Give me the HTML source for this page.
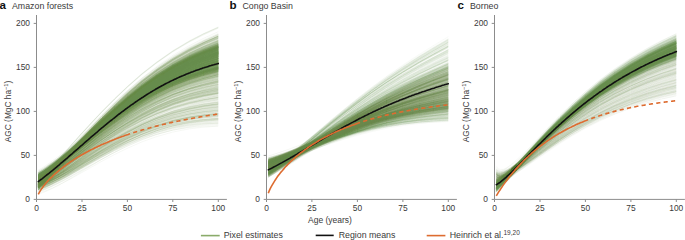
<!DOCTYPE html>
<html><head><meta charset="utf-8"><style>
html,body{margin:0;padding:0;background:#fff;width:685px;height:240px;overflow:hidden}
svg{display:block}
text{font-family:"Liberation Sans",sans-serif}
</style></head><body>
<svg xmlns="http://www.w3.org/2000/svg" width="685" height="240" viewBox="0 0 685 240">
<defs><path id="a0" d="M38.3 181.6 40.1 180.5 42.9 178.6 45.6 176.7 49.2 174.0 52.9 171.3 58.3 167.0 63.8 162.7 71.0 156.7 80.1 149.2 91.0 140.2 101.9 131.3 114.7 121.4 127.4 112.2 141.9 102.5 156.5 94.0 172.8 85.9 189.2 79.3 203.8 74.5 218.3 70.5"/><path id="a1" d="M38.3 181.6 40.1 180.6 42.9 179.0 45.6 177.2 49.2 174.7 52.9 172.1 58.3 168.0 63.8 163.8 71.0 158.1 80.1 150.8 91.0 142.0 101.9 133.5 114.7 123.9 127.4 114.9 141.9 105.5 156.5 97.3 172.8 89.5 189.2 83.2 203.8 78.6 218.3 74.9"/><path id="a2" d="M38.3 181.6 40.1 179.6 42.9 177.0 45.6 174.5 49.2 171.1 52.9 167.7 58.3 162.5 63.8 157.3 71.0 150.3 80.1 141.6 91.0 131.2 101.9 121.1 114.7 109.9 127.4 99.3 141.9 88.2 156.5 78.3 172.8 68.7 189.2 60.6 203.8 54.6 218.3 49.4"/><path id="a3" d="M38.3 181.6 40.1 179.7 42.9 177.2 45.6 174.7 49.2 171.3 52.9 168.0 58.3 162.9 63.8 157.8 71.0 150.9 80.1 142.2 91.0 132.0 101.9 122.0 114.7 110.8 127.4 100.3 141.9 89.4 156.5 79.6 172.8 70.1 189.2 62.2 203.8 56.2 218.3 51.2"/><path id="a4" d="M38.3 181.6 40.1 179.4 42.9 176.7 45.6 174.0 49.2 170.5 52.9 166.9 58.3 161.6 63.8 156.2 71.0 149.0 80.1 140.0 91.0 129.4 101.9 119.0 114.7 107.4 127.4 96.6 141.9 85.2 156.5 75.0 172.8 65.1 189.2 56.7 203.8 50.4 218.3 45.0"/><path id="a5" d="M38.3 181.6 40.1 179.4 42.9 176.6 45.6 173.8 49.2 170.2 52.9 166.6 58.3 161.2 63.8 155.7 71.0 148.5 80.1 139.4 91.0 128.6 101.9 118.2 114.7 106.5 127.4 95.5 141.9 84.0 156.5 73.7 172.8 63.7 189.2 55.2 203.8 48.8 218.3 43.2"/><path id="a6" d="M38.3 181.6 40.1 180.3 42.9 178.3 45.6 176.2 49.2 173.4 52.9 170.5 58.3 166.1 63.8 161.6 71.0 155.4 80.1 147.6 91.0 138.3 101.9 129.2 114.7 119.0 127.4 109.5 141.9 99.6 156.5 90.8 172.8 82.3 189.2 75.4 203.8 70.3 218.3 66.1"/><path id="a7" d="M38.3 181.6 40.1 180.2 42.9 178.2 45.6 176.1 49.2 173.2 52.9 170.2 58.3 165.7 63.8 161.1 71.0 154.9 80.1 147.0 91.0 137.6 101.9 128.4 114.7 118.1 127.4 108.4 141.9 98.4 156.5 89.5 172.8 80.9 189.2 73.8 203.8 68.7 218.3 64.4"/><path id="a8" d="M38.3 181.6 40.1 179.7 42.9 177.1 45.6 174.6 49.2 171.2 52.9 167.8 58.3 162.7 63.8 157.5 71.0 150.6 80.1 141.9 91.0 131.6 101.9 121.6 114.7 110.3 127.4 99.8 141.9 88.8 156.5 79.0 172.8 69.4 189.2 61.4 203.8 55.4 218.3 50.3"/><path id="a9" d="M38.3 181.6 40.1 180.0 42.9 177.7 45.6 175.4 49.2 172.3 52.9 169.2 58.3 164.4 63.8 159.5 71.0 153.0 80.1 144.8 91.0 135.0 101.9 125.4 114.7 114.7 127.4 104.6 141.9 94.2 156.5 84.9 172.8 75.9 189.2 68.4 203.8 62.9 218.3 58.2"/><path id="a10" d="M38.3 181.6 40.1 179.3 42.9 176.4 45.6 173.6 49.2 170.0 52.9 166.3 58.3 160.8 63.8 155.3 71.0 147.9 80.1 138.8 91.0 127.9 101.9 117.3 114.7 105.5 127.4 94.4 141.9 82.8 156.5 72.4 172.8 62.2 189.2 53.6 203.8 47.1 218.3 41.5"/><path id="a11" d="M38.3 181.6 40.1 179.6 42.9 177.0 45.6 174.4 49.2 171.0 52.9 167.5 58.3 162.3 63.8 157.1 71.0 150.1 80.1 141.3 91.0 130.9 101.9 120.7 114.7 109.4 127.4 98.7 141.9 87.6 156.5 77.7 172.8 68.0 189.2 59.8 203.8 53.7 218.3 48.5"/><path id="a12" d="M38.3 181.6 40.1 180.4 42.9 178.4 45.6 176.4 49.2 173.7 52.9 170.8 58.3 166.5 63.8 162.0 71.0 155.9 80.1 148.3 91.0 139.1 101.9 130.1 114.7 120.0 127.4 110.6 141.9 100.7 156.5 92.1 172.8 83.8 189.2 76.9 203.8 72.0 218.3 67.9"/><path id="a13" d="M38.3 181.6 40.1 180.3 42.9 178.2 45.6 176.2 49.2 173.3 52.9 170.4 58.3 165.9 63.8 161.3 71.0 155.1 80.1 147.3 91.0 137.9 101.9 128.8 114.7 118.5 127.4 109.0 141.9 99.0 156.5 90.1 172.8 81.6 189.2 74.6 203.8 69.5 218.3 65.2"/><path id="a14" d="M38.3 181.6 40.1 179.8 42.9 177.4 45.6 175.0 49.2 171.8 52.9 168.6 58.3 163.6 63.8 158.6 71.0 151.9 80.1 143.5 91.0 133.5 101.9 123.7 114.7 112.8 127.4 102.5 141.9 91.8 156.5 82.2 172.8 73.0 189.2 65.3 203.8 59.5 218.3 54.7"/><path id="a15" d="M38.3 181.6 40.1 180.6 42.9 178.9 45.6 177.1 49.2 174.5 52.9 171.9 58.3 167.8 63.8 163.6 71.0 157.8 80.1 150.5 91.0 141.7 101.9 133.0 114.7 123.4 127.4 114.3 141.9 104.9 156.5 96.7 172.8 88.8 189.2 82.4 203.8 77.8 218.3 74.0"/><path id="a16" d="M38.3 181.6 40.1 180.4 42.9 178.5 45.6 176.5 49.2 173.8 52.9 171.0 58.3 166.7 63.8 162.2 71.0 156.2 80.1 148.6 91.0 139.4 101.9 130.5 114.7 120.5 127.4 111.1 141.9 101.3 156.5 92.7 172.8 84.5 189.2 77.7 203.8 72.8 218.3 68.8"/><path id="a17" d="M38.3 181.6 40.1 180.5 42.9 178.8 45.6 176.9 49.2 174.3 52.9 171.6 58.3 167.4 63.8 163.1 71.0 157.3 80.1 149.8 91.0 140.9 101.9 132.2 114.7 122.4 127.4 113.3 141.9 103.7 156.5 95.4 172.8 87.4 189.2 80.8 203.8 76.1 218.3 72.3"/><path id="a18" d="M38.3 181.6 40.1 179.9 42.9 177.5 45.6 175.1 49.2 171.9 52.9 168.7 58.3 163.8 63.8 158.9 71.0 152.2 80.1 143.8 91.0 133.8 101.9 124.1 114.7 113.2 127.4 103.0 141.9 92.4 156.5 82.9 172.8 73.7 189.2 66.0 203.8 60.4 218.3 55.6"/><path id="a19" d="M38.3 181.6 40.1 180.7 42.9 179.0 45.6 177.3 49.2 174.8 52.9 172.2 58.3 168.2 63.8 164.0 71.0 158.3 80.1 151.1 91.0 142.4 101.9 133.9 114.7 124.3 127.4 115.4 141.9 106.1 156.5 98.0 172.8 90.2 189.2 83.9 203.8 79.5 218.3 75.8"/><path id="a20" d="M38.3 181.6 40.1 180.2 42.9 178.0 45.6 175.9 49.2 172.9 52.9 169.9 58.3 165.3 63.8 160.7 71.0 154.3 80.1 146.4 91.0 136.8 101.9 127.5 114.7 117.1 127.4 107.3 141.9 97.2 156.5 88.1 172.8 79.5 189.2 72.3 203.8 67.0 218.3 62.6"/><path id="a21" d="M38.3 181.6 40.1 179.5 42.9 176.8 45.6 174.1 49.2 170.6 52.9 167.1 58.3 161.8 63.8 156.4 71.0 149.3 80.1 140.3 91.0 129.8 101.9 119.4 114.7 107.9 127.4 97.1 141.9 85.8 156.5 75.7 172.8 65.8 189.2 57.5 203.8 51.2 218.3 45.9"/><path id="a22" d="M38.3 181.6 40.1 180.6 42.9 178.8 45.6 177.0 49.2 174.4 52.9 171.8 58.3 167.6 63.8 163.3 71.0 157.5 80.1 150.2 91.0 141.3 101.9 132.6 114.7 122.9 127.4 113.8 141.9 104.3 156.5 96.0 172.8 88.1 189.2 81.6 203.8 77.0 218.3 73.2"/><path id="a23" d="M38.3 181.6 40.1 179.6 42.9 176.9 45.6 174.3 49.2 170.8 52.9 167.4 58.3 162.1 63.8 156.9 71.0 149.8 80.1 141.0 91.0 130.5 101.9 120.3 114.7 108.9 127.4 98.2 141.9 87.0 156.5 77.0 172.8 67.3 189.2 59.0 203.8 52.9 218.3 47.6"/><path id="a24" d="M38.3 181.6 40.1 180.0 42.9 177.8 45.6 175.6 49.2 172.6 52.9 169.5 58.3 164.8 63.8 160.0 71.0 153.5 80.1 145.4 91.0 135.7 101.9 126.2 114.7 115.6 127.4 105.7 141.9 95.4 156.5 86.2 172.8 77.3 189.2 69.9 203.8 64.5 218.3 60.0"/><path id="a25" d="M38.3 181.6 40.1 180.0 42.9 177.8 45.6 175.5 49.2 172.4 52.9 169.3 58.3 164.6 63.8 159.8 71.0 153.3 80.1 145.1 91.0 135.3 101.9 125.8 114.7 115.2 127.4 105.2 141.9 94.8 156.5 85.5 172.8 76.6 189.2 69.2 203.8 63.7 218.3 59.1"/><path id="a26" d="M38.3 181.6 40.1 179.8 42.9 177.3 45.6 174.8 49.2 171.6 52.9 168.3 58.3 163.3 63.8 158.2 71.0 151.4 80.1 142.9 91.0 132.7 101.9 122.8 114.7 111.8 127.4 101.4 141.9 90.6 156.5 80.9 172.8 71.6 189.2 63.7 203.8 57.9 218.3 52.9"/><path id="a27" d="M38.3 181.6 40.1 180.4 42.9 178.6 45.6 176.6 49.2 173.9 52.9 171.1 58.3 166.9 63.8 162.5 71.0 156.5 80.1 148.9 91.0 139.8 101.9 130.9 114.7 121.0 127.4 111.6 141.9 101.9 156.5 93.4 172.8 85.2 189.2 78.5 203.8 73.6 218.3 69.6"/><path id="a28" d="M38.3 181.6 40.1 179.3 42.9 176.5 45.6 173.7 49.2 170.1 52.9 166.5 58.3 161.0 63.8 155.5 71.0 148.2 80.1 139.1 91.0 128.3 101.9 117.7 114.7 106.0 127.4 95.0 141.9 83.4 156.5 73.1 172.8 63.0 189.2 54.4 203.8 47.9 218.3 42.4"/><path id="a29" d="M38.3 181.6 40.1 179.3 42.9 176.4 45.6 173.5 49.2 169.8 52.9 166.2 58.3 160.6 63.8 155.1 71.0 147.7 80.1 138.4 91.0 127.5 101.9 116.9 114.7 105.0 127.4 93.9 141.9 82.2 156.5 71.8 172.8 61.5 189.2 52.8 203.8 46.3 218.3 40.6"/><path id="a30" d="M38.3 181.6 40.1 179.9 42.9 177.6 45.6 175.3 49.2 172.2 52.9 169.0 58.3 164.2 63.8 159.3 71.0 152.7 80.1 144.5 91.0 134.6 101.9 125.0 114.7 114.2 127.4 104.1 141.9 93.6 156.5 84.2 172.8 75.2 189.2 67.6 203.8 62.0 218.3 57.3"/><path id="a31" d="M38.3 181.6 40.1 180.1 42.9 178.0 45.6 175.8 49.2 172.8 52.9 169.8 58.3 165.2 63.8 160.4 71.0 154.1 80.1 146.0 91.0 136.5 101.9 127.1 114.7 116.6 127.4 106.8 141.9 96.6 156.5 87.5 172.8 78.7 189.2 71.5 203.8 66.2 218.3 61.7"/><path id="a32" d="M38.3 181.6 40.1 179.9 42.9 177.6 45.6 175.2 49.2 172.1 52.9 168.9 58.3 164.0 63.8 159.1 71.0 152.5 80.1 144.1 91.0 134.2 101.9 124.5 114.7 113.7 127.4 103.6 141.9 93.0 156.5 83.6 172.8 74.4 189.2 66.8 203.8 61.2 218.3 56.4"/><path id="a33" d="M38.3 181.6 40.1 180.7 42.9 179.1 45.6 177.4 49.2 174.9 52.9 172.4 58.3 168.4 63.8 164.2 71.0 158.6 80.1 151.4 91.0 142.8 101.9 134.3 114.7 124.8 127.4 115.9 141.9 106.7 156.5 98.6 172.8 90.9 189.2 84.7 203.8 80.3 218.3 76.7"/><path id="a34" d="M38.3 181.6 40.1 180.8 42.9 179.2 45.6 177.5 49.2 175.0 52.9 172.5 58.3 168.6 63.8 164.5 71.0 158.9 80.1 151.7 91.0 143.2 101.9 134.7 114.7 125.3 127.4 116.5 141.9 107.3 156.5 99.3 172.8 91.7 189.2 85.5 203.8 81.1 218.3 77.6"/><path id="a35" d="M38.3 181.6 40.1 179.4 42.9 176.6 45.6 173.9 49.2 170.3 52.9 166.8 58.3 161.4 63.8 156.0 71.0 148.7 80.1 139.7 91.0 129.0 101.9 118.6 114.7 107.0 127.4 96.0 141.9 84.6 156.5 74.4 172.8 64.4 189.2 55.9 203.8 49.6 218.3 44.1"/><path id="a36" d="M38.3 181.6 40.1 180.8 42.9 179.2 45.6 177.5 49.2 175.2 52.9 172.7 58.3 168.7 63.8 164.7 71.0 159.1 80.1 152.1 91.0 143.5 101.9 135.2 114.7 125.8 127.4 117.0 141.9 107.9 156.5 99.9 172.8 92.4 189.2 86.3 203.8 81.9 218.3 78.4"/><path id="a37" d="M38.3 181.6 40.1 179.8 42.9 177.4 45.6 174.9 49.2 171.7 52.9 168.4 58.3 163.5 63.8 158.4 71.0 151.7 80.1 143.2 91.0 133.1 101.9 123.3 114.7 112.3 127.4 102.0 141.9 91.2 156.5 81.6 172.8 72.3 189.2 64.5 203.8 58.7 218.3 53.8"/><path id="a38" d="M38.3 181.6 40.1 179.2 42.9 176.2 45.6 173.3 49.2 169.5 52.9 165.7 58.3 160.1 63.8 154.4 71.0 146.9 80.1 137.5 91.0 126.4 101.9 115.6 114.7 103.6 127.4 92.3 141.9 80.4 156.5 69.8 172.8 59.4 189.2 50.5 203.8 43.8 218.3 38.0"/><path id="a39" d="M38.3 181.6 40.1 180.5 42.9 178.7 45.6 176.8 49.2 174.2 52.9 171.4 58.3 167.2 63.8 162.9 71.0 157.0 80.1 149.5 91.0 140.6 101.9 131.8 114.7 121.9 127.4 112.7 141.9 103.1 156.5 94.7 172.8 86.6 189.2 80.1 203.8 75.3 218.3 71.4"/><path id="a40" d="M38.3 181.6 40.1 179.1 42.9 176.0 45.6 173.1 49.2 169.2 52.9 165.4 58.3 159.7 63.8 153.9 71.0 146.3 80.1 136.9 91.0 125.7 101.9 114.8 114.7 102.6 127.4 91.2 141.9 79.2 156.5 68.5 172.8 57.9 189.2 48.9 203.8 42.1 218.3 36.2"/><path id="a41" d="M38.3 181.6 40.1 179.7 42.9 177.2 45.6 174.8 49.2 171.4 52.9 168.1 58.3 163.1 63.8 158.0 71.0 151.1 80.1 142.6 91.0 132.4 101.9 122.4 114.7 111.3 127.4 100.9 141.9 90.0 156.5 80.3 172.8 70.8 189.2 62.9 203.8 57.1 218.3 52.0"/><path id="a42" d="M38.3 181.6 40.1 179.2 42.9 176.3 45.6 173.5 49.2 169.7 52.9 166.0 58.3 160.4 63.8 154.8 71.0 147.4 80.1 138.1 91.0 127.1 101.9 116.5 114.7 104.5 127.4 93.4 141.9 81.6 156.5 71.1 172.8 60.8 189.2 52.0 203.8 45.4 218.3 39.7"/><path id="a43" d="M38.3 181.6 40.1 180.8 42.9 179.3 45.6 177.6 49.2 175.3 52.9 172.8 58.3 168.9 63.8 164.9 71.0 159.4 80.1 152.4 91.0 143.9 101.9 135.6 114.7 126.3 127.4 117.6 141.9 108.5 156.5 100.6 172.8 93.1 189.2 87.1 203.8 82.8 218.3 79.3"/><path id="a44" d="M38.3 181.6 40.1 180.1 42.9 177.9 45.6 175.7 49.2 172.7 52.9 169.6 58.3 165.0 63.8 160.2 71.0 153.8 80.1 145.7 91.0 136.1 101.9 126.7 114.7 116.1 127.4 106.3 141.9 96.0 156.5 86.8 172.8 78.0 189.2 70.7 203.8 65.3 218.3 60.8"/><path id="a45" d="M38.3 181.6 40.1 179.5 42.9 176.8 45.6 174.2 49.2 170.7 52.9 167.2 58.3 161.9 63.8 156.6 71.0 149.5 80.1 140.7 91.0 130.1 101.9 119.9 114.7 108.4 127.4 97.7 141.9 86.4 156.5 76.3 172.8 66.5 189.2 58.3 203.8 52.1 218.3 46.8"/><path id="a46" d="M38.3 181.6 40.1 180.2 42.9 178.1 45.6 176.0 49.2 173.1 52.9 170.1 58.3 165.5 63.8 160.9 71.0 154.6 80.1 146.7 91.0 137.2 101.9 127.9 114.7 117.6 127.4 107.9 141.9 97.8 156.5 88.8 172.8 80.2 189.2 73.0 203.8 67.8 218.3 63.5"/><path id="a47" d="M38.3 181.6 40.1 180.3 42.9 178.4 45.6 176.3 49.2 173.6 52.9 170.7 58.3 166.3 63.8 161.8 71.0 155.7 80.1 147.9 91.0 138.7 101.9 129.6 114.7 119.5 127.4 110.0 141.9 100.1 156.5 91.4 172.8 83.0 189.2 76.2 203.8 71.2 218.3 67.0"/><path id="a48" d="M38.3 181.6 40.1 179.2 42.9 176.2 45.6 173.4 49.2 169.6 52.9 165.9 58.3 160.2 63.8 154.6 71.0 147.1 80.1 137.8 91.0 126.8 101.9 116.0 114.7 104.1 127.4 92.8 141.9 81.0 156.5 70.4 172.8 60.1 189.2 51.3 203.8 44.6 218.3 38.8"/><path id="a49" d="M38.3 181.6 40.1 179.1 42.9 176.1 45.6 173.2 49.2 169.3 52.9 165.5 58.3 159.9 63.8 154.2 71.0 146.6 80.1 137.2 91.0 126.0 101.9 115.2 114.7 103.1 127.4 91.7 141.9 79.8 156.5 69.1 172.8 58.6 189.2 49.7 203.8 42.9 218.3 37.1"/><path id="a50" d="M38.3 181.6 40.1 179.1 42.9 176.0 45.6 173.0 49.2 169.1 52.9 165.2 58.3 159.5 63.8 153.7 71.0 146.1 80.1 136.5 91.0 125.3 101.9 114.3 114.7 102.1 127.4 90.7 141.9 78.6 156.5 67.8 172.8 57.2 189.2 48.2 203.8 41.3 218.3 35.3"/><path id="a51" d="M38.3 181.6 40.1 179.0 42.9 175.9 45.6 172.9 49.2 169.0 52.9 165.1 58.3 159.3 63.8 153.5 71.0 145.8 80.1 136.2 91.0 124.9 101.9 113.9 114.7 101.6 127.4 90.1 141.9 78.0 156.5 67.2 172.8 56.5 189.2 47.4 203.8 40.5 218.3 34.4"/><path id="a52" d="M38.3 181.6 40.1 178.7 42.9 175.4 45.6 172.1 49.2 168.0 52.9 163.9 58.3 157.8 63.8 151.7 71.0 143.7 80.1 133.7 91.0 121.9 101.9 110.5 114.7 97.8 127.4 85.8 141.9 73.2 156.5 61.9 172.8 50.7 189.2 41.2 203.8 33.8 218.3 27.4"/><path id="a53" d="M38.3 181.6 40.1 178.8 42.9 175.4 45.6 172.2 49.2 168.1 52.9 164.0 58.3 158.0 63.8 151.9 71.0 143.9 80.1 134.0 91.0 122.3 101.9 110.9 114.7 98.3 127.4 86.4 141.9 73.8 156.5 62.6 172.8 51.5 189.2 41.9 203.8 34.7 218.3 28.3"/><path id="a54" d="M38.3 181.6 40.1 179.0 42.9 175.8 45.6 172.7 49.2 168.7 52.9 164.8 58.3 158.9 63.8 153.1 71.0 145.3 80.1 135.6 91.0 124.2 101.9 113.1 114.7 100.7 127.4 89.0 141.9 76.8 156.5 65.9 172.8 55.1 189.2 45.8 203.8 38.8 218.3 32.7"/><path id="a55" d="M38.3 181.6 40.1 179.0 42.9 175.8 45.6 172.8 49.2 168.9 52.9 164.9 58.3 159.1 63.8 153.3 71.0 145.5 80.1 135.9 91.0 124.5 101.9 113.5 114.7 101.2 127.4 89.6 141.9 77.4 156.5 66.5 172.8 55.8 189.2 46.6 203.8 39.6 218.3 33.6"/><path id="a56" d="M38.3 181.6 40.1 178.9 42.9 175.6 45.6 172.5 49.2 168.5 52.9 164.5 58.3 158.5 63.8 152.6 71.0 144.7 80.1 135.0 91.0 123.4 101.9 112.2 114.7 99.7 127.4 88.0 141.9 75.6 156.5 64.5 172.8 53.6 189.2 44.3 203.8 37.1 218.3 30.9"/><path id="a57" d="M38.3 181.6 40.1 178.7 42.9 175.2 45.6 172.0 49.2 167.7 52.9 163.6 58.3 157.4 63.8 151.3 71.0 143.1 80.1 133.0 91.0 121.2 101.9 109.7 114.7 96.8 127.4 84.7 141.9 72.0 156.5 60.6 172.8 49.3 189.2 39.6 203.8 32.2 218.3 25.6"/><path id="a58" d="M38.3 181.6 40.1 178.8 42.9 175.6 45.6 172.4 49.2 168.4 52.9 164.3 58.3 158.3 63.8 152.4 71.0 144.5 80.1 134.6 91.0 123.0 101.9 111.8 114.7 99.2 127.4 87.4 141.9 75.0 156.5 63.9 172.8 52.9 189.2 43.5 203.8 36.3 218.3 30.0"/><path id="a59" d="M38.3 181.6 40.1 178.9 42.9 175.7 45.6 172.6 49.2 168.6 52.9 164.6 58.3 158.7 63.8 152.8 71.0 145.0 80.1 135.3 91.0 123.8 101.9 112.6 114.7 100.2 127.4 88.5 141.9 76.2 156.5 65.2 172.8 54.3 189.2 45.0 203.8 38.0 218.3 31.8"/><path id="a60" d="M38.3 181.6 40.1 178.8 42.9 175.5 45.6 172.3 49.2 168.2 52.9 164.2 58.3 158.2 63.8 152.2 71.0 144.2 80.1 134.3 91.0 122.7 101.9 111.4 114.7 98.7 127.4 86.9 141.9 74.4 156.5 63.2 172.8 52.2 189.2 42.7 203.8 35.5 218.3 29.2"/><path id="a61" d="M38.3 181.6 40.1 178.7 42.9 175.3 45.6 172.1 49.2 167.9 52.9 163.7 58.3 157.6 63.8 151.5 71.0 143.4 80.1 133.4 91.0 121.6 101.9 110.1 114.7 97.3 127.4 85.3 141.9 72.6 156.5 61.3 172.8 50.0 189.2 40.4 203.8 33.0 218.3 26.5"/><path id="a62" d="M38.3 181.6 40.1 180.3 42.9 178.4 45.6 176.4 49.2 173.6 52.9 170.8 58.3 166.4 63.8 162.0 71.0 155.9 80.1 148.3 91.0 139.2 101.9 130.2 114.7 120.2 127.4 110.9 141.9 101.2 156.5 92.6 172.8 84.4 189.2 77.6 203.8 72.8 218.3 68.8"/><path id="a63" d="M38.3 181.6 40.1 180.5 42.9 178.8 45.6 177.0 49.2 174.5 52.9 171.9 58.3 167.8 63.8 163.6 71.0 158.0 80.1 150.8 91.0 142.1 101.9 133.7 114.7 124.2 127.4 115.4 141.9 106.2 156.5 98.2 172.8 90.6 189.2 84.5 203.8 80.2 218.3 76.7"/><path id="a64" d="M38.3 181.6 40.1 181.4 42.9 180.6 45.6 179.6 49.2 178.1 52.9 176.4 58.3 173.7 63.8 170.8 71.0 166.7 80.1 161.5 91.0 155.0 101.9 148.6 114.7 141.5 127.4 134.9 141.9 128.3 156.5 122.7 172.8 117.8 189.2 114.3 203.8 112.3 218.3 111.0"/><path id="a65" d="M38.3 181.6 40.1 180.5 42.9 178.7 45.6 176.9 49.2 174.4 52.9 171.7 58.3 167.7 63.8 163.5 71.0 157.7 80.1 150.5 91.0 141.8 101.9 133.3 114.7 123.8 127.4 114.9 141.9 105.7 156.5 97.6 172.8 89.9 189.2 83.7 203.8 79.4 218.3 75.8"/><path id="a66" d="M38.3 181.6 40.1 180.5 42.9 178.7 45.6 176.8 49.2 174.3 52.9 171.6 58.3 167.5 63.8 163.3 71.0 157.5 80.1 150.2 91.0 141.5 101.9 132.9 114.7 123.3 127.4 114.4 141.9 105.1 156.5 97.0 172.8 89.2 189.2 83.0 203.8 78.5 218.3 74.9"/><path id="a67" d="M38.3 181.6 40.1 180.6 42.9 178.9 45.6 177.1 49.2 174.6 52.9 172.1 58.3 168.1 63.8 164.0 71.0 158.4 80.1 151.3 91.0 142.8 101.9 134.5 114.7 125.1 127.4 116.4 141.9 107.4 156.5 99.5 172.8 92.0 189.2 86.0 203.8 81.8 218.3 78.4"/><path id="a68" d="M38.3 181.6 40.1 180.3 42.9 178.4 45.6 176.4 49.2 173.7 52.9 170.9 58.3 166.6 63.8 162.2 71.0 156.2 80.1 148.6 91.0 139.5 101.9 130.6 114.7 120.7 127.4 111.4 141.9 101.7 156.5 93.2 172.8 85.1 189.2 78.4 203.8 73.6 218.3 69.6"/><path id="a69" d="M38.3 181.6 40.1 181.3 42.9 180.5 45.6 179.4 49.2 177.8 52.9 176.1 58.3 173.3 63.8 170.3 71.0 166.1 80.1 160.6 91.0 154.0 101.9 147.5 114.7 140.2 127.4 133.4 141.9 126.6 156.5 120.9 172.8 115.7 189.2 112.0 203.8 109.8 218.3 108.4"/><path id="a70" d="M38.3 181.6 40.1 180.8 42.9 179.4 45.6 177.9 49.2 175.7 52.9 173.4 58.3 169.8 63.8 166.0 71.0 160.9 80.1 154.3 91.0 146.4 101.9 138.7 114.7 130.0 127.4 121.9 141.9 113.6 156.5 106.4 172.8 99.7 189.2 94.4 203.8 90.9 218.3 88.1"/><path id="a71" d="M38.3 181.6 40.1 180.9 42.9 179.6 45.6 178.2 49.2 176.1 52.9 174.0 58.3 170.5 63.8 167.0 71.0 162.0 80.1 155.7 91.0 148.1 101.9 140.6 114.7 132.2 127.4 124.4 141.9 116.4 156.5 109.5 172.8 103.2 189.2 98.3 203.8 95.0 218.3 92.5"/><path id="a72" d="M38.3 181.6 40.1 181.0 42.9 179.8 45.6 178.4 49.2 176.4 52.9 174.3 58.3 171.0 63.8 167.5 71.0 162.7 80.1 156.5 91.0 149.1 101.9 141.7 114.7 133.5 127.4 125.9 141.9 118.1 156.5 111.4 172.8 105.3 189.2 100.6 203.8 97.5 218.3 95.2"/><path id="a73" d="M38.3 181.6 40.1 181.3 42.9 180.3 45.6 179.2 49.2 177.5 52.9 175.7 58.3 172.8 63.8 169.7 71.0 165.4 80.1 159.8 91.0 153.0 101.9 146.3 114.7 138.9 127.4 131.9 141.9 124.9 156.5 119.0 172.8 113.6 189.2 109.7 203.8 107.3 218.3 105.7"/><path id="a74" d="M38.3 181.6 40.1 180.4 42.9 178.5 45.6 176.6 49.2 173.9 52.9 171.1 58.3 166.9 63.8 162.5 71.0 156.6 80.1 149.1 91.0 140.2 101.9 131.4 114.7 121.6 127.4 112.4 141.9 102.8 156.5 94.5 172.8 86.5 189.2 79.9 203.8 75.2 218.3 71.4"/><path id="a75" d="M38.3 181.6 40.1 180.5 42.9 178.8 45.6 177.0 49.2 174.6 52.9 172.0 58.3 168.0 63.8 163.8 71.0 158.2 80.1 151.1 91.0 142.5 101.9 134.1 114.7 124.7 127.4 115.9 141.9 106.8 156.5 98.9 172.8 91.3 189.2 85.3 203.8 81.0 218.3 77.6"/><path id="a76" d="M38.3 181.6 40.1 180.8 42.9 179.3 45.6 177.7 49.2 175.5 52.9 173.1 58.3 169.5 63.8 165.7 71.0 160.4 80.1 153.8 91.0 145.8 101.9 137.9 114.7 129.1 127.4 120.9 141.9 112.5 156.5 105.1 172.8 98.3 189.2 92.9 203.8 89.2 218.3 86.4"/><path id="a77" d="M38.3 181.6 40.1 181.1 42.9 180.0 45.6 178.8 49.2 177.0 52.9 175.0 58.3 171.9 63.8 168.6 71.0 164.0 80.1 158.2 91.0 151.0 101.9 144.0 114.7 136.2 127.4 128.9 141.9 121.5 156.5 115.2 172.8 109.5 189.2 105.1 203.8 102.4 218.3 100.4"/><path id="a78" d="M38.3 181.6 40.1 180.4 42.9 178.5 45.6 176.5 49.2 173.8 52.9 171.0 58.3 166.7 63.8 162.4 71.0 156.4 80.1 148.9 91.0 139.8 101.9 131.0 114.7 121.1 127.4 111.9 141.9 102.3 156.5 93.8 172.8 85.8 189.2 79.2 203.8 74.4 218.3 70.5"/><path id="a79" d="M38.3 181.6 40.1 180.6 42.9 178.9 45.6 177.2 49.2 174.7 52.9 172.2 58.3 168.3 63.8 164.2 71.0 158.6 80.1 151.6 91.0 143.1 101.9 134.8 114.7 125.6 127.4 116.9 141.9 107.9 156.5 100.1 172.8 92.7 189.2 86.8 203.8 82.6 218.3 79.3"/><path id="a80" d="M38.3 181.6 40.1 181.2 42.9 180.2 45.6 179.1 49.2 177.4 52.9 175.5 58.3 172.5 63.8 169.4 71.0 164.9 80.1 159.3 91.0 152.4 101.9 145.6 114.7 138.0 127.4 130.9 141.9 123.8 156.5 117.7 172.8 112.2 189.2 108.2 203.8 105.7 218.3 104.0"/><path id="a81" d="M38.3 181.6 40.1 181.4 42.9 180.7 45.6 179.7 49.2 178.2 52.9 176.6 58.3 173.9 63.8 171.0 71.0 167.0 80.1 161.7 91.0 155.3 101.9 149.0 114.7 142.0 127.4 135.4 141.9 128.9 156.5 123.4 172.8 118.5 189.2 115.1 203.8 113.1 218.3 111.9"/><path id="a82" d="M38.3 181.6 40.1 180.7 42.9 179.2 45.6 177.5 49.2 175.2 52.9 172.8 58.3 169.0 63.8 165.1 71.0 159.8 80.1 153.0 91.0 144.8 101.9 136.7 114.7 127.8 127.4 119.4 141.9 110.8 156.5 103.3 172.8 96.2 189.2 90.6 203.8 86.8 218.3 83.7"/><path id="a83" d="M38.3 181.6 40.1 180.9 42.9 179.5 45.6 178.0 49.2 175.9 52.9 173.6 58.3 170.1 63.8 166.4 71.0 161.3 80.1 154.9 91.0 147.1 101.9 139.4 114.7 130.9 127.4 122.9 141.9 114.7 156.5 107.7 172.8 101.1 189.2 96.0 203.8 92.5 218.3 89.9"/><path id="a84" d="M38.3 181.6 40.1 180.4 42.9 178.6 45.6 176.6 49.2 174.0 52.9 171.3 58.3 167.1 63.8 162.7 71.0 156.8 80.1 149.4 91.0 140.5 101.9 131.8 114.7 122.0 127.4 112.9 141.9 103.4 156.5 95.1 172.8 87.1 189.2 80.7 203.8 76.1 218.3 72.3"/><path id="a85" d="M38.3 181.6 40.1 180.7 42.9 179.3 45.6 177.7 49.2 175.4 52.9 173.0 58.3 169.3 63.8 165.5 71.0 160.2 80.1 153.5 91.0 145.4 101.9 137.5 114.7 128.7 127.4 120.4 141.9 111.9 156.5 104.5 172.8 97.6 189.2 92.2 203.8 88.4 218.3 85.5"/><path id="a86" d="M38.3 181.6 40.1 181.1 42.9 179.9 45.6 178.6 49.2 176.7 52.9 174.7 58.3 171.5 63.8 168.1 71.0 163.4 80.1 157.3 91.0 150.1 101.9 142.9 114.7 134.9 127.4 127.4 141.9 119.8 156.5 113.3 172.8 107.4 189.2 102.9 203.8 99.9 218.3 97.8"/><path id="a87" d="M38.3 181.6 40.1 181.0 42.9 179.9 45.6 178.5 49.2 176.6 52.9 174.6 58.3 171.3 63.8 167.9 71.0 163.1 80.1 157.1 91.0 149.7 101.9 142.5 114.7 134.4 127.4 126.9 141.9 119.3 156.5 112.7 172.8 106.7 189.2 102.1 203.8 99.1 218.3 96.9"/><path id="a88" d="M38.3 181.6 40.1 181.2 42.9 180.1 45.6 178.9 49.2 177.2 52.9 175.3 58.3 172.2 63.8 169.0 71.0 164.5 80.1 158.7 91.0 151.7 101.9 144.8 114.7 137.1 127.4 129.9 141.9 122.7 156.5 116.5 172.8 110.9 189.2 106.7 203.8 104.0 218.3 102.2"/><path id="a89" d="M38.3 181.6 40.1 181.1 42.9 180.0 45.6 178.7 49.2 176.9 52.9 174.9 58.3 171.8 63.8 168.4 71.0 163.8 80.1 157.9 91.0 150.7 101.9 143.6 114.7 135.8 127.4 128.4 141.9 121.0 156.5 114.6 172.8 108.8 189.2 104.4 203.8 101.6 218.3 99.6"/><path id="a90" d="M38.3 181.6 40.1 180.3 42.9 178.3 45.6 176.2 49.2 173.4 52.9 170.6 58.3 166.1 63.8 161.6 71.0 155.5 80.1 147.8 91.0 138.5 101.9 129.5 114.7 119.4 127.4 109.9 141.9 100.0 156.5 91.3 172.8 83.0 189.2 76.1 203.8 71.1 218.3 67.0"/><path id="a91" d="M38.3 181.6 40.1 180.7 42.9 179.1 45.6 177.5 49.2 175.1 52.9 172.7 58.3 168.9 63.8 164.9 71.0 159.5 80.1 152.7 91.0 144.5 101.9 136.4 114.7 127.3 127.4 118.9 141.9 110.2 156.5 102.6 172.8 95.5 189.2 89.9 203.8 85.9 218.3 82.8"/><path id="a92" d="M38.3 181.6 40.1 180.4 42.9 178.6 45.6 176.7 49.2 174.1 52.9 171.4 58.3 167.2 63.8 162.9 71.0 157.1 80.1 149.7 91.0 140.8 101.9 132.2 114.7 122.5 127.4 113.4 141.9 104.0 156.5 95.7 172.8 87.8 189.2 81.5 203.8 76.9 218.3 73.2"/><path id="a93" d="M38.3 181.6 40.1 180.8 42.9 179.4 45.6 177.9 49.2 175.8 52.9 173.5 58.3 169.9 63.8 166.2 71.0 161.1 80.1 154.6 91.0 146.8 101.9 139.0 114.7 130.4 127.4 122.4 141.9 114.2 156.5 107.0 172.8 100.4 189.2 95.2 203.8 91.7 218.3 89.0"/><path id="a94" d="M38.3 181.6 40.1 181.3 42.9 180.5 45.6 179.5 49.2 177.9 52.9 176.2 58.3 173.4 63.8 170.5 71.0 166.3 80.1 160.9 91.0 154.3 101.9 147.9 114.7 140.6 127.4 133.9 141.9 127.2 156.5 121.5 172.8 116.4 189.2 112.8 203.8 110.6 218.3 109.2"/><path id="a95" d="M38.3 181.6 40.1 181.5 42.9 180.7 45.6 179.8 49.2 178.4 52.9 176.8 58.3 174.2 63.8 171.4 71.0 167.4 80.1 162.3 91.0 156.0 101.9 149.8 114.7 142.8 127.4 136.5 141.9 130.0 156.5 124.6 172.8 119.9 189.2 116.6 203.8 114.7 218.3 113.6"/><path id="a96" d="M38.3 181.6 40.1 180.2 42.9 178.1 45.6 176.0 49.2 173.2 52.9 170.2 58.3 165.7 63.8 161.1 71.0 154.8 80.1 146.9 91.0 137.5 101.9 128.3 114.7 118.0 127.4 108.4 141.9 98.3 156.5 89.4 172.8 80.9 189.2 73.8 203.8 68.7 218.3 64.4"/><path id="a97" d="M38.3 181.6 40.1 181.2 42.9 180.2 45.6 179.0 49.2 177.3 52.9 175.4 58.3 172.4 63.8 169.2 71.0 164.7 80.1 159.0 91.0 152.0 101.9 145.2 114.7 137.5 127.4 130.4 141.9 123.2 156.5 117.1 172.8 111.6 189.2 107.4 203.8 104.9 218.3 103.1"/><path id="a98" d="M38.3 181.6 40.1 180.3 42.9 178.2 45.6 176.2 49.2 173.3 52.9 170.4 58.3 166.0 63.8 161.4 71.0 155.3 80.1 147.5 91.0 138.2 101.9 129.1 114.7 118.9 127.4 109.4 141.9 99.5 156.5 90.7 172.8 82.3 189.2 75.3 203.8 70.3 218.3 66.1"/><path id="a99" d="M38.3 181.6 40.1 180.7 42.9 179.2 45.6 177.6 49.2 175.3 52.9 172.9 58.3 169.2 63.8 165.3 71.0 160.0 80.1 153.2 91.0 145.1 101.9 137.1 114.7 128.2 127.4 119.9 141.9 111.3 156.5 103.9 172.8 96.9 189.2 91.4 203.8 87.6 218.3 84.6"/><path id="a100" d="M38.3 181.6 40.1 180.7 42.9 179.1 45.6 177.4 49.2 175.0 52.9 172.6 58.3 168.7 63.8 164.8 71.0 159.3 80.1 152.4 91.0 144.1 101.9 136.0 114.7 126.9 127.4 118.4 141.9 109.6 156.5 102.0 172.8 94.8 189.2 89.1 203.8 85.1 218.3 82.0"/><path id="a101" d="M38.3 181.6 40.1 180.8 42.9 179.4 45.6 177.8 49.2 175.6 52.9 173.3 58.3 169.6 63.8 165.9 71.0 160.7 80.1 154.1 91.0 146.1 101.9 138.3 114.7 129.5 127.4 121.4 141.9 113.0 156.5 105.8 172.8 99.0 189.2 93.7 203.8 90.0 218.3 87.2"/><path id="a102" d="M38.3 181.6 40.1 180.2 42.9 178.2 45.6 176.1 49.2 173.2 52.9 170.3 58.3 165.8 63.8 161.3 71.0 155.0 80.1 147.2 91.0 137.9 101.9 128.7 114.7 118.5 127.4 108.9 141.9 98.9 156.5 90.1 172.8 81.6 189.2 74.6 203.8 69.5 218.3 65.2"/><path id="a103" d="M38.3 181.6 40.1 181.6 42.9 181.0 45.6 180.2 49.2 178.9 52.9 177.5 58.3 175.1 63.8 172.5 71.0 168.8 80.1 163.9 91.0 158.0 101.9 152.1 114.7 145.5 127.4 139.5 141.9 133.4 156.5 128.4 172.8 124.1 189.2 121.2 203.8 119.7 218.3 118.9"/><path id="a104" d="M38.3 181.6 40.1 181.5 42.9 180.8 45.6 179.9 49.2 178.5 52.9 176.9 58.3 174.3 63.8 171.6 71.0 167.6 80.1 162.5 91.0 156.3 101.9 150.2 114.7 143.3 127.4 137.0 141.9 130.6 156.5 125.3 172.8 120.6 189.2 117.4 203.8 115.5 218.3 114.5"/><path id="a105" d="M38.3 181.6 40.1 181.1 42.9 180.1 45.6 178.9 49.2 177.1 52.9 175.1 58.3 172.1 63.8 168.8 71.0 164.3 80.1 158.4 91.0 151.4 101.9 144.4 114.7 136.6 127.4 129.4 141.9 122.1 156.5 115.8 172.8 110.2 189.2 105.9 203.8 103.2 218.3 101.3"/><path id="a106" d="M38.3 181.6 40.1 181.2 42.9 180.3 45.6 179.1 49.2 177.4 52.9 175.6 58.3 172.7 63.8 169.5 71.0 165.2 80.1 159.5 91.0 152.7 101.9 145.9 114.7 138.4 127.4 131.4 141.9 124.3 156.5 118.3 172.8 112.9 189.2 109.0 203.8 106.5 218.3 104.8"/><path id="a107" d="M38.3 181.6 40.1 180.9 42.9 179.5 45.6 178.1 49.2 176.0 52.9 173.7 58.3 170.2 63.8 166.6 71.0 161.6 80.1 155.2 91.0 147.4 101.9 139.8 114.7 131.3 127.4 123.4 141.9 115.3 156.5 108.3 172.8 101.8 189.2 96.7 203.8 93.3 218.3 90.8"/><path id="a108" d="M38.3 181.6 40.1 180.3 42.9 178.3 45.6 176.3 49.2 173.5 52.9 170.7 58.3 166.3 63.8 161.8 71.0 155.7 80.1 148.0 91.0 138.9 101.9 129.9 114.7 119.8 127.4 110.4 141.9 100.6 156.5 91.9 172.8 83.7 189.2 76.9 203.8 71.9 218.3 67.9"/><path id="a109" d="M38.3 181.6 40.1 181.0 42.9 179.7 45.6 178.3 49.2 176.3 52.9 174.2 58.3 170.8 63.8 167.3 71.0 162.5 80.1 156.3 91.0 148.7 101.9 141.3 114.7 133.1 127.4 125.4 141.9 117.6 156.5 110.8 172.8 104.6 189.2 99.8 203.8 96.6 218.3 94.3"/><path id="a110" d="M38.3 181.6 40.1 181.5 42.9 180.9 45.6 180.1 49.2 178.8 52.9 177.3 58.3 174.8 63.8 172.1 71.0 168.3 80.1 163.4 91.0 157.3 101.9 151.3 114.7 144.6 127.4 138.5 141.9 132.3 156.5 127.1 172.8 122.7 189.2 119.7 203.8 118.0 218.3 117.2"/><path id="a111" d="M38.3 181.6 40.1 181.4 42.9 180.7 45.6 179.7 49.2 178.3 52.9 176.7 58.3 174.0 63.8 171.2 71.0 167.2 80.1 162.0 91.0 155.7 101.9 149.4 114.7 142.4 127.4 135.9 141.9 129.4 156.5 124.0 172.8 119.2 189.2 115.8 203.8 113.9 218.3 112.8"/><path id="a112" d="M38.3 181.6 40.1 180.5 42.9 178.7 45.6 176.8 49.2 174.2 52.9 171.5 58.3 167.4 63.8 163.1 71.0 157.3 80.1 150.0 91.0 141.2 101.9 132.5 114.7 122.9 127.4 113.9 141.9 104.5 156.5 96.3 172.8 88.5 189.2 82.2 203.8 77.7 218.3 74.0"/><path id="a113" d="M38.3 181.6 40.1 181.3 42.9 180.4 45.6 179.3 49.2 177.6 52.9 175.8 58.3 173.0 63.8 169.9 71.0 165.6 80.1 160.1 91.0 153.3 101.9 146.7 114.7 139.3 127.4 132.4 141.9 125.5 156.5 119.6 172.8 114.3 189.2 110.5 203.8 108.1 218.3 106.6"/><path id="a114" d="M38.3 181.6 40.1 180.6 42.9 179.0 45.6 177.3 49.2 174.9 52.9 172.4 58.3 168.6 63.8 164.6 71.0 159.1 80.1 152.1 91.0 143.8 101.9 135.6 114.7 126.4 127.4 117.9 141.9 109.1 156.5 101.4 172.8 94.1 189.2 88.3 203.8 84.3 218.3 81.1"/><path id="a115" d="M38.3 181.6 40.1 180.9 42.9 179.7 45.6 178.3 49.2 176.2 52.9 174.1 58.3 170.7 63.8 167.1 71.0 162.2 80.1 156.0 91.0 148.4 101.9 141.0 114.7 132.6 127.4 124.9 141.9 117.0 156.5 110.2 172.8 103.9 189.2 99.0 203.8 95.8 218.3 93.4"/><path id="a116" d="M38.3 181.6 40.1 181.6 42.9 181.1 45.6 180.4 49.2 179.1 52.9 177.7 58.3 175.4 63.8 172.8 71.0 169.2 80.1 164.5 91.0 158.6 101.9 152.8 114.7 146.4 127.4 140.5 141.9 134.5 156.5 129.7 172.8 125.5 189.2 122.7 203.8 121.3 218.3 120.7"/><path id="a117" d="M38.3 181.6 40.1 181.0 42.9 179.8 45.6 178.5 49.2 176.5 52.9 174.4 58.3 171.1 63.8 167.7 71.0 162.9 80.1 156.8 91.0 149.4 101.9 142.1 114.7 134.0 127.4 126.4 141.9 118.7 156.5 112.1 172.8 106.0 189.2 101.3 203.8 98.3 218.3 96.0"/><path id="a118" d="M38.3 181.6 40.1 181.3 42.9 180.4 45.6 179.3 49.2 177.7 52.9 176.0 58.3 173.1 63.8 170.1 71.0 165.8 80.1 160.4 91.0 153.7 101.9 147.1 114.7 139.7 127.4 132.9 141.9 126.0 156.5 120.2 172.8 115.0 189.2 111.3 203.8 109.0 218.3 107.5"/><path id="a119" d="M38.3 181.6 40.1 180.6 42.9 179.0 45.6 177.2 49.2 174.8 52.9 172.3 58.3 168.4 63.8 164.4 71.0 158.9 80.1 151.9 91.0 143.5 101.9 135.2 114.7 126.0 127.4 117.4 141.9 108.5 156.5 100.7 172.8 93.4 189.2 87.6 203.8 83.5 218.3 80.2"/><path id="a120" d="M38.3 181.6 40.1 181.5 42.9 180.8 45.6 180.0 49.2 178.6 52.9 177.0 58.3 174.5 63.8 171.7 71.0 167.9 80.1 162.8 91.0 156.6 101.9 150.5 114.7 143.7 127.4 137.5 141.9 131.1 156.5 125.9 172.8 121.3 189.2 118.1 203.8 116.4 218.3 115.4"/><path id="a121" d="M38.3 181.6 40.1 180.2 42.9 178.1 45.6 175.9 49.2 173.0 52.9 170.0 58.3 165.4 63.8 160.7 71.0 154.4 80.1 146.4 91.0 136.9 101.9 127.6 114.7 117.1 127.4 107.4 141.9 97.2 156.5 88.2 172.8 79.5 189.2 72.3 203.8 67.0 218.3 62.6"/><path id="a122" d="M38.3 181.6 40.1 180.9 42.9 179.6 45.6 178.1 49.2 176.0 52.9 173.9 58.3 170.4 63.8 166.8 71.0 161.8 80.1 155.4 91.0 147.7 101.9 140.2 114.7 131.8 127.4 123.9 141.9 115.9 156.5 108.9 172.8 102.5 189.2 97.5 203.8 94.2 218.3 91.6"/><path id="a123" d="M38.3 181.6 40.1 181.4 42.9 180.6 45.6 179.5 49.2 178.0 52.9 176.3 58.3 173.6 63.8 170.6 71.0 166.5 80.1 161.2 91.0 154.7 101.9 148.2 114.7 141.1 127.4 134.4 141.9 127.7 156.5 122.1 172.8 117.1 189.2 113.6 203.8 111.4 218.3 110.1"/><path id="a124" d="M38.3 181.6 40.1 180.1 42.9 178.0 45.6 175.8 49.2 172.9 52.9 169.9 58.3 165.2 63.8 160.5 71.0 154.1 80.1 146.1 91.0 136.5 101.9 127.2 114.7 116.7 127.4 106.9 141.9 96.6 156.5 87.5 172.8 78.8 189.2 71.5 203.8 66.2 218.3 61.7"/><path id="a125" d="M38.3 181.6 40.1 181.1 42.9 180.0 45.6 178.7 49.2 176.8 52.9 174.8 58.3 171.6 63.8 168.2 71.0 163.6 80.1 157.6 91.0 150.4 101.9 143.3 114.7 135.3 127.4 127.9 141.9 120.4 156.5 113.9 172.8 108.1 189.2 103.6 203.8 100.7 218.3 98.7"/><path id="a126" d="M38.3 181.6 40.1 181.5 42.9 180.9 45.6 180.0 49.2 178.7 52.9 177.1 58.3 174.6 63.8 171.9 71.0 168.1 80.1 163.1 91.0 157.0 101.9 150.9 114.7 144.2 127.4 138.0 141.9 131.7 156.5 126.5 172.8 122.0 189.2 118.9 203.8 117.2 218.3 116.3"/><path id="a127" d="M38.3 181.6 40.1 181.6 42.9 181.0 45.6 180.2 49.2 178.9 52.9 177.4 58.3 174.9 63.8 172.3 71.0 168.5 80.1 163.6 91.0 157.6 101.9 151.7 114.7 145.1 127.4 139.0 141.9 132.8 156.5 127.8 172.8 123.4 189.2 120.4 203.8 118.8 218.3 118.0"/><path id="a128" d="M38.3 181.6 40.1 181.7 42.9 181.2 45.6 180.5 49.2 179.3 52.9 178.0 58.3 175.7 63.8 173.2 71.0 169.7 80.1 165.0 91.0 159.3 101.9 153.6 114.7 147.3 127.4 141.5 141.9 135.7 156.5 130.9 172.8 126.9 189.2 124.3 203.8 123.0 218.3 122.4"/><path id="a129" d="M38.3 181.6 40.1 178.6 42.9 175.2 45.6 171.9 49.2 167.6 52.9 163.4 58.3 157.2 63.8 151.0 71.0 142.9 80.1 132.7 91.0 120.8 101.9 109.2 114.7 96.3 127.4 84.2 141.9 71.4 156.5 60.0 172.8 48.6 189.2 38.8 203.8 31.3 218.3 24.8"/><path id="b0" d="M268.3 169.8 270.1 168.7 272.9 167.1 275.6 165.3 279.2 163.0 282.9 160.6 288.3 157.0 293.8 153.4 301.0 148.4 310.1 142.1 321.0 134.6 331.9 127.2 344.7 118.7 357.4 110.6 371.9 101.8 386.5 93.7 402.9 85.3 419.2 77.6 433.8 71.2 448.3 65.2"/><path id="b1" d="M268.3 169.8 270.1 168.8 272.9 167.3 275.6 165.7 279.2 163.5 282.9 161.3 288.3 157.9 293.8 154.5 301.0 149.8 310.1 144.0 321.0 136.9 331.9 130.0 344.7 122.1 357.4 114.5 371.9 106.4 386.5 98.9 402.9 91.2 419.2 84.2 433.8 78.5 448.3 73.1"/><path id="b2" d="M268.3 169.8 270.1 168.7 272.9 167.1 275.6 165.4 279.2 163.1 282.9 160.7 288.3 157.1 293.8 153.5 301.0 148.5 310.1 142.3 321.0 134.8 331.9 127.5 344.7 119.1 357.4 111.0 371.9 102.3 386.5 94.3 402.9 85.9 419.2 78.3 433.8 72.0 448.3 66.1"/><path id="b3" d="M268.3 169.8 270.1 169.3 272.9 168.4 275.6 167.4 279.2 166.2 282.9 164.8 288.3 162.8 293.8 160.7 301.0 157.8 310.1 154.2 321.0 149.8 331.9 145.5 344.7 140.7 357.4 136.3 371.9 131.7 386.5 127.8 402.9 124.1 419.2 121.1 433.8 118.9 448.3 117.1"/><path id="b4" d="M268.3 169.8 270.1 169.1 272.9 168.0 275.6 166.8 279.2 165.2 282.9 163.6 288.3 161.0 293.8 158.5 301.0 154.9 310.1 150.5 321.0 145.2 331.9 139.9 344.7 134.0 357.4 128.5 371.9 122.6 386.5 117.4 402.9 112.2 419.2 107.8 433.8 104.4 448.3 101.3"/><path id="b5" d="M268.3 169.8 270.1 168.9 272.9 167.5 275.6 166.0 279.2 164.0 282.9 161.9 288.3 158.8 293.8 155.6 301.0 151.3 310.1 145.8 321.0 139.2 331.9 132.8 344.7 125.4 357.4 118.4 371.9 111.0 386.5 104.1 402.9 97.1 419.2 90.8 433.8 85.8 448.3 81.0"/><path id="b6" d="M268.3 169.8 270.1 169.3 272.9 168.4 275.6 167.5 279.2 166.3 282.9 165.0 288.3 163.0 293.8 160.9 301.0 158.1 310.1 154.6 321.0 150.3 331.9 146.1 344.7 141.5 357.4 137.2 371.9 132.7 386.5 128.9 402.9 125.4 419.2 122.6 433.8 120.6 448.3 118.9"/><path id="b7" d="M268.3 169.8 270.1 168.8 272.9 167.2 275.6 165.5 279.2 163.3 282.9 161.0 288.3 157.5 293.8 154.0 301.0 149.2 310.1 143.1 321.0 135.9 331.9 128.7 344.7 120.6 357.4 112.8 371.9 104.4 386.5 96.6 402.9 88.5 419.2 81.2 433.8 75.3 448.3 69.6"/><path id="b8" d="M268.3 169.8 270.1 169.0 272.9 167.8 275.6 166.5 279.2 164.8 282.9 163.0 288.3 160.3 293.8 157.5 301.0 153.7 310.1 148.9 321.0 143.1 331.9 137.4 344.7 131.0 357.4 125.0 371.9 118.6 386.5 112.8 402.9 107.0 419.2 101.9 433.8 97.9 448.3 94.2"/><path id="b9" d="M268.3 169.8 270.1 169.2 272.9 168.3 275.6 167.3 279.2 166.0 282.9 164.6 288.3 162.5 293.8 160.3 301.0 157.3 310.1 153.6 321.0 149.0 331.9 144.6 344.7 139.6 357.4 135.0 371.9 130.2 386.5 126.0 402.9 122.1 419.2 118.9 433.8 116.5 448.3 114.5"/><path id="b10" d="M268.3 169.8 270.1 169.0 272.9 167.7 275.6 166.3 279.2 164.5 282.9 162.6 288.3 159.8 293.8 156.8 301.0 152.9 310.1 147.8 321.0 141.8 331.9 135.9 344.7 129.2 357.4 122.8 371.9 116.0 386.5 109.9 402.9 103.7 419.2 98.2 433.8 93.9 448.3 89.8"/><path id="b11" d="M268.3 169.8 270.1 169.3 272.9 168.4 275.6 167.5 279.2 166.3 282.9 165.1 288.3 163.1 293.8 161.1 301.0 158.3 310.1 154.8 321.0 150.6 331.9 146.4 344.7 141.9 357.4 137.6 371.9 133.3 386.5 129.5 402.9 126.0 419.2 123.3 433.8 121.4 448.3 119.8"/><path id="b12" d="M268.3 169.8 270.1 168.7 272.9 166.9 275.6 165.2 279.2 162.7 282.9 160.3 288.3 156.5 293.8 152.7 301.0 147.6 310.1 141.1 321.0 133.3 331.9 125.6 344.7 116.8 357.4 108.4 371.9 99.3 386.5 90.8 402.9 82.0 419.2 73.9 433.8 67.2 448.3 60.8"/><path id="b13" d="M268.3 169.8 270.1 169.0 272.9 167.7 275.6 166.3 279.2 164.5 282.9 162.6 288.3 159.7 293.8 156.7 301.0 152.7 310.1 147.6 321.0 141.5 331.9 135.6 344.7 128.8 357.4 122.4 371.9 115.5 386.5 109.3 402.9 103.0 419.2 97.5 433.8 93.0 448.3 89.0"/><path id="b14" d="M268.3 169.8 270.1 168.9 272.9 167.6 275.6 166.2 279.2 164.2 282.9 162.3 288.3 159.3 293.8 156.2 301.0 152.1 310.1 146.8 321.0 140.5 331.9 134.3 344.7 127.3 357.4 120.6 371.9 113.5 386.5 107.0 402.9 100.4 419.2 94.5 433.8 89.8 448.3 85.4"/><path id="b15" d="M268.3 169.8 270.1 168.8 272.9 167.2 275.6 165.6 279.2 163.4 282.9 161.2 288.3 157.8 293.8 154.4 301.0 149.7 310.1 143.7 321.0 136.7 331.9 129.6 344.7 121.7 357.4 114.1 371.9 105.9 386.5 98.3 402.9 90.5 419.2 83.5 433.8 77.7 448.3 72.2"/><path id="b16" d="M268.3 169.8 270.1 169.0 272.9 167.8 275.6 166.5 279.2 164.7 282.9 162.9 288.3 160.2 293.8 157.3 301.0 153.5 310.1 148.7 321.0 142.8 331.9 137.1 344.7 130.7 357.4 124.5 371.9 118.1 386.5 112.2 402.9 106.3 419.2 101.2 433.8 97.1 448.3 93.4"/><path id="b17" d="M268.3 169.8 270.1 169.1 272.9 167.9 275.6 166.6 279.2 164.9 282.9 163.2 288.3 160.6 293.8 157.8 301.0 154.1 310.1 149.5 321.0 143.9 331.9 138.4 344.7 132.1 357.4 126.3 371.9 120.1 386.5 114.5 402.9 108.9 419.2 104.1 433.8 100.3 448.3 96.9"/><path id="b18" d="M268.3 169.8 270.1 168.9 272.9 167.4 275.6 165.9 279.2 163.9 282.9 161.9 288.3 158.7 293.8 155.5 301.0 151.1 310.1 145.6 321.0 139.0 331.9 132.4 344.7 125.1 357.4 118.0 371.9 110.5 386.5 103.5 402.9 96.4 419.2 90.1 433.8 85.0 448.3 80.2"/><path id="b19" d="M268.3 169.8 270.1 169.1 272.9 167.9 275.6 166.7 279.2 165.0 282.9 163.3 288.3 160.7 293.8 158.0 301.0 154.3 310.1 149.7 321.0 144.1 331.9 138.7 344.7 132.5 357.4 126.7 371.9 120.6 386.5 115.1 402.9 109.6 419.2 104.8 433.8 101.1 448.3 97.8"/><path id="b20" d="M268.3 169.8 270.1 168.9 272.9 167.4 275.6 165.8 279.2 163.8 282.9 161.6 288.3 158.4 293.8 155.1 301.0 150.6 310.1 145.0 321.0 138.2 331.9 131.5 344.7 123.9 357.4 116.7 371.9 108.9 386.5 101.8 402.9 94.5 419.2 87.9 433.8 82.5 448.3 77.5"/><path id="b21" d="M268.3 169.8 270.1 168.9 272.9 167.5 275.6 166.0 279.2 164.1 282.9 162.1 288.3 159.0 293.8 155.8 301.0 151.6 310.1 146.2 321.0 139.7 331.9 133.4 344.7 126.2 357.4 119.3 371.9 112.0 386.5 105.2 402.9 98.4 419.2 92.3 433.8 87.4 448.3 82.8"/><path id="b22" d="M268.3 169.8 270.1 168.7 272.9 167.0 275.6 165.3 279.2 162.9 282.9 160.5 288.3 156.8 293.8 153.1 301.0 148.1 310.1 141.7 321.0 134.1 331.9 126.5 344.7 118.0 357.4 109.7 371.9 100.8 386.5 92.5 402.9 83.9 419.2 76.1 433.8 69.6 448.3 63.4"/><path id="b23" d="M268.3 169.8 270.1 169.2 272.9 168.2 275.6 167.2 279.2 165.8 282.9 164.4 288.3 162.2 293.8 160.0 301.0 156.9 310.1 152.9 321.0 148.3 331.9 143.6 344.7 138.5 357.4 133.7 371.9 128.7 386.5 124.3 402.9 120.1 419.2 116.7 433.8 114.1 448.3 111.8"/><path id="b24" d="M268.3 169.8 270.1 169.2 272.9 168.3 275.6 167.4 279.2 166.1 282.9 164.7 288.3 162.6 293.8 160.4 301.0 157.5 310.1 153.8 321.0 149.3 331.9 144.9 344.7 140.0 357.4 135.4 371.9 130.7 386.5 126.6 402.9 122.7 419.2 119.6 433.8 117.3 448.3 115.4"/><path id="b25" d="M268.3 169.8 270.1 168.8 272.9 167.3 275.6 165.7 279.2 163.6 282.9 161.4 288.3 158.1 293.8 154.7 301.0 150.1 310.1 144.4 321.0 137.4 331.9 130.6 344.7 122.8 357.4 115.4 371.9 107.4 386.5 100.0 402.9 92.5 419.2 85.7 433.8 80.1 448.3 74.9"/><path id="b26" d="M268.3 169.8 270.1 169.1 272.9 168.0 275.6 166.8 279.2 165.3 282.9 163.6 288.3 161.1 293.8 158.6 301.0 155.1 310.1 150.7 321.0 145.4 331.9 140.2 344.7 134.4 357.4 128.9 371.9 123.1 386.5 118.0 402.9 112.9 419.2 108.5 433.8 105.2 448.3 102.2"/><path id="b27" d="M268.3 169.8 270.1 169.3 272.9 168.5 275.6 167.7 279.2 166.6 282.9 165.4 288.3 163.6 293.8 161.7 301.0 159.1 310.1 155.8 321.0 151.9 331.9 148.0 344.7 143.7 357.4 139.8 371.9 135.8 386.5 132.4 402.9 129.3 419.2 127.0 433.8 125.4 448.3 124.2"/><path id="b28" d="M268.3 169.8 270.1 168.8 272.9 167.2 275.6 165.6 279.2 163.4 282.9 161.1 288.3 157.7 293.8 154.2 301.0 149.5 310.1 143.5 321.0 136.4 331.9 129.3 344.7 121.3 357.4 113.6 371.9 105.4 386.5 97.7 402.9 89.9 419.2 82.7 433.8 76.9 448.3 71.4"/><path id="b29" d="M268.3 169.8 270.1 169.0 272.9 167.7 275.6 166.4 279.2 164.6 282.9 162.7 288.3 159.9 293.8 157.0 301.0 153.0 310.1 148.0 321.0 142.1 331.9 136.2 344.7 129.5 357.4 123.2 371.9 116.5 386.5 110.4 402.9 104.3 419.2 98.9 433.8 94.7 448.3 90.7"/><path id="b30" d="M268.3 169.8 270.1 169.1 272.9 168.1 275.6 166.9 279.2 165.4 282.9 163.8 288.3 161.4 293.8 159.0 301.0 155.6 310.1 151.3 321.0 146.2 331.9 141.2 344.7 135.5 357.4 130.2 371.9 124.6 386.5 119.7 402.9 114.9 419.2 110.8 433.8 107.6 448.3 104.8"/><path id="b31" d="M268.3 169.8 270.1 168.8 272.9 167.1 275.6 165.4 279.2 163.1 282.9 160.8 288.3 157.2 293.8 153.6 301.0 148.7 310.1 142.5 321.0 135.1 331.9 127.8 344.7 119.5 357.4 111.5 371.9 102.9 386.5 94.8 402.9 86.6 419.2 79.0 433.8 72.8 448.3 67.0"/><path id="b32" d="M268.3 169.8 270.1 169.1 272.9 167.9 275.6 166.7 279.2 165.1 282.9 163.4 288.3 160.8 293.8 158.2 301.0 154.6 310.1 150.1 321.0 144.6 331.9 139.3 344.7 133.3 357.4 127.6 371.9 121.6 386.5 116.2 402.9 110.9 419.2 106.3 433.8 102.8 448.3 99.5"/><path id="b33" d="M268.3 169.8 270.1 169.0 272.9 167.6 275.6 166.3 279.2 164.4 282.9 162.5 288.3 159.6 293.8 156.6 301.0 152.5 310.1 147.4 321.0 141.3 331.9 135.2 344.7 128.4 357.4 121.9 371.9 115.0 386.5 108.7 402.9 102.4 419.2 96.7 433.8 92.2 448.3 88.1"/><path id="b34" d="M268.3 169.8 270.1 169.1 272.9 167.9 275.6 166.8 279.2 165.1 282.9 163.5 288.3 160.9 293.8 158.3 301.0 154.8 310.1 150.3 321.0 144.9 331.9 139.6 344.7 133.6 357.4 128.0 371.9 122.1 386.5 116.8 402.9 111.6 419.2 107.1 433.8 103.6 448.3 100.4"/><path id="b35" d="M268.3 169.8 270.1 169.0 272.9 167.8 275.6 166.5 279.2 164.8 282.9 163.1 288.3 160.4 293.8 157.6 301.0 153.8 310.1 149.1 321.0 143.4 331.9 137.7 344.7 131.4 357.4 125.4 371.9 119.1 386.5 113.3 402.9 107.6 419.2 102.6 433.8 98.7 448.3 95.1"/><path id="b36" d="M268.3 169.8 270.1 169.2 272.9 168.2 275.6 167.1 279.2 165.7 282.9 164.2 288.3 161.9 293.8 159.6 301.0 156.4 310.1 152.3 321.0 147.5 331.9 142.7 344.7 137.4 357.4 132.4 371.9 127.2 386.5 122.6 402.9 118.1 419.2 114.4 433.8 111.7 448.3 109.2"/><path id="b37" d="M268.3 169.8 270.1 168.9 272.9 167.4 275.6 165.9 279.2 163.8 282.9 161.7 288.3 158.5 293.8 155.2 301.0 150.8 310.1 145.2 321.0 138.5 331.9 131.8 344.7 124.3 357.4 117.1 371.9 109.4 386.5 102.4 402.9 95.1 419.2 88.6 433.8 83.3 448.3 78.4"/><path id="b38" d="M268.3 169.8 270.1 169.2 272.9 168.1 275.6 167.0 279.2 165.6 282.9 164.1 288.3 161.7 293.8 159.3 301.0 156.1 310.1 151.9 321.0 147.0 331.9 142.1 344.7 136.6 357.4 131.5 371.9 126.2 386.5 121.4 402.9 116.8 419.2 113.0 433.8 110.0 448.3 107.4"/><path id="b39" d="M268.3 169.8 270.1 169.3 272.9 168.6 275.6 167.8 279.2 166.6 282.9 165.5 288.3 163.7 293.8 161.8 301.0 159.3 310.1 156.0 321.0 152.1 331.9 148.3 344.7 144.1 357.4 140.2 371.9 136.3 386.5 133.0 402.9 130.0 419.2 127.7 433.8 126.2 448.3 125.0"/><path id="b40" d="M268.3 169.8 270.1 169.1 272.9 168.0 275.6 166.9 279.2 165.3 282.9 163.7 288.3 161.2 293.8 158.7 301.0 155.3 310.1 150.9 321.0 145.7 331.9 140.5 344.7 134.8 357.4 129.3 371.9 123.6 386.5 118.5 402.9 113.5 419.2 109.3 433.8 106.0 448.3 103.0"/><path id="b41" d="M268.3 169.8 270.1 169.2 272.9 168.3 275.6 167.3 279.2 165.9 282.9 164.6 288.3 162.4 293.8 160.2 301.0 157.2 310.1 153.4 321.0 148.8 331.9 144.3 344.7 139.2 357.4 134.5 371.9 129.7 386.5 125.5 402.9 121.4 419.2 118.1 433.8 115.7 448.3 113.6"/><path id="b42" d="M268.3 169.8 270.1 168.8 272.9 167.1 275.6 165.5 279.2 163.2 282.9 160.9 288.3 157.4 293.8 153.9 301.0 149.0 310.1 142.9 321.0 135.6 331.9 128.4 344.7 120.2 357.4 112.3 371.9 103.9 386.5 96.0 402.9 87.9 419.2 80.5 433.8 74.4 448.3 68.7"/><path id="b43" d="M268.3 169.8 270.1 169.1 272.9 168.1 275.6 167.0 279.2 165.5 282.9 163.9 288.3 161.5 293.8 159.1 301.0 155.7 310.1 151.5 321.0 146.4 331.9 141.5 344.7 135.9 357.4 130.6 371.9 125.1 386.5 120.3 402.9 115.5 419.2 111.5 433.8 108.4 448.3 105.7"/><path id="b44" d="M268.3 169.8 270.1 169.2 272.9 168.2 275.6 167.2 279.2 165.7 282.9 164.3 288.3 162.0 293.8 159.7 301.0 156.5 310.1 152.5 321.0 147.7 331.9 143.0 344.7 137.7 357.4 132.8 371.9 127.7 386.5 123.2 402.9 118.8 419.2 115.2 433.8 112.5 448.3 110.1"/><path id="b45" d="M268.3 169.8 270.1 169.0 272.9 167.6 275.6 166.2 279.2 164.3 282.9 162.4 288.3 159.5 293.8 156.5 301.0 152.4 310.1 147.2 321.0 141.0 331.9 134.9 344.7 128.0 357.4 121.5 371.9 114.5 386.5 108.1 402.9 101.7 419.2 96.0 433.8 91.4 448.3 87.2"/><path id="b46" d="M268.3 169.8 270.1 168.9 272.9 167.5 275.6 166.0 279.2 164.0 282.9 162.0 288.3 158.9 293.8 155.7 301.0 151.4 310.1 146.0 321.0 139.5 331.9 133.1 344.7 125.8 357.4 118.9 371.9 111.5 386.5 104.7 402.9 97.8 419.2 91.6 433.8 86.6 448.3 81.9"/><path id="b47" d="M268.3 169.8 270.1 169.2 272.9 168.3 275.6 167.3 279.2 165.9 282.9 164.5 288.3 162.3 293.8 160.1 301.0 157.0 310.1 153.2 321.0 148.5 331.9 144.0 344.7 138.9 357.4 134.1 371.9 129.2 386.5 124.9 402.9 120.8 419.2 117.4 433.8 114.9 448.3 112.7"/><path id="b48" d="M268.3 169.8 270.1 169.1 272.9 168.0 275.6 166.9 279.2 165.4 282.9 163.8 288.3 161.3 293.8 158.8 301.0 155.4 310.1 151.1 321.0 145.9 331.9 140.8 344.7 135.1 357.4 129.8 371.9 124.1 386.5 119.1 402.9 114.2 419.2 110.0 433.8 106.8 448.3 103.9"/><path id="b49" d="M268.3 169.8 270.1 168.8 272.9 167.1 275.6 165.4 279.2 163.2 282.9 160.9 288.3 157.3 293.8 153.7 301.0 148.9 310.1 142.7 321.0 135.4 331.9 128.1 344.7 119.8 357.4 111.9 371.9 103.4 386.5 95.4 402.9 87.2 419.2 79.8 433.8 73.6 448.3 67.8"/><path id="b50" d="M268.3 169.8 270.1 168.9 272.9 167.4 275.6 165.9 279.2 163.9 282.9 161.8 288.3 158.6 293.8 155.3 301.0 150.9 310.1 145.4 321.0 138.7 331.9 132.1 344.7 124.7 357.4 117.6 371.9 109.9 386.5 102.9 402.9 95.8 419.2 89.4 433.8 84.2 448.3 79.3"/><path id="b51" d="M268.3 169.8 270.1 169.3 272.9 168.3 275.6 167.4 279.2 166.1 282.9 164.8 288.3 162.7 293.8 160.6 301.0 157.7 310.1 154.0 321.0 149.5 331.9 145.2 344.7 140.4 357.4 135.9 371.9 131.2 386.5 127.2 402.9 123.4 419.2 120.3 433.8 118.1 448.3 116.2"/><path id="b52" d="M268.3 169.8 270.1 169.0 272.9 167.6 275.6 166.2 279.2 164.3 282.9 162.4 288.3 159.4 293.8 156.3 301.0 152.2 310.1 147.0 321.0 140.8 331.9 134.6 344.7 127.7 357.4 121.0 371.9 114.0 386.5 107.6 402.9 101.0 419.2 95.3 433.8 90.6 448.3 86.3"/><path id="b53" d="M268.3 169.8 270.1 168.8 272.9 167.3 275.6 165.7 279.2 163.5 282.9 161.4 288.3 158.0 293.8 154.6 301.0 150.0 310.1 144.2 321.0 137.2 331.9 130.3 344.7 122.4 357.4 114.9 371.9 106.9 386.5 99.5 402.9 91.8 419.2 84.9 433.8 79.3 448.3 74.0"/><path id="b54" d="M268.3 169.8 270.1 168.7 272.9 167.0 275.6 165.3 279.2 163.0 282.9 160.6 288.3 156.9 293.8 153.2 301.0 148.2 310.1 141.9 321.0 134.3 331.9 126.8 344.7 118.3 357.4 110.2 371.9 101.3 386.5 93.1 402.9 84.6 419.2 76.8 433.8 70.4 448.3 64.3"/><path id="b55" d="M268.3 169.8 270.1 168.9 272.9 167.5 275.6 166.1 279.2 164.2 282.9 162.2 288.3 159.2 293.8 156.1 301.0 151.9 310.1 146.6 321.0 140.3 331.9 134.0 344.7 126.9 357.4 120.2 371.9 113.0 386.5 106.4 402.9 99.7 419.2 93.8 433.8 89.0 448.3 84.6"/><path id="b56" d="M268.3 169.8 270.1 169.0 272.9 167.8 275.6 166.6 279.2 164.9 282.9 163.1 288.3 160.5 293.8 157.7 301.0 154.0 310.1 149.3 321.0 143.6 331.9 138.0 344.7 131.8 357.4 125.8 371.9 119.6 386.5 113.9 402.9 108.3 419.2 103.4 433.8 99.5 448.3 96.0"/><path id="b57" d="M268.3 169.8 270.1 169.0 272.9 167.7 275.6 166.4 279.2 164.6 282.9 162.8 288.3 160.0 293.8 157.1 301.0 153.2 310.1 148.2 321.0 142.3 331.9 136.5 344.7 129.9 357.4 123.7 371.9 117.0 386.5 111.0 402.9 105.0 419.2 99.7 433.8 95.5 448.3 91.6"/><path id="b58" d="M268.3 169.8 270.1 168.8 272.9 167.3 275.6 165.8 279.2 163.7 282.9 161.5 288.3 158.2 293.8 154.8 301.0 150.3 310.1 144.6 321.0 137.7 331.9 130.9 344.7 123.2 357.4 115.8 371.9 107.9 386.5 100.6 402.9 93.1 419.2 86.4 433.8 80.9 448.3 75.8"/><path id="b59" d="M268.3 169.8 270.1 169.2 272.9 168.1 275.6 167.0 279.2 165.5 282.9 164.0 288.3 161.6 293.8 159.2 301.0 155.9 310.1 151.7 321.0 146.7 331.9 141.8 344.7 136.3 357.4 131.1 371.9 125.7 386.5 120.8 402.9 116.2 419.2 112.2 433.8 109.2 448.3 106.6"/><path id="b60" d="M268.3 169.8 270.1 168.7 272.9 167.0 275.6 165.2 279.2 162.9 282.9 160.4 288.3 156.7 293.8 153.0 301.0 147.9 310.1 141.5 321.0 133.8 331.9 126.2 344.7 117.6 357.4 109.3 371.9 100.3 386.5 92.0 402.9 83.3 419.2 75.3 433.8 68.8 448.3 62.6"/><path id="b61" d="M268.3 169.8 270.1 169.3 272.9 168.4 275.6 167.5 279.2 166.2 282.9 164.9 288.3 162.9 293.8 160.8 301.0 158.0 310.1 154.4 321.0 150.1 331.9 145.8 344.7 141.1 357.4 136.7 371.9 132.2 386.5 128.4 402.9 124.7 419.2 121.8 433.8 119.7 448.3 118.0"/><path id="b62" d="M268.3 169.8 270.1 168.8 272.9 167.2 275.6 165.6 279.2 163.3 282.9 161.1 288.3 157.6 293.8 154.1 301.0 149.3 310.1 143.3 321.0 136.1 331.9 129.0 344.7 120.9 357.4 113.2 371.9 104.9 386.5 97.2 402.9 89.2 419.2 82.0 433.8 76.1 448.3 70.5"/><path id="b63" d="M268.3 169.8 270.1 169.0 272.9 167.7 275.6 166.4 279.2 164.7 282.9 162.9 288.3 160.1 293.8 157.2 301.0 153.3 310.1 148.5 321.0 142.6 331.9 136.8 344.7 130.3 357.4 124.1 371.9 117.5 386.5 111.6 402.9 105.6 419.2 100.4 433.8 96.3 448.3 92.5"/><path id="b64" d="M268.3 169.8 270.1 169.2 272.9 168.1 275.6 167.1 279.2 165.6 282.9 164.1 288.3 161.8 293.8 159.5 301.0 156.2 310.1 152.1 321.0 147.2 331.9 142.4 344.7 137.0 357.4 131.9 371.9 126.7 386.5 122.0 402.9 117.5 419.2 113.7 433.8 110.8 448.3 108.3"/><path id="b65" d="M268.3 169.8 270.1 169.1 272.9 167.9 275.6 166.7 279.2 165.0 282.9 163.3 288.3 160.7 293.8 158.1 301.0 154.5 310.1 149.9 321.0 144.4 331.9 139.0 344.7 132.9 357.4 127.1 371.9 121.1 386.5 115.6 402.9 110.2 419.2 105.6 433.8 101.9 448.3 98.6"/><path id="b66" d="M268.3 169.8 270.1 169.2 272.9 168.2 275.6 167.2 279.2 165.8 282.9 164.3 288.3 162.1 293.8 159.8 301.0 156.7 310.1 152.7 321.0 148.0 331.9 143.3 344.7 138.1 357.4 133.2 371.9 128.2 386.5 123.7 402.9 119.5 419.2 115.9 433.8 113.3 448.3 111.0"/><path id="b67" d="M268.3 169.8 270.1 168.9 272.9 167.5 275.6 166.1 279.2 164.1 282.9 162.1 288.3 159.1 293.8 156.0 301.0 151.7 310.1 146.4 321.0 140.0 331.9 133.7 344.7 126.5 357.4 119.7 371.9 112.5 386.5 105.8 402.9 99.1 419.2 93.0 433.8 88.2 448.3 83.7"/><path id="b68" d="M268.3 169.8 270.1 169.3 272.9 168.5 275.6 167.6 279.2 166.4 282.9 165.1 288.3 163.2 293.8 161.2 301.0 158.5 310.1 155.0 321.0 150.8 331.9 146.8 344.7 142.2 357.4 138.0 371.9 133.8 386.5 130.1 402.9 126.7 419.2 124.0 433.8 122.2 448.3 120.6"/><path id="b69" d="M268.3 169.8 270.1 168.9 272.9 167.3 275.6 165.8 279.2 163.7 282.9 161.6 288.3 158.3 293.8 155.0 301.0 150.5 310.1 144.8 321.0 137.9 331.9 131.2 344.7 123.6 357.4 116.3 371.9 108.4 386.5 101.2 402.9 93.8 419.2 87.1 433.8 81.7 448.3 76.6"/><path id="b70" d="M268.3 169.8 270.1 168.7 272.9 167.0 275.6 165.2 279.2 162.8 282.9 160.4 288.3 156.6 293.8 152.9 301.0 147.7 310.1 141.3 321.0 133.6 331.9 125.9 344.7 117.2 357.4 108.9 371.9 99.8 386.5 91.4 402.9 82.6 419.2 74.6 433.8 68.0 448.3 61.7"/><path id="b71" d="M268.3 169.8 270.1 168.7 272.9 166.9 275.6 165.1 279.2 162.7 282.9 160.2 288.3 156.4 293.8 152.6 301.0 147.4 310.1 140.9 321.0 133.0 331.9 125.3 344.7 116.5 357.4 108.0 371.9 98.8 386.5 90.2 402.9 81.3 419.2 73.1 433.8 66.4 448.3 59.9"/><path id="b72" d="M268.3 169.8 270.1 168.6 272.9 166.8 275.6 165.0 279.2 162.5 282.9 159.9 288.3 156.1 293.8 152.1 301.0 146.8 310.1 140.1 321.0 132.0 331.9 124.0 344.7 115.0 357.4 106.2 371.9 96.8 386.5 87.9 402.9 78.7 419.2 70.2 433.8 63.1 448.3 56.4"/><path id="b73" d="M268.3 169.8 270.1 169.3 272.9 168.5 275.6 167.6 279.2 166.5 282.9 165.3 288.3 163.4 293.8 161.4 301.0 158.8 310.1 155.4 321.0 151.3 331.9 147.4 344.7 143.0 357.4 138.9 371.9 134.8 386.5 131.2 402.9 128.0 419.2 125.5 433.8 123.8 448.3 122.4"/><path id="b74" d="M268.3 169.8 270.1 169.3 272.9 168.5 275.6 167.6 279.2 166.4 282.9 165.2 288.3 163.3 293.8 161.3 301.0 158.6 310.1 155.2 321.0 151.1 331.9 147.1 344.7 142.6 357.4 138.5 371.9 134.3 386.5 130.7 402.9 127.4 419.2 124.8 433.8 123.0 448.3 121.5"/><path id="b75" d="M268.3 169.8 270.1 169.3 272.9 168.5 275.6 167.7 279.2 166.5 282.9 165.3 288.3 163.5 293.8 161.6 301.0 158.9 310.1 155.6 321.0 151.6 331.9 147.7 344.7 143.3 357.4 139.3 371.9 135.3 386.5 131.8 402.9 128.7 419.2 126.2 433.8 124.6 448.3 123.3"/><path id="b76" d="M268.3 169.8 270.1 168.6 272.9 166.7 275.6 164.7 279.2 162.1 282.9 159.4 288.3 155.4 293.8 151.2 301.0 145.7 310.1 138.6 321.0 130.2 331.9 121.9 344.7 112.4 357.4 103.2 371.9 93.2 386.5 83.9 402.9 74.1 419.2 65.0 433.8 57.5 448.3 50.2"/><path id="b77" d="M268.3 169.8 270.1 168.6 272.9 166.7 275.6 164.8 279.2 162.2 282.9 159.5 288.3 155.5 293.8 151.4 301.0 145.8 310.1 138.8 321.0 130.5 331.9 122.2 344.7 112.7 357.4 103.6 371.9 93.7 386.5 84.4 402.9 74.7 419.2 65.7 433.8 58.3 448.3 51.1"/><path id="b78" d="M268.3 169.8 270.1 168.6 272.9 166.8 275.6 164.9 279.2 162.4 282.9 159.8 288.3 155.9 293.8 151.9 301.0 146.5 310.1 139.7 321.0 131.5 331.9 123.4 344.7 114.2 357.4 105.4 371.9 95.8 386.5 86.8 402.9 77.4 419.2 68.7 433.8 61.5 448.3 54.6"/><path id="b79" d="M268.3 169.8 270.1 168.6 272.9 166.8 275.6 164.9 279.2 162.3 282.9 159.7 288.3 155.8 293.8 151.7 301.0 146.3 310.1 139.5 321.0 131.2 331.9 123.1 344.7 113.9 357.4 104.9 371.9 95.3 386.5 86.2 402.9 76.7 419.2 68.0 433.8 60.7 448.3 53.8"/><path id="b80" d="M268.3 169.8 270.1 168.6 272.9 166.8 275.6 164.9 279.2 162.4 282.9 159.9 288.3 156.0 293.8 152.0 301.0 146.6 310.1 139.9 321.0 131.8 331.9 123.7 344.7 114.6 357.4 105.8 371.9 96.3 386.5 87.3 402.9 78.0 419.2 69.4 433.8 62.3 448.3 55.5"/><path id="b81" d="M268.3 169.8 270.1 168.5 272.9 166.4 275.6 164.2 279.2 161.4 282.9 158.4 288.3 154.0 293.8 149.5 301.0 143.4 310.1 135.8 321.0 126.6 331.9 117.5 344.7 107.1 357.4 97.1 371.9 86.1 386.5 75.8 402.9 64.9 419.2 54.7 433.8 46.1 448.3 37.9"/><path id="b82" d="M268.3 169.8 270.1 168.7 272.9 166.9 275.6 165.1 279.2 162.6 282.9 160.1 288.3 156.3 293.8 152.4 301.0 147.1 310.1 140.5 321.0 132.5 331.9 124.7 344.7 115.7 357.4 107.1 371.9 97.8 386.5 89.1 402.9 80.0 419.2 71.6 433.8 64.7 448.3 58.2"/><path id="b83" d="M268.3 169.8 270.1 168.6 272.9 166.7 275.6 164.8 279.2 162.3 282.9 159.7 288.3 155.7 293.8 151.6 301.0 146.1 310.1 139.3 321.0 131.0 331.9 122.8 344.7 113.5 357.4 104.5 371.9 94.7 386.5 85.6 402.9 76.0 419.2 67.2 433.8 59.9 448.3 52.9"/><path id="b84" d="M268.3 169.8 270.1 168.6 272.9 166.7 275.6 164.7 279.2 162.1 282.9 159.4 288.3 155.3 293.8 151.1 301.0 145.5 310.1 138.4 321.0 129.9 331.9 121.6 344.7 112.0 357.4 102.8 371.9 92.7 386.5 83.3 402.9 73.4 419.2 64.3 433.8 56.6 448.3 49.4"/><path id="b85" d="M268.3 169.8 270.1 168.5 272.9 166.5 275.6 164.5 279.2 161.7 282.9 158.9 288.3 154.7 293.8 150.4 301.0 144.5 310.1 137.2 321.0 128.4 331.9 119.7 344.7 109.7 357.4 100.1 371.9 89.7 386.5 79.8 402.9 69.5 419.2 59.8 433.8 51.8 448.3 44.1"/><path id="b86" d="M268.3 169.8 270.1 168.6 272.9 166.6 275.6 164.6 279.2 161.9 282.9 159.2 288.3 155.0 293.8 150.7 301.0 145.0 310.1 137.8 321.0 129.2 331.9 120.6 344.7 110.9 357.4 101.4 371.9 91.2 386.5 81.6 402.9 71.4 419.2 62.1 433.8 54.2 448.3 46.7"/><path id="b87" d="M268.3 169.8 270.1 168.5 272.9 166.5 275.6 164.4 279.2 161.6 282.9 158.7 288.3 154.4 293.8 150.0 301.0 144.1 310.1 136.6 321.0 127.6 331.9 118.8 344.7 108.6 357.4 98.8 371.9 88.2 386.5 78.1 402.9 67.5 419.2 57.6 433.8 49.4 448.3 41.4"/><path id="b88" d="M268.3 169.8 270.1 168.6 272.9 166.6 275.6 164.6 279.2 161.9 282.9 159.2 288.3 155.1 293.8 150.9 301.0 145.2 310.1 138.0 321.0 129.4 331.9 120.9 344.7 111.2 357.4 101.9 371.9 91.7 386.5 82.1 402.9 72.1 419.2 62.8 433.8 55.0 448.3 47.6"/><path id="b89" d="M268.3 169.8 270.1 168.5 272.9 166.5 275.6 164.4 279.2 161.6 282.9 158.8 288.3 154.5 293.8 150.1 301.0 144.2 310.1 136.8 321.0 127.9 331.9 119.1 344.7 109.0 357.4 99.3 371.9 88.7 386.5 78.7 402.9 68.2 419.2 58.4 433.8 50.2 448.3 42.3"/><path id="b90" d="M268.3 169.8 270.1 168.4 272.9 166.3 275.6 164.2 279.2 161.3 282.9 158.3 288.3 153.8 293.8 149.2 301.0 143.1 310.1 135.4 321.0 126.1 331.9 116.9 344.7 106.4 357.4 96.2 371.9 85.1 386.5 74.6 402.9 63.5 419.2 53.2 433.8 44.5 448.3 36.2"/><path id="b91" d="M268.3 169.8 270.1 168.5 272.9 166.3 275.6 164.2 279.2 161.3 282.9 158.4 288.3 153.9 293.8 149.4 301.0 143.3 310.1 135.6 321.0 126.3 331.9 117.2 344.7 106.8 357.4 96.7 371.9 85.6 386.5 75.2 402.9 64.2 419.2 53.9 433.8 45.3 448.3 37.0"/><path id="b92" d="M268.3 169.8 270.1 168.6 272.9 166.6 275.6 164.7 279.2 162.0 282.9 159.3 288.3 155.2 293.8 151.0 301.0 145.3 310.1 138.2 321.0 129.7 331.9 121.2 344.7 111.6 357.4 102.3 371.9 92.2 386.5 82.7 402.9 72.8 419.2 63.5 433.8 55.8 448.3 48.5"/><path id="b93" d="M268.3 169.8 270.1 168.5 272.9 166.4 275.6 164.3 279.2 161.4 282.9 158.5 288.3 154.1 293.8 149.6 301.0 143.6 310.1 136.0 321.0 126.9 331.9 117.8 344.7 107.5 357.4 97.5 371.9 86.6 386.5 76.4 402.9 65.5 419.2 55.4 433.8 46.9 448.3 38.8"/><path id="b94" d="M268.3 169.8 270.1 168.5 272.9 166.4 275.6 164.3 279.2 161.5 282.9 158.7 288.3 154.3 293.8 149.9 301.0 143.9 310.1 136.4 321.0 127.4 331.9 118.4 344.7 108.3 357.4 98.4 371.9 87.7 386.5 77.5 402.9 66.8 419.2 56.9 433.8 48.6 448.3 40.6"/><path id="b95" d="M268.3 169.8 270.1 168.7 272.9 166.9 275.6 165.0 279.2 162.5 282.9 160.0 288.3 156.2 293.8 152.2 301.0 146.9 310.1 140.3 321.0 132.3 331.9 124.4 344.7 115.3 357.4 106.7 371.9 97.3 386.5 88.5 402.9 79.3 419.2 70.9 433.8 63.9 448.3 57.3"/><path id="b96" d="M268.3 169.8 270.1 168.5 272.9 166.5 275.6 164.4 279.2 161.7 282.9 158.9 288.3 154.6 293.8 150.2 301.0 144.4 310.1 137.0 321.0 128.1 331.9 119.4 344.7 109.4 357.4 99.7 371.9 89.2 386.5 79.2 402.9 68.8 419.2 59.1 433.8 51.0 448.3 43.2"/><path id="b97" d="M268.3 169.8 270.1 168.4 272.9 166.3 275.6 164.1 279.2 161.1 282.9 158.1 288.3 153.5 293.8 148.9 301.0 142.6 310.1 134.8 321.0 125.3 331.9 116.0 344.7 105.3 357.4 94.9 371.9 83.6 386.5 72.9 402.9 61.6 419.2 51.0 433.8 42.1 448.3 33.5"/><path id="b98" d="M268.3 169.8 270.1 168.6 272.9 166.7 275.6 164.8 279.2 162.2 282.9 159.6 288.3 155.6 293.8 151.5 301.0 146.0 310.1 139.0 321.0 130.7 331.9 122.5 344.7 113.1 357.4 104.1 371.9 94.2 386.5 85.0 402.9 75.4 419.2 66.5 433.8 59.1 448.3 52.0"/><path id="b99" d="M268.3 169.8 270.1 168.4 272.9 166.3 275.6 164.1 279.2 161.1 282.9 158.2 288.3 153.6 293.8 149.0 301.0 142.8 310.1 135.0 321.0 125.6 331.9 116.3 344.7 105.6 357.4 95.3 371.9 84.1 386.5 73.5 402.9 62.2 419.2 51.7 433.8 42.9 448.3 34.4"/><path id="b100" d="M268.3 169.8 270.1 168.5 272.9 166.4 275.6 164.3 279.2 161.5 282.9 158.6 288.3 154.2 293.8 149.7 301.0 143.7 310.1 136.2 321.0 127.1 331.9 118.1 344.7 107.9 357.4 98.0 371.9 87.1 386.5 76.9 402.9 66.2 419.2 56.2 433.8 47.8 448.3 39.7"/><path id="b101" d="M268.3 169.8 270.1 168.4 272.9 166.3 275.6 164.1 279.2 161.2 282.9 158.2 288.3 153.7 293.8 149.1 301.0 142.9 310.1 135.2 321.0 125.8 331.9 116.6 344.7 106.0 357.4 95.8 371.9 84.6 386.5 74.0 402.9 62.9 419.2 52.5 433.8 43.7 448.3 35.3"/><path id="b102" d="M268.3 169.8 270.1 168.5 272.9 166.6 275.6 164.6 279.2 161.8 282.9 159.1 288.3 154.9 293.8 150.6 301.0 144.9 310.1 137.6 321.0 128.9 331.9 120.3 344.7 110.5 357.4 101.0 371.9 90.7 386.5 81.0 402.9 70.8 419.2 61.3 433.8 53.4 448.3 45.8"/><path id="b103" d="M268.3 169.8 270.1 168.4 272.9 166.2 275.6 164.0 279.2 161.0 282.9 158.0 288.3 153.4 293.8 148.8 301.0 142.5 310.1 134.5 321.0 125.1 331.9 115.6 344.7 104.9 357.4 94.5 371.9 83.1 386.5 72.3 402.9 60.9 419.2 50.3 433.8 41.3 448.3 32.6"/><path id="b104" d="M268.3 169.8 270.1 168.5 272.9 166.5 275.6 164.5 279.2 161.8 282.9 159.0 288.3 154.8 293.8 150.5 301.0 144.7 310.1 137.4 321.0 128.7 331.9 120.0 344.7 110.1 357.4 100.6 371.9 90.2 386.5 80.4 402.9 70.1 419.2 60.6 433.8 52.6 448.3 45.0"/><path id="b105" d="M268.3 169.8 270.1 168.7 272.9 166.9 275.6 165.1 279.2 162.6 282.9 160.1 288.3 156.3 293.8 152.5 301.0 147.3 310.1 140.7 321.0 132.8 331.9 125.0 344.7 116.1 357.4 107.5 371.9 98.3 386.5 89.6 402.9 80.6 419.2 72.4 433.8 65.5 448.3 59.0"/><path id="b106" d="M268.3 169.8 270.1 169.4 272.9 168.6 275.6 167.8 279.2 166.7 282.9 165.6 288.3 163.9 293.8 162.1 301.0 159.6 310.1 156.4 321.0 152.6 331.9 148.9 344.7 144.8 357.4 141.1 371.9 137.3 386.5 134.1 402.9 131.3 419.2 129.2 433.8 127.8 448.3 126.8"/><path id="b107" d="M268.3 169.8 270.1 169.4 272.9 168.6 275.6 167.9 279.2 166.8 282.9 165.7 288.3 164.0 293.8 162.2 301.0 159.7 310.1 156.6 321.0 152.9 331.9 149.2 344.7 145.2 357.4 141.5 371.9 137.8 386.5 134.7 402.9 132.0 419.2 129.9 433.8 128.6 448.3 127.7"/><path id="b108" d="M268.3 169.8 270.1 169.4 272.9 168.7 275.6 168.0 279.2 167.0 282.9 166.0 288.3 164.4 293.8 162.7 301.0 160.4 310.1 157.4 321.0 153.9 331.9 150.5 344.7 146.7 357.4 143.3 371.9 139.8 386.5 137.0 402.9 134.6 419.2 132.9 433.8 131.9 448.3 131.2"/><path id="b109" d="M268.3 169.8 270.1 169.4 272.9 168.7 275.6 167.9 279.2 166.9 282.9 165.8 288.3 164.1 293.8 162.3 301.0 159.9 310.1 156.8 321.0 153.1 331.9 149.6 344.7 145.6 357.4 142.0 371.9 138.3 386.5 135.3 402.9 132.6 419.2 130.7 433.8 129.4 448.3 128.6"/><path id="b110" d="M268.3 169.8 270.1 169.4 272.9 168.7 275.6 168.0 279.2 167.0 282.9 165.9 288.3 164.3 293.8 162.6 301.0 160.2 310.1 157.2 321.0 153.7 331.9 150.2 344.7 146.3 357.4 142.8 371.9 139.3 386.5 136.4 402.9 133.9 419.2 132.1 433.8 131.1 448.3 130.3"/><path id="b111" d="M268.3 169.8 270.1 169.4 272.9 168.6 275.6 167.8 279.2 166.7 282.9 165.6 288.3 163.8 293.8 161.9 301.0 159.4 310.1 156.2 321.0 152.4 331.9 148.6 344.7 144.5 357.4 140.6 371.9 136.8 386.5 133.6 402.9 130.6 419.2 128.5 433.8 127.0 448.3 125.9"/><path id="b112" d="M268.3 169.8 270.1 169.4 272.9 168.7 275.6 167.9 279.2 166.9 282.9 165.8 288.3 164.2 293.8 162.4 301.0 160.1 310.1 157.0 321.0 153.4 331.9 149.9 344.7 146.0 357.4 142.4 371.9 138.8 386.5 135.9 402.9 133.3 419.2 131.4 433.8 130.3 448.3 129.4"/><path id="b113" d="M268.3 169.8 270.1 169.4 272.9 168.7 275.6 168.0 279.2 167.1 282.9 166.1 288.3 164.5 293.8 162.8 301.0 160.5 310.1 157.7 321.0 154.2 331.9 150.8 344.7 147.1 357.4 143.7 371.9 140.3 386.5 137.6 402.9 135.2 419.2 133.6 433.8 132.7 448.3 132.1"/><path id="c0" d="M496.3 184.7 498.1 183.9 500.9 182.1 503.6 180.1 507.2 177.1 510.9 173.8 516.3 168.7 521.8 163.4 529.0 156.2 538.1 147.2 549.0 136.7 559.9 126.8 572.7 115.8 585.4 105.7 599.9 95.2 614.5 85.7 630.9 76.3 647.2 68.1 661.8 61.7 676.3 56.0"/><path id="c1" d="M496.3 184.7 498.1 182.7 500.9 180.1 503.6 177.4 507.2 173.6 510.9 169.7 516.3 163.7 521.8 157.7 529.0 149.5 538.1 139.5 549.0 127.9 559.9 116.8 572.7 104.8 585.4 93.6 599.9 81.9 614.5 71.4 630.9 60.8 647.2 51.5 661.8 44.1 676.3 37.5"/><path id="c2" d="M496.3 184.7 498.1 184.1 500.9 182.6 503.6 180.7 507.2 177.9 510.9 174.8 516.3 169.9 521.8 164.7 529.0 157.8 538.1 149.0 549.0 138.9 559.9 129.1 572.7 118.4 585.4 108.6 599.9 98.3 614.5 89.2 630.9 80.0 647.2 72.1 661.8 65.9 676.3 60.4"/><path id="c3" d="M496.3 184.7 498.1 183.7 500.9 181.8 503.6 179.7 507.2 176.6 510.9 173.2 516.3 168.0 521.8 162.5 529.0 155.2 538.1 146.1 549.0 135.5 559.9 125.3 572.7 114.2 585.4 104.0 599.9 93.3 614.5 83.7 630.9 74.1 647.2 65.7 661.8 59.2 676.3 53.4"/><path id="c4" d="M496.3 184.7 498.1 183.8 500.9 181.9 503.6 179.8 507.2 176.7 510.9 173.4 516.3 168.2 521.8 162.8 529.0 155.5 538.1 146.5 549.0 135.9 559.9 125.8 572.7 114.8 585.4 104.5 599.9 93.9 614.5 84.4 630.9 74.9 647.2 66.5 661.8 60.0 676.3 54.2"/><path id="c5" d="M496.3 184.7 498.1 182.5 500.9 179.7 503.6 176.9 507.2 173.0 510.9 169.0 516.3 162.8 521.8 156.6 529.0 148.3 538.1 138.1 549.0 126.2 559.9 115.0 572.7 102.7 585.4 91.3 599.9 79.4 614.5 68.7 630.9 57.9 647.2 48.3 661.8 40.8 676.3 34.0"/><path id="c6" d="M496.3 184.7 498.1 182.9 500.9 180.4 503.6 177.8 507.2 174.1 510.9 170.3 516.3 164.4 521.8 158.5 529.0 150.5 538.1 140.6 549.0 129.2 559.9 118.3 572.7 106.3 585.4 95.3 599.9 83.8 614.5 73.4 630.9 63.0 647.2 53.8 661.8 46.6 676.3 40.2"/><path id="c7" d="M496.3 184.7 498.1 182.9 500.9 180.5 503.6 177.9 507.2 174.3 510.9 170.5 516.3 164.7 521.8 158.7 529.0 150.8 538.1 141.0 549.0 129.6 559.9 118.7 572.7 106.9 585.4 95.9 599.9 84.4 614.5 74.1 630.9 63.8 647.2 54.6 661.8 47.4 676.3 41.0"/><path id="c8" d="M496.3 184.7 498.1 183.4 500.9 181.3 503.6 178.9 507.2 175.6 510.9 172.1 516.3 166.6 521.8 160.9 529.0 153.3 538.1 143.9 549.0 133.0 559.9 122.5 572.7 111.1 585.4 100.5 599.9 89.5 614.5 79.6 630.9 69.7 647.2 61.0 661.8 54.1 676.3 48.1"/><path id="c9" d="M496.3 184.7 498.1 183.1 500.9 180.9 503.6 178.4 507.2 174.9 510.9 171.3 516.3 165.6 521.8 159.8 529.0 152.1 538.1 142.5 549.0 131.3 559.9 120.6 572.7 109.0 585.4 98.2 599.9 87.0 614.5 76.9 630.9 66.7 647.2 57.8 661.8 50.8 676.3 44.6"/><path id="c10" d="M496.3 184.7 498.1 183.5 500.9 181.5 503.6 179.3 507.2 176.1 510.9 172.6 516.3 167.3 521.8 161.7 529.0 154.3 538.1 145.0 549.0 134.2 559.9 123.9 572.7 112.7 585.4 102.2 599.9 91.4 614.5 81.6 630.9 71.9 647.2 63.3 661.8 56.7 676.3 50.7"/><path id="c11" d="M496.3 184.7 498.1 183.1 500.9 180.8 503.6 178.3 507.2 174.8 510.9 171.1 516.3 165.4 521.8 159.6 529.0 151.7 538.1 142.1 549.0 130.8 559.9 120.1 572.7 108.4 585.4 97.6 599.9 86.3 614.5 76.2 630.9 66.0 647.2 57.0 661.8 50.0 676.3 43.7"/><path id="c12" d="M496.3 184.7 498.1 183.0 500.9 180.6 503.6 178.0 507.2 174.4 510.9 170.7 516.3 164.9 521.8 159.0 529.0 151.1 538.1 141.4 549.0 130.0 559.9 119.2 572.7 107.4 585.4 96.5 599.9 85.1 614.5 74.8 630.9 64.5 647.2 55.4 661.8 48.3 676.3 41.9"/><path id="c13" d="M496.3 184.7 498.1 183.0 500.9 180.7 503.6 178.2 507.2 174.6 510.9 170.9 516.3 165.1 521.8 159.3 529.0 151.4 538.1 141.7 549.0 130.4 559.9 119.7 572.7 107.9 585.4 97.0 599.9 85.7 614.5 75.5 630.9 65.2 647.2 56.2 661.8 49.1 676.3 42.8"/><path id="c14" d="M496.3 184.7 498.1 183.6 500.9 181.7 503.6 179.6 507.2 176.4 510.9 173.0 516.3 167.7 521.8 162.3 529.0 154.9 538.1 145.7 549.0 135.1 559.9 124.9 572.7 113.7 585.4 103.4 599.9 92.7 614.5 83.0 630.9 73.4 647.2 64.9 661.8 58.3 676.3 52.5"/><path id="c15" d="M496.3 184.7 498.1 183.3 500.9 181.2 503.6 178.8 507.2 175.4 510.9 171.9 516.3 166.3 521.8 160.6 529.0 153.0 538.1 143.6 549.0 132.5 559.9 122.0 572.7 110.5 585.4 99.9 599.9 88.9 614.5 78.9 630.9 68.9 647.2 60.2 661.8 53.3 676.3 47.2"/><path id="c16" d="M496.3 184.7 498.1 182.8 500.9 180.3 503.6 177.6 507.2 174.0 510.9 170.1 516.3 164.2 521.8 158.2 529.0 150.2 538.1 140.3 549.0 128.7 559.9 117.8 572.7 105.8 585.4 94.7 599.9 83.2 614.5 72.8 630.9 62.3 647.2 53.1 661.8 45.8 676.3 39.3"/><path id="c17" d="M496.3 184.7 498.1 182.7 500.9 180.2 503.6 177.5 507.2 173.8 510.9 169.9 516.3 164.0 521.8 157.9 529.0 149.8 538.1 139.9 549.0 128.3 559.9 117.3 572.7 105.3 585.4 94.2 599.9 82.5 614.5 72.1 630.9 61.6 647.2 52.3 661.8 44.9 676.3 38.4"/><path id="c18" d="M496.3 184.7 498.1 184.0 500.9 182.3 503.6 180.3 507.2 177.4 510.9 174.2 516.3 169.1 521.8 163.9 529.0 156.8 538.1 147.9 549.0 137.6 559.9 127.7 572.7 116.9 585.4 106.9 599.9 96.5 614.5 87.1 630.9 77.8 647.2 69.7 661.8 63.3 676.3 57.8"/><path id="c19" d="M496.3 184.7 498.1 183.4 500.9 181.4 503.6 179.1 507.2 175.8 510.9 172.3 516.3 166.8 521.8 161.2 529.0 153.6 538.1 144.3 549.0 133.4 559.9 123.0 572.7 111.6 585.4 101.1 599.9 90.1 614.5 80.3 630.9 70.4 647.2 61.8 661.8 55.0 676.3 49.0"/><path id="c20" d="M496.3 184.7 498.1 183.5 500.9 181.4 503.6 179.2 507.2 175.9 510.9 172.5 516.3 167.0 521.8 161.5 529.0 154.0 538.1 144.6 549.0 133.8 559.9 123.4 572.7 112.1 585.4 101.7 599.9 90.8 614.5 81.0 630.9 71.2 647.2 62.6 661.8 55.8 676.3 49.8"/><path id="c21" d="M496.3 184.7 498.1 183.8 500.9 182.0 503.6 180.0 507.2 176.9 510.9 173.6 516.3 168.4 521.8 163.1 529.0 155.9 538.1 146.8 549.0 136.3 559.9 126.3 572.7 115.3 585.4 105.1 599.9 94.6 614.5 85.1 630.9 75.6 647.2 67.3 661.8 60.8 676.3 55.1"/><path id="c22" d="M496.3 184.7 498.1 182.3 500.9 179.4 503.6 176.5 507.2 172.5 510.9 168.4 516.3 162.1 521.8 155.7 529.0 147.3 538.1 137.0 549.0 125.0 559.9 113.5 572.7 101.1 585.4 89.5 599.9 77.5 614.5 66.6 630.9 55.6 647.2 45.9 661.8 38.2 676.3 31.4"/><path id="c23" d="M496.3 184.7 498.1 183.9 500.9 182.2 503.6 180.2 507.2 177.2 510.9 174.0 516.3 168.9 521.8 163.6 529.0 156.5 538.1 147.6 549.0 137.2 559.9 127.2 572.7 116.3 585.4 106.3 599.9 95.8 614.5 86.4 630.9 77.1 647.2 68.9 661.8 62.5 676.3 56.9"/><path id="c24" d="M496.3 184.7 498.1 183.2 500.9 181.0 503.6 178.5 507.2 175.1 510.9 171.5 516.3 165.9 521.8 160.1 529.0 152.4 538.1 142.8 549.0 131.7 559.9 121.1 572.7 109.5 585.4 98.8 599.9 87.6 614.5 77.5 630.9 67.5 647.2 58.6 661.8 51.6 676.3 45.4"/><path id="c25" d="M496.3 184.7 498.1 184.0 500.9 182.4 503.6 180.5 507.2 177.6 510.9 174.4 516.3 169.4 521.8 164.2 529.0 157.1 538.1 148.3 549.0 138.0 559.9 128.2 572.7 117.4 585.4 107.4 599.9 97.1 614.5 87.8 630.9 78.6 647.2 70.5 661.8 64.2 676.3 58.6"/><path id="c26" d="M496.3 184.7 498.1 183.6 500.9 181.6 503.6 179.4 507.2 176.2 510.9 172.8 516.3 167.5 521.8 162.0 529.0 154.6 538.1 145.4 549.0 134.6 559.9 124.4 572.7 113.2 585.4 102.8 599.9 92.0 614.5 82.3 630.9 72.6 647.2 64.1 661.8 57.5 676.3 51.6"/><path id="c27" d="M496.3 184.7 498.1 184.1 500.9 182.5 503.6 180.6 507.2 177.7 510.9 174.6 516.3 169.6 521.8 164.5 529.0 157.4 538.1 148.7 549.0 138.4 559.9 128.6 572.7 117.9 585.4 108.0 599.9 97.7 614.5 88.5 630.9 79.3 647.2 71.3 661.8 65.0 676.3 59.5"/><path id="c28" d="M496.3 184.7 498.1 183.3 500.9 181.1 503.6 178.7 507.2 175.3 510.9 171.7 516.3 166.1 521.8 160.4 529.0 152.7 538.1 143.2 549.0 132.1 559.9 121.6 572.7 110.0 585.4 99.4 599.9 88.2 614.5 78.2 630.9 68.2 647.2 59.4 661.8 52.5 676.3 46.3"/><path id="c29" d="M496.3 184.7 498.1 182.6 500.9 179.9 503.6 177.1 507.2 173.3 510.9 169.3 516.3 163.3 521.8 157.1 529.0 148.9 538.1 138.8 549.0 127.1 559.9 115.9 572.7 103.7 585.4 92.4 599.9 80.7 614.5 70.0 630.9 59.3 647.2 49.9 661.8 42.4 676.3 35.8"/><path id="c30" d="M496.3 184.7 498.1 182.6 500.9 180.0 503.6 177.3 507.2 173.5 510.9 169.5 516.3 163.5 521.8 157.4 529.0 149.2 538.1 139.2 549.0 127.5 559.9 116.4 572.7 104.2 585.4 93.0 599.9 81.3 614.5 70.7 630.9 60.1 647.2 50.7 661.8 43.3 676.3 36.6"/><path id="c31" d="M496.3 184.7 498.1 182.5 500.9 179.8 503.6 177.0 507.2 173.1 510.9 169.1 516.3 163.0 521.8 156.8 529.0 148.6 538.1 138.4 549.0 126.6 559.9 115.4 572.7 103.2 585.4 91.9 599.9 80.0 614.5 69.3 630.9 58.6 647.2 49.1 661.8 41.6 676.3 34.9"/><path id="c32" d="M496.3 184.7 498.1 184.3 500.9 182.9 503.6 181.1 507.2 178.4 510.9 175.4 516.3 170.6 521.8 165.5 529.0 158.7 538.1 150.1 549.0 140.1 559.9 130.5 572.7 120.0 585.4 110.3 599.9 100.2 614.5 91.2 630.9 82.2 647.2 74.4 661.8 68.4 676.3 63.0"/><path id="c33" d="M496.3 184.7 498.1 184.2 500.9 182.7 503.6 180.9 507.2 178.0 510.9 175.0 516.3 170.1 521.8 165.0 529.0 158.1 538.1 149.4 549.0 139.3 559.9 129.6 572.7 119.0 585.4 109.2 599.9 99.0 614.5 89.8 630.9 80.8 647.2 72.8 661.8 66.7 676.3 61.3"/><path id="c34" d="M496.3 184.7 498.1 184.4 500.9 183.1 503.6 181.4 507.2 178.7 510.9 175.8 516.3 171.0 521.8 166.1 529.0 159.3 538.1 150.9 549.0 141.0 559.9 131.5 572.7 121.1 585.4 111.5 599.9 101.5 614.5 92.6 630.9 83.7 647.2 76.0 661.8 70.0 676.3 64.8"/><path id="c35" d="M496.3 184.7 498.1 182.4 500.9 179.5 503.6 176.6 507.2 172.6 510.9 168.6 516.3 162.3 521.8 156.0 529.0 147.6 538.1 137.3 549.0 125.4 559.9 114.0 572.7 101.6 585.4 90.1 599.9 78.1 614.5 67.3 630.9 56.4 647.2 46.7 661.8 39.1 676.3 32.2"/><path id="c36" d="M496.3 184.7 498.1 184.3 500.9 182.8 503.6 181.0 507.2 178.2 510.9 175.2 516.3 170.3 521.8 165.3 529.0 158.4 538.1 149.8 549.0 139.7 559.9 130.1 572.7 119.5 585.4 109.7 599.9 99.6 614.5 90.5 630.9 81.5 647.2 73.6 661.8 67.5 676.3 62.2"/><path id="c37" d="M496.3 184.7 498.1 182.4 500.9 179.6 503.6 176.7 507.2 172.8 510.9 168.8 516.3 162.6 521.8 156.3 529.0 147.9 538.1 137.7 549.0 125.8 559.9 114.5 572.7 102.1 585.4 90.7 599.9 78.8 614.5 68.0 630.9 57.1 647.2 47.5 661.8 39.9 676.3 33.1"/><path id="c38" d="M496.3 184.7 498.1 182.2 500.9 179.3 503.6 176.4 507.2 172.3 510.9 168.2 516.3 161.8 521.8 155.5 529.0 147.0 538.1 136.6 549.0 124.5 559.9 113.1 572.7 100.6 585.4 89.0 599.9 76.9 614.5 65.9 630.9 54.9 647.2 45.1 661.8 37.4 676.3 30.5"/><path id="c39" d="M496.3 184.7 498.1 182.1 500.9 179.1 503.6 176.1 507.2 172.0 510.9 167.8 516.3 161.4 521.8 154.9 529.0 146.4 538.1 135.9 549.0 123.7 559.9 112.1 572.7 99.5 585.4 87.8 599.9 75.6 614.5 64.6 630.9 53.4 647.2 43.6 661.8 35.7 676.3 28.7"/><path id="c40" d="M496.3 184.7 498.1 182.2 500.9 179.2 503.6 176.2 507.2 172.2 510.9 168.0 516.3 161.6 521.8 155.2 529.0 146.7 538.1 136.2 549.0 124.1 559.9 112.6 572.7 100.0 585.4 88.4 599.9 76.2 614.5 65.2 630.9 54.2 647.2 44.3 661.8 36.6 676.3 29.6"/><path id="c41" d="M496.3 184.7 498.1 182.0 500.9 178.9 503.6 175.8 507.2 171.7 510.9 167.4 516.3 160.9 521.8 154.4 529.0 145.7 538.1 135.1 549.0 122.8 559.9 111.2 572.7 98.4 585.4 86.7 599.9 74.3 614.5 63.2 630.9 51.9 647.2 42.0 661.8 34.1 676.3 27.0"/><path id="c42" d="M496.3 184.7 498.1 184.6 500.9 183.4 503.6 181.8 507.2 179.2 510.9 176.3 516.3 171.7 521.8 166.9 529.0 160.3 538.1 152.0 549.0 142.2 559.9 132.9 572.7 122.6 585.4 113.2 599.9 103.4 614.5 94.6 630.9 85.9 647.2 78.4 661.8 72.5 676.3 67.4"/><path id="c43" d="M496.3 184.7 498.1 184.8 500.9 183.7 503.6 182.1 507.2 179.7 510.9 176.9 516.3 172.4 521.8 167.7 529.0 161.2 538.1 153.1 549.0 143.5 559.9 134.3 572.7 124.2 585.4 114.9 599.9 105.3 614.5 96.7 630.9 88.2 647.2 80.8 661.8 75.1 676.3 70.1"/><path id="c44" d="M496.3 184.7 498.1 186.9 500.9 187.5 503.6 187.1 507.2 186.1 510.9 184.5 516.3 181.6 521.8 178.3 529.0 173.6 538.1 167.4 549.0 159.9 559.9 152.7 572.7 144.7 585.4 137.4 599.9 129.9 614.5 123.3 630.9 117.0 647.2 111.6 661.8 107.7 676.3 104.4"/><path id="c45" d="M496.3 184.7 498.1 187.0 500.9 187.6 503.6 187.4 507.2 186.4 510.9 184.9 516.3 182.1 521.8 178.9 529.0 174.2 538.1 168.1 549.0 160.8 559.9 153.6 572.7 145.8 585.4 138.6 599.9 131.2 614.5 124.7 630.9 118.5 647.2 113.2 661.8 109.4 676.3 106.2"/><path id="c46" d="M496.3 184.7 498.1 185.8 500.9 185.5 503.6 184.6 507.2 182.8 510.9 180.6 516.3 176.9 521.8 172.9 529.0 167.2 538.1 160.0 549.0 151.5 559.9 143.3 572.7 134.2 585.4 125.9 599.9 117.3 614.5 109.7 630.9 102.2 647.2 95.8 661.8 91.0 676.3 86.8"/><path id="c47" d="M496.3 184.7 498.1 184.7 500.9 183.6 503.6 182.0 507.2 179.5 510.9 176.7 516.3 172.2 521.8 167.4 529.0 160.9 538.1 152.7 549.0 143.1 559.9 133.8 572.7 123.7 585.4 114.4 599.9 104.7 614.5 96.0 630.9 87.4 647.2 80.0 661.8 74.2 676.3 69.2"/><path id="c48" d="M496.3 184.7 498.1 185.8 500.9 185.4 503.6 184.4 507.2 182.6 510.9 180.4 516.3 176.7 521.8 172.6 529.0 166.9 538.1 159.7 549.0 151.1 559.9 142.8 572.7 133.7 585.4 125.3 599.9 116.7 614.5 109.0 630.9 101.5 647.2 95.0 661.8 90.1 676.3 85.9"/><path id="c49" d="M496.3 184.7 498.1 185.4 500.9 184.8 503.6 183.7 507.2 181.6 510.9 179.3 516.3 175.3 521.8 171.0 529.0 165.0 538.1 157.5 549.0 148.5 559.9 140.0 572.7 130.5 585.4 121.9 599.9 112.9 614.5 104.9 630.9 97.0 647.2 90.3 661.8 85.1 676.3 80.6"/><path id="c50" d="M496.3 184.7 498.1 186.2 500.9 186.2 503.6 185.5 507.2 183.9 510.9 182.0 516.3 178.6 521.8 174.8 529.0 169.5 538.1 162.6 549.0 154.4 559.9 146.6 572.7 137.9 585.4 129.9 599.9 121.7 614.5 114.5 630.9 107.4 647.2 101.3 661.8 96.8 676.3 93.0"/><path id="c51" d="M496.3 184.7 498.1 185.1 500.9 184.3 503.6 182.9 507.2 180.7 510.9 178.1 516.3 173.9 521.8 169.4 529.0 163.1 538.1 155.3 549.0 146.0 559.9 137.1 572.7 127.4 585.4 118.4 599.9 109.1 614.5 100.8 630.9 92.6 647.2 85.5 661.8 80.1 676.3 75.4"/><path id="c52" d="M496.3 184.7 498.1 186.1 500.9 186.0 503.6 185.2 507.2 183.6 510.9 181.6 516.3 178.1 521.8 174.3 529.0 168.8 538.1 161.9 549.0 153.6 559.9 145.6 572.7 136.9 585.4 128.8 599.9 120.5 614.5 113.1 630.9 105.9 647.2 99.8 661.8 95.1 676.3 91.2"/><path id="c53" d="M496.3 184.7 498.1 186.4 500.9 186.6 503.6 186.0 507.2 184.6 510.9 182.8 516.3 179.5 521.8 175.9 529.0 170.7 538.1 164.1 549.0 156.1 559.9 148.4 572.7 140.0 585.4 132.2 599.9 124.3 614.5 117.2 630.9 110.3 647.2 104.5 661.8 100.2 676.3 96.5"/><path id="c54" d="M496.3 184.7 498.1 186.7 500.9 187.1 503.6 186.6 507.2 185.4 510.9 183.7 516.3 180.7 521.8 177.2 529.0 172.3 538.1 165.9 549.0 158.2 559.9 150.8 572.7 142.6 585.4 135.1 599.9 127.4 614.5 120.6 630.9 114.0 647.2 108.5 661.8 104.3 676.3 100.9"/><path id="c55" d="M496.3 184.7 498.1 185.4 500.9 184.7 503.6 183.5 507.2 181.5 510.9 179.1 516.3 175.0 521.8 170.7 529.0 164.7 538.1 157.1 549.0 148.1 559.9 139.5 572.7 130.0 585.4 121.3 599.9 112.2 614.5 104.2 630.9 96.3 647.2 89.5 661.8 84.3 676.3 79.8"/><path id="c56" d="M496.3 184.7 498.1 186.0 500.9 185.8 503.6 185.0 507.2 183.3 510.9 181.2 516.3 177.6 521.8 173.7 529.0 168.2 538.1 161.1 549.0 152.8 559.9 144.7 572.7 135.8 585.4 127.6 599.9 119.2 614.5 111.7 630.9 104.4 647.2 98.2 661.8 93.5 676.3 89.4"/><path id="c57" d="M496.3 184.7 498.1 186.5 500.9 186.7 503.6 186.1 507.2 184.8 510.9 183.0 516.3 179.7 521.8 176.2 529.0 171.0 538.1 164.4 549.0 156.5 559.9 148.9 572.7 140.5 585.4 132.8 599.9 124.9 614.5 117.9 630.9 111.1 647.2 105.3 661.8 101.0 676.3 97.4"/><path id="c58" d="M496.3 184.7 498.1 186.0 500.9 185.9 503.6 185.1 507.2 183.4 510.9 181.4 516.3 177.9 521.8 174.0 529.0 168.5 538.1 161.5 549.0 153.2 559.9 145.1 572.7 136.3 585.4 128.2 599.9 119.8 614.5 112.4 630.9 105.2 647.2 99.0 661.8 94.3 676.3 90.3"/><path id="c59" d="M496.3 184.7 498.1 184.4 500.9 183.0 503.6 181.2 507.2 178.5 510.9 175.6 516.3 170.8 521.8 165.8 529.0 159.0 538.1 150.5 549.0 140.5 559.9 131.0 572.7 120.5 585.4 110.9 599.9 100.9 614.5 91.9 630.9 83.0 647.2 75.2 661.8 69.2 676.3 63.9"/><path id="c60" d="M496.3 184.7 498.1 184.6 500.9 183.5 503.6 181.9 507.2 179.4 510.9 176.5 516.3 172.0 521.8 167.2 529.0 160.6 538.1 152.3 549.0 142.6 559.9 133.4 572.7 123.2 585.4 113.8 599.9 104.0 614.5 95.3 630.9 86.7 647.2 79.2 661.8 73.4 676.3 68.3"/><path id="c61" d="M496.3 184.7 498.1 185.9 500.9 185.7 503.6 184.8 507.2 183.1 510.9 181.0 516.3 177.4 521.8 173.4 529.0 167.9 538.1 160.8 549.0 152.3 559.9 144.2 572.7 135.3 585.4 127.1 599.9 118.6 614.5 111.0 630.9 103.7 647.2 97.4 661.8 92.6 676.3 88.6"/><path id="c62" d="M496.3 184.7 498.1 184.5 500.9 183.3 503.6 181.6 507.2 179.0 510.9 176.1 516.3 171.5 521.8 166.6 529.0 160.0 538.1 151.6 549.0 141.8 559.9 132.4 572.7 122.1 585.4 112.6 599.9 102.8 614.5 94.0 630.9 85.2 647.2 77.6 661.8 71.7 676.3 66.6"/><path id="c63" d="M496.3 184.7 498.1 186.7 500.9 187.0 503.6 186.5 507.2 185.2 510.9 183.5 516.3 180.5 521.8 177.0 529.0 172.0 538.1 165.5 549.0 157.8 559.9 150.3 572.7 142.1 585.4 134.6 599.9 126.8 614.5 119.9 630.9 113.3 647.2 107.7 661.8 103.5 676.3 100.0"/><path id="c64" d="M496.3 184.7 498.1 184.9 500.9 183.9 503.6 182.4 507.2 180.0 510.9 177.3 516.3 172.9 521.8 168.3 529.0 161.9 538.1 153.8 549.0 144.3 559.9 135.2 572.7 125.3 585.4 116.1 599.9 106.6 614.5 98.1 630.9 89.6 647.2 82.3 661.8 76.7 676.3 71.8"/><path id="c65" d="M496.3 184.7 498.1 186.8 500.9 187.2 503.6 186.8 507.2 185.6 510.9 183.9 516.3 180.9 521.8 177.5 529.0 172.6 538.1 166.3 549.0 158.7 559.9 151.3 572.7 143.2 585.4 135.7 599.9 128.0 614.5 121.3 630.9 114.8 647.2 109.3 661.8 105.2 676.3 101.8"/><path id="c66" d="M496.3 184.7 498.1 187.1 500.9 187.7 503.6 187.5 507.2 186.6 510.9 185.1 516.3 182.3 521.8 179.1 529.0 174.5 538.1 168.5 549.0 161.2 559.9 154.1 572.7 146.3 585.4 139.2 599.9 131.8 614.5 125.4 630.9 119.2 647.2 114.0 661.8 110.2 676.3 107.0"/><path id="c67" d="M496.3 184.7 498.1 185.2 500.9 184.4 503.6 183.2 507.2 181.0 510.9 178.5 516.3 174.3 521.8 169.9 529.0 163.8 538.1 156.0 549.0 146.9 559.9 138.1 572.7 128.4 585.4 119.6 599.9 110.4 614.5 102.2 630.9 94.1 647.2 87.1 661.8 81.7 676.3 77.1"/><path id="c68" d="M496.3 184.7 498.1 186.3 500.9 186.4 503.6 185.7 507.2 184.3 510.9 182.4 516.3 179.0 521.8 175.3 529.0 170.1 538.1 163.3 549.0 155.3 559.9 147.5 572.7 139.0 585.4 131.1 599.9 123.0 614.5 115.8 630.9 108.9 647.2 102.9 661.8 98.5 676.3 94.7"/><path id="c69" d="M496.3 184.7 498.1 185.6 500.9 185.1 503.6 184.1 507.2 182.1 510.9 179.8 516.3 176.0 521.8 171.8 529.0 166.0 538.1 158.6 549.0 149.8 559.9 141.4 572.7 132.1 585.4 123.6 599.9 114.8 614.5 106.9 630.9 99.2 647.2 92.6 661.8 87.6 676.3 83.3"/><path id="c70" d="M496.3 184.7 498.1 186.5 500.9 186.8 503.6 186.2 507.2 184.9 510.9 183.1 516.3 180.0 521.8 176.4 529.0 171.4 538.1 164.8 549.0 157.0 559.9 149.4 572.7 141.1 585.4 133.4 599.9 125.5 614.5 118.6 630.9 111.8 647.2 106.1 661.8 101.8 676.3 98.2"/><path id="c71" d="M496.3 184.7 498.1 185.0 500.9 184.2 503.6 182.8 507.2 180.5 510.9 177.9 516.3 173.6 521.8 169.1 529.0 162.8 538.1 154.9 549.0 145.6 559.9 136.7 572.7 126.9 585.4 117.8 599.9 108.5 614.5 100.1 630.9 91.9 647.2 84.7 661.8 79.2 676.3 74.5"/><path id="c72" d="M496.3 184.7 498.1 186.8 500.9 187.3 503.6 186.9 507.2 185.7 510.9 184.1 516.3 181.2 521.8 177.8 529.0 172.9 538.1 166.6 549.0 159.1 559.9 151.7 572.7 143.7 585.4 136.3 599.9 128.7 614.5 122.0 630.9 115.5 647.2 110.1 661.8 106.0 676.3 102.6"/><path id="c73" d="M496.3 184.7 498.1 185.3 500.9 184.5 503.6 183.3 507.2 181.2 510.9 178.7 516.3 174.6 521.8 170.2 529.0 164.1 538.1 156.4 549.0 147.3 559.9 138.5 572.7 129.0 585.4 120.1 599.9 111.0 614.5 102.8 630.9 94.8 647.2 87.9 661.8 82.6 676.3 78.0"/><path id="c74" d="M496.3 184.7 498.1 184.5 500.9 183.2 503.6 181.5 507.2 178.9 510.9 176.0 516.3 171.3 521.8 166.4 529.0 159.7 538.1 151.2 549.0 141.4 559.9 131.9 572.7 121.6 585.4 112.0 599.9 102.1 614.5 93.3 630.9 84.5 647.2 76.8 661.8 70.9 676.3 65.7"/><path id="c75" d="M496.3 184.7 498.1 186.4 500.9 186.5 503.6 185.9 507.2 184.4 510.9 182.6 516.3 179.3 521.8 175.6 529.0 170.4 538.1 163.7 549.0 155.7 559.9 148.0 572.7 139.5 585.4 131.7 599.9 123.6 614.5 116.5 630.9 109.6 647.2 103.7 661.8 99.3 676.3 95.6"/><path id="c76" d="M496.3 184.7 498.1 186.6 500.9 186.9 503.6 186.4 507.2 185.1 510.9 183.3 516.3 180.2 521.8 176.7 529.0 171.7 538.1 165.2 549.0 157.4 559.9 149.9 572.7 141.6 585.4 134.0 599.9 126.1 614.5 119.2 630.9 112.5 647.2 106.9 661.8 102.7 676.3 99.1"/><path id="c77" d="M496.3 184.7 498.1 184.9 500.9 184.0 503.6 182.5 507.2 180.2 510.9 177.5 516.3 173.2 521.8 168.5 529.0 162.2 538.1 154.2 549.0 144.8 559.9 135.7 572.7 125.8 585.4 116.7 599.9 107.2 614.5 98.7 630.9 90.4 647.2 83.1 661.8 77.6 676.3 72.7"/><path id="c78" d="M496.3 184.7 498.1 184.8 500.9 183.8 503.6 182.3 507.2 179.8 510.9 177.1 516.3 172.7 521.8 168.0 529.0 161.6 538.1 153.4 549.0 143.9 559.9 134.8 572.7 124.8 585.4 115.5 599.9 105.9 614.5 97.4 630.9 88.9 647.2 81.6 661.8 75.9 676.3 71.0"/><path id="c79" d="M496.3 184.7 498.1 185.5 500.9 184.9 503.6 183.8 507.2 181.8 510.9 179.5 516.3 175.5 521.8 171.3 529.0 165.3 538.1 157.8 549.0 149.0 559.9 140.4 572.7 131.1 585.4 122.4 599.9 113.5 614.5 105.6 630.9 97.8 647.2 91.1 661.8 85.9 676.3 81.5"/><path id="c80" d="M496.3 184.7 498.1 187.0 500.9 187.5 503.6 187.3 507.2 186.2 510.9 184.7 516.3 181.9 521.8 178.6 529.0 173.9 538.1 167.7 549.0 160.3 559.9 153.2 572.7 145.3 585.4 138.0 599.9 130.6 614.5 124.0 630.9 117.7 647.2 112.4 661.8 108.5 676.3 105.3"/><path id="c81" d="M496.3 184.7 498.1 185.7 500.9 185.2 503.6 184.2 507.2 182.3 510.9 180.0 516.3 176.2 521.8 172.1 529.0 166.3 538.1 158.9 549.0 150.2 559.9 141.8 572.7 132.6 585.4 124.2 599.9 115.4 614.5 107.6 630.9 100.0 647.2 93.4 661.8 88.4 676.3 84.2"/><path id="c82" d="M496.3 184.7 498.1 185.0 500.9 184.1 503.6 182.6 507.2 180.3 510.9 177.7 516.3 173.4 521.8 168.8 529.0 162.5 538.1 154.5 549.0 145.2 559.9 136.2 572.7 126.3 585.4 117.2 599.9 107.8 614.5 99.4 630.9 91.1 647.2 83.9 661.8 78.4 676.3 73.6"/><path id="c83" d="M496.3 184.7 498.1 185.5 500.9 185.0 503.6 183.9 507.2 182.0 510.9 179.6 516.3 175.7 521.8 171.5 529.0 165.7 538.1 158.2 549.0 149.4 559.9 140.9 572.7 131.6 585.4 123.0 599.9 114.1 614.5 106.3 630.9 98.5 647.2 91.8 661.8 86.8 676.3 82.4"/><path id="c84" d="M496.3 184.7 498.1 186.3 500.9 186.3 503.6 185.6 507.2 184.1 510.9 182.2 516.3 178.8 521.8 175.1 529.0 169.8 538.1 163.0 549.0 154.9 559.9 147.0 572.7 138.4 585.4 130.5 599.9 122.4 614.5 115.1 630.9 108.1 647.2 102.1 661.8 97.6 676.3 93.8"/><path id="c85" d="M496.3 184.7 498.1 185.9 500.9 185.6 503.6 184.7 507.2 183.0 510.9 180.8 516.3 177.2 521.8 173.2 529.0 167.6 538.1 160.4 549.0 151.9 559.9 143.7 572.7 134.7 585.4 126.5 599.9 117.9 614.5 110.4 630.9 102.9 647.2 96.6 661.8 91.8 676.3 87.7"/><path id="c86" d="M496.3 184.7 498.1 185.3 500.9 184.6 503.6 183.4 507.2 181.3 510.9 178.9 516.3 174.8 521.8 170.4 529.0 164.4 538.1 156.7 549.0 147.7 559.9 139.0 572.7 129.5 585.4 120.7 599.9 111.6 614.5 103.5 630.9 95.5 647.2 88.7 661.8 83.4 676.3 78.9"/><path id="c87" d="M496.3 184.7 498.1 187.2 500.9 187.9 503.6 187.8 507.2 186.9 510.9 185.5 516.3 182.8 521.8 179.7 529.0 175.2 538.1 169.2 549.0 162.0 559.9 155.0 572.7 147.4 585.4 140.3 599.9 133.1 614.5 126.8 630.9 120.7 647.2 115.6 661.8 111.9 676.3 108.8"/><path id="c88" d="M496.3 184.7 498.1 187.3 500.9 188.0 503.6 187.9 507.2 187.0 510.9 185.7 516.3 183.0 521.8 180.0 529.0 175.5 538.1 169.6 549.0 162.4 559.9 155.5 572.7 147.9 585.4 140.9 599.9 133.7 614.5 127.5 630.9 121.4 647.2 116.4 661.8 112.7 676.3 109.7"/><path id="c89" d="M496.3 184.7 498.1 186.9 500.9 187.4 503.6 187.0 507.2 185.9 510.9 184.3 516.3 181.4 521.8 178.1 529.0 173.3 538.1 167.0 549.0 159.5 559.9 152.2 572.7 144.2 585.4 136.9 599.9 129.3 614.5 122.7 630.9 116.2 647.2 110.8 661.8 106.8 676.3 103.5"/><path id="c90" d="M496.3 184.7 498.1 186.2 500.9 186.1 503.6 185.3 507.2 183.8 510.9 181.8 516.3 178.3 521.8 174.5 529.0 169.1 538.1 162.2 549.0 154.0 559.9 146.1 572.7 137.4 585.4 129.4 599.9 121.1 614.5 113.8 630.9 106.6 647.2 100.6 661.8 96.0 676.3 92.1"/><path id="c91" d="M496.3 184.7 498.1 187.2 500.9 187.8 503.6 187.7 507.2 186.7 510.9 185.3 516.3 182.6 521.8 179.4 529.0 174.8 538.1 168.8 549.0 161.6 559.9 154.6 572.7 146.8 585.4 139.7 599.9 132.5 614.5 126.1 630.9 119.9 647.2 114.8 661.8 111.0 676.3 107.9"/><path id="c92" d="M496.3 184.7 498.1 185.2 500.9 184.4 503.6 183.0 507.2 180.8 510.9 178.3 516.3 174.1 521.8 169.6 529.0 163.5 538.1 155.6 549.0 146.4 559.9 137.6 572.7 127.9 585.4 119.0 599.9 109.7 614.5 101.5 630.9 93.3 647.2 86.3 661.8 80.9 676.3 76.2"/><path id="c93" d="M496.3 184.7 498.1 185.7 500.9 185.3 503.6 184.3 507.2 182.5 510.9 180.2 516.3 176.4 521.8 172.3 529.0 166.6 538.1 159.3 549.0 150.6 559.9 142.3 572.7 133.2 585.4 124.7 599.9 116.0 614.5 108.3 630.9 100.7 647.2 94.2 661.8 89.3 676.3 85.0"/></defs>
<g stroke="#658a47" stroke-opacity="0.1" stroke-width="0.8" fill="none">
<use href="#a99" y="-0.69" opacity="0.8"/>
<use href="#a35" y="5.59" opacity="0.8"/>
<use href="#a44" y="-2.70"/>
<use href="#a19" y="-9.04"/>
<use href="#a28" y="3.92"/>
<use href="#a12" y="0.18"/>
<use href="#a6" y="-4.02"/>
<use href="#a39" y="-6.72"/>
<use href="#a28" y="2.51" opacity="0.8"/>
<use href="#a21" y="1.71"/>
<use href="#a10" y="4.39" opacity="0.8"/>
<use href="#a30" y="-0.56"/>
<use href="#a90" y="0.58" opacity="0.8"/>
<use href="#a10" y="3.13" opacity="0.8"/>
<use href="#a78" y="1.58" opacity="0.8"/>
<use href="#a112" y="-5.81" opacity="0.8"/>
<use href="#a82" y="5.38" opacity="0.8"/>
<use href="#a65" y="-5.63" opacity="0.8"/>
<use href="#a2" y="1.76"/>
<use href="#a13" y="-2.65"/>
<use href="#a6" y="-4.74"/>
<use href="#a129" y="2.17" opacity="1.0"/>
<use href="#a99" y="6.86" opacity="0.8"/>
<use href="#a80" y="3.21" opacity="0.8"/>
<use href="#a30" y="-0.57"/>
<use href="#a21" y="1.46"/>
<use href="#a35" y="4.33" opacity="0.8"/>
<use href="#a21" y="3.86"/>
<use href="#a4" y="5.39"/>
<use href="#a28" y="3.72"/>
<use href="#a112" y="-0.94" opacity="0.8"/>
<use href="#a15" y="-4.95"/>
<use href="#a25" y="1.53"/>
<use href="#a15" y="-7.51"/>
<use href="#a70" y="7.46" opacity="0.8"/>
<use href="#a0" y="-3.65"/>
<use href="#a49" y="5.84"/>
<use href="#a65" y="-1.98" opacity="0.8"/>
<use href="#a44" y="-2.06"/>
<use href="#a12" y="-2.34"/>
<use href="#a12" y="-2.92"/>
<use href="#a74" y="1.28" opacity="0.8"/>
<use href="#a26" y="1.57"/>
<use href="#a10" y="4.84"/>
<use href="#a9" y="0.40"/>
<use href="#a51" y="2.01" opacity="0.8"/>
<use href="#a8" y="2.20"/>
<use href="#a121" y="5.09" opacity="0.8"/>
<use href="#a45" y="0.64"/>
<use href="#a20" y="-2.62"/>
<use href="#a69" y="5.26" opacity="0.8"/>
<use href="#a35" y="3.46"/>
<use href="#a119" y="-0.97" opacity="0.8"/>
<use href="#a13" y="-1.77"/>
<use href="#a37" y="0.03"/>
<use href="#a5" y="2.97"/>
<use href="#a92" y="1.56" opacity="0.8"/>
<use href="#a9" y="-0.67"/>
<use href="#a10" y="5.91"/>
<use href="#a29" y="4.88" opacity="0.8"/>
<use href="#a47" y="-4.07"/>
<use href="#a9" y="-2.96"/>
<use href="#a16" y="-3.93"/>
<use href="#a2" y="0.37"/>
<use href="#a14" y="-2.13"/>
<use href="#a21" y="1.90" opacity="0.8"/>
<use href="#a13" y="-2.74"/>
<use href="#a71" y="2.60" opacity="0.8"/>
<use href="#a50" y="5.84" opacity="0.8"/>
<use href="#a85" y="-0.19" opacity="0.8"/>
<use href="#a26" y="-0.46"/>
<use href="#a32" y="-0.51"/>
<use href="#a81" y="3.18" opacity="0.8"/>
<use href="#a4" y="3.45"/>
<use href="#a0" y="-5.61"/>
<use href="#a10" y="5.66" opacity="0.8"/>
<use href="#a23" y="1.24"/>
<use href="#a92" y="-1.19" opacity="0.8"/>
<use href="#a27" y="-5.87"/>
<use href="#a0" y="-7.22"/>
<use href="#a93" y="0.38" opacity="0.8"/>
<use href="#a13" y="-4.00"/>
<use href="#a32" y="0.63"/>
<use href="#a0" y="-6.15"/>
<use href="#a31" y="-3.61"/>
<use href="#a18" y="-3.22"/>
<use href="#a25" y="-1.80"/>
<use href="#a28" y="4.99"/>
<use href="#a18" y="-0.38"/>
<use href="#a69" y="7.82" opacity="0.8"/>
<use href="#a122" y="-0.42" opacity="0.8"/>
<use href="#a42" y="5.74"/>
<use href="#a114" y="1.31" opacity="0.8"/>
<use href="#a98" y="1.73" opacity="0.8"/>
<use href="#a44" y="-0.94"/>
<use href="#a73" y="7.71" opacity="0.8"/>
<use href="#a22" y="-5.81"/>
<use href="#a26" y="0.84"/>
<use href="#a26" y="0.09"/>
<use href="#a57" y="2.52" opacity="1.0"/>
<use href="#a29" y="4.33" opacity="0.8"/>
<use href="#a20" y="-1.60"/>
<use href="#a92" y="-1.43" opacity="0.8"/>
<use href="#a60" y="8.37" opacity="0.8"/>
<use href="#a83" y="2.60" opacity="0.8"/>
<use href="#a25" y="-1.80"/>
<use href="#a84" y="0.14" opacity="0.8"/>
<use href="#a16" y="-2.87"/>
<use href="#a46" y="-4.58"/>
<use href="#a47" y="-3.42"/>
<use href="#a26" y="0.10"/>
<use href="#a9" y="0.15"/>
<use href="#a12" y="-5.37"/>
<use href="#a20" y="-1.80"/>
<use href="#a94" y="4.23" opacity="0.8"/>
<use href="#a0" y="-6.09"/>
<use href="#a99" y="2.99" opacity="0.8"/>
<use href="#a74" y="3.30" opacity="0.8"/>
<use href="#a46" y="-4.39"/>
<use href="#a14" y="0.60"/>
<use href="#a29" y="4.72"/>
<use href="#a25" y="0.55"/>
<use href="#a74" y="1.54" opacity="0.8"/>
<use href="#a16" y="-6.39"/>
<use href="#a48" y="2.74" opacity="0.8"/>
<use href="#a65" y="-1.32" opacity="0.8"/>
<use href="#a24" y="-2.43"/>
<use href="#a106" y="5.71" opacity="0.8"/>
<use href="#a66" y="-1.45" opacity="0.8"/>
<use href="#a1" y="-7.49"/>
<use href="#a3" y="0.26"/>
<use href="#a11" y="4.39"/>
<use href="#a6" y="-3.97"/>
<use href="#a108" y="3.26" opacity="0.8"/>
<use href="#a11" y="3.58"/>
<use href="#a41" y="3.16"/>
<use href="#a7" y="-4.21"/>
<use href="#a92" y="1.52" opacity="0.8"/>
<use href="#a24" y="-1.45"/>
<use href="#a75" y="-0.87" opacity="0.8"/>
<use href="#a16" y="-4.78"/>
<use href="#a37" y="1.20"/>
<use href="#a28" y="6.50"/>
<use href="#a13" y="-4.11"/>
<use href="#a74" y="0.53" opacity="0.8"/>
<use href="#a13" y="-3.69"/>
<use href="#a27" y="-8.27"/>
<use href="#a5" y="6.08"/>
<use href="#a27" y="-5.15"/>
<use href="#a10" y="3.61" opacity="0.8"/>
<use href="#a118" y="5.65" opacity="0.8"/>
<use href="#a54" y="5.54" opacity="0.8"/>
<use href="#a16" y="-2.71"/>
<use href="#a74" y="-0.83" opacity="0.8"/>
<use href="#a110" y="5.99" opacity="0.8"/>
<use href="#a49" y="4.92" opacity="0.8"/>
<use href="#a38" y="4.13" opacity="0.8"/>
<use href="#a122" y="1.89" opacity="0.8"/>
<use href="#a21" y="3.47"/>
<use href="#a6" y="-4.39"/>
<use href="#a7" y="-4.40"/>
<use href="#a68" y="-0.78" opacity="0.8"/>
<use href="#a119" y="-2.94" opacity="0.8"/>
<use href="#a95" y="4.42" opacity="0.8"/>
<use href="#a86" y="0.64" opacity="0.8"/>
<use href="#a5" y="4.37"/>
<use href="#a28" y="4.05"/>
<use href="#a84" y="-1.34" opacity="0.8"/>
<use href="#a74" y="2.28" opacity="0.8"/>
<use href="#a76" y="-0.52" opacity="0.8"/>
<use href="#a101" y="-0.34" opacity="0.8"/>
<use href="#a54" y="5.47" opacity="0.8"/>
<use href="#a53" y="5.02" opacity="0.8"/>
<use href="#a89" y="4.01" opacity="0.8"/>
<use href="#a27" y="-3.58"/>
<use href="#a78" y="4.37" opacity="0.8"/>
<use href="#a12" y="-5.24"/>
<use href="#a59" y="4.35" opacity="0.8"/>
<use href="#a12" y="-5.11"/>
<use href="#a5" y="4.85"/>
<use href="#a33" y="-5.68"/>
<use href="#a44" y="-0.72"/>
<use href="#a20" y="-2.89"/>
<use href="#a26" y="1.45"/>
<use href="#a83" y="9.93" opacity="0.8"/>
<use href="#a25" y="-0.85"/>
<use href="#a113" y="3.45" opacity="0.8"/>
<use href="#a24" y="-1.81"/>
<use href="#a22" y="-7.46"/>
<use href="#a91" y="0.35" opacity="0.8"/>
<use href="#a5" y="2.86"/>
<use href="#a29" y="4.90"/>
<use href="#a23" y="1.87"/>
<use href="#a23" y="3.64"/>
<use href="#a11" y="3.48"/>
<use href="#a66" y="-1.53" opacity="0.8"/>
<use href="#a27" y="-5.16"/>
<use href="#a26" y="-0.00"/>
<use href="#a32" y="-2.26"/>
<use href="#a75" y="-1.99" opacity="0.8"/>
<use href="#a66" y="-0.79" opacity="0.8"/>
<use href="#a120" y="4.82" opacity="0.8"/>
<use href="#a78" y="0.09" opacity="0.8"/>
<use href="#a65" y="-3.97" opacity="0.8"/>
<use href="#a21" y="2.74" opacity="0.8"/>
<use href="#a3" y="1.57"/>
<use href="#a86" y="2.23" opacity="0.8"/>
<use href="#a37" y="-0.53"/>
<use href="#a13" y="-4.97"/>
<use href="#a22" y="-3.86"/>
<use href="#a82" y="-1.68" opacity="0.8"/>
<use href="#a21" y="0.28"/>
<use href="#a1" y="-5.41"/>
<use href="#a45" y="3.98"/>
<use href="#a113" y="6.14" opacity="0.8"/>
<use href="#a18" y="-0.30"/>
<use href="#a45" y="1.55" opacity="0.8"/>
<use href="#a39" y="-4.47"/>
<use href="#a45" y="3.30"/>
<use href="#a89" y="3.39" opacity="0.8"/>
<use href="#a76" y="-3.98" opacity="0.8"/>
<use href="#a48" y="2.86"/>
<use href="#a5" y="3.89"/>
<use href="#a8" y="2.37"/>
<use href="#a26" y="-0.18"/>
<use href="#a123" y="6.57" opacity="0.8"/>
<use href="#a64" y="3.29" opacity="0.8"/>
<use href="#a68" y="0.84" opacity="0.8"/>
<use href="#a15" y="-6.75"/>
<use href="#a55" y="4.07" opacity="0.8"/>
<use href="#a10" y="2.25"/>
<use href="#a14" y="-1.30"/>
<use href="#a48" y="8.27"/>
<use href="#a30" y="-2.70"/>
<use href="#a84" y="1.52" opacity="0.8"/>
<use href="#a44" y="-2.30"/>
<use href="#a50" y="4.76" opacity="0.8"/>
<use href="#a12" y="-3.69"/>
<use href="#a28" y="2.15" opacity="0.8"/>
<use href="#a93" y="3.85" opacity="0.8"/>
<use href="#a25" y="-2.48"/>
<use href="#a65" y="-0.91" opacity="0.8"/>
<use href="#a2" y="0.88"/>
<use href="#a11" y="0.21"/>
<use href="#a23" y="2.75"/>
<use href="#a8" y="3.49"/>
<use href="#a5" y="4.41"/>
<use href="#a45" y="1.28"/>
<use href="#a21" y="5.91"/>
<use href="#a18" y="0.02"/>
<use href="#a13" y="-1.46"/>
<use href="#a2" y="3.08"/>
<use href="#a67" y="1.39" opacity="0.8"/>
<use href="#a10" y="3.49" opacity="0.8"/>
<use href="#a82" y="5.27" opacity="0.8"/>
<use href="#a23" y="4.43"/>
<use href="#a29" y="4.70" opacity="0.8"/>
<use href="#a67" y="-0.82" opacity="0.8"/>
<use href="#a47" y="-1.85"/>
<use href="#a48" y="4.15" opacity="0.8"/>
<use href="#a24" y="-4.61"/>
<use href="#a23" y="3.18"/>
<use href="#a114" y="0.49" opacity="0.8"/>
<use href="#a35" y="1.72" opacity="0.8"/>
<use href="#a4" y="3.03"/>
<use href="#a10" y="7.73"/>
<use href="#a21" y="1.20"/>
<use href="#a35" y="4.51"/>
<use href="#a46" y="-3.18"/>
<use href="#a24" y="-2.15"/>
<use href="#a15" y="-6.46"/>
<use href="#a79" y="1.55" opacity="0.8"/>
<use href="#a64" y="2.65" opacity="0.8"/>
<use href="#a129" y="2.73" opacity="1.0"/>
<use href="#a75" y="5.50" opacity="0.8"/>
<use href="#a73" y="5.90" opacity="0.8"/>
<use href="#a86" y="0.28" opacity="0.8"/>
<use href="#a31" y="-2.08"/>
<use href="#a9" y="-0.48"/>
<use href="#a51" y="1.59" opacity="0.8"/>
<use href="#a20" y="-2.71"/>
<use href="#a67" y="-2.36" opacity="0.8"/>
<use href="#a33" y="-8.46"/>
<use href="#a11" y="2.87"/>
<use href="#a4" y="3.05"/>
<use href="#a23" y="1.70"/>
<use href="#a9" y="-1.08"/>
<use href="#a57" y="6.05" opacity="0.8"/>
<use href="#a17" y="-6.12"/>
<use href="#a88" y="1.86" opacity="0.8"/>
<use href="#a20" y="-1.90"/>
<use href="#a78" y="-0.68" opacity="0.8"/>
<use href="#a17" y="-4.40"/>
<use href="#a6" y="-4.86"/>
<use href="#a69" y="2.98" opacity="0.8"/>
<use href="#a26" y="-1.37"/>
<use href="#a2" y="2.71"/>
<use href="#a115" y="3.75" opacity="0.8"/>
<use href="#a0" y="-5.53"/>
<use href="#a27" y="-4.52"/>
<use href="#a28" y="1.71" opacity="0.8"/>
<use href="#a85" y="3.90" opacity="0.8"/>
<use href="#a105" y="3.23" opacity="0.8"/>
<use href="#a118" y="6.39" opacity="0.8"/>
<use href="#a41" y="-0.12"/>
<use href="#a79" y="-0.98" opacity="0.8"/>
<use href="#a68" y="0.40" opacity="0.8"/>
<use href="#a63" y="-2.32" opacity="0.8"/>
<use href="#a48" y="3.22" opacity="0.8"/>
<use href="#a74" y="-1.66" opacity="0.8"/>
<use href="#a69" y="9.85" opacity="0.8"/>
<use href="#a3" y="0.78"/>
<use href="#a29" y="4.73"/>
<use href="#a38" y="6.82" opacity="0.8"/>
<use href="#a4" y="3.70"/>
<use href="#a69" y="1.97" opacity="0.8"/>
<use href="#a9" y="-0.17"/>
<use href="#a19" y="-7.52"/>
<use href="#a17" y="-2.99"/>
<use href="#a69" y="5.22" opacity="0.8"/>
<use href="#a35" y="3.73"/>
<use href="#a44" y="-4.33"/>
<use href="#a62" y="3.13" opacity="0.8"/>
<use href="#a19" y="-8.87"/>
<use href="#a25" y="-3.07"/>
<use href="#a17" y="-5.82"/>
<use href="#a27" y="-5.30"/>
<use href="#a66" y="-0.26" opacity="0.8"/>
<use href="#a34" y="-9.00"/>
<use href="#a78" y="0.10" opacity="0.8"/>
<use href="#a47" y="-6.38"/>
<use href="#a26" y="1.04"/>
<use href="#a20" y="-3.10"/>
<use href="#a24" y="-1.85"/>
<use href="#a87" y="-3.36" opacity="0.8"/>
<use href="#a31" y="-4.32"/>
<use href="#a41" y="1.52"/>
<use href="#a66" y="0.86" opacity="0.8"/>
<use href="#a37" y="-1.11"/>
<use href="#a62" y="0.02" opacity="0.8"/>
<use href="#a44" y="-1.79"/>
<use href="#a38" y="6.42" opacity="0.8"/>
<use href="#a68" y="4.84" opacity="0.8"/>
<use href="#a46" y="-1.70"/>
<use href="#a81" y="7.47" opacity="0.8"/>
<use href="#a1" y="-5.72"/>
<use href="#a9" y="0.02"/>
<use href="#a37" y="-1.99"/>
<use href="#a66" y="5.61" opacity="0.8"/>
<use href="#a42" y="4.92"/>
<use href="#a46" y="-2.59"/>
<use href="#a87" y="4.56" opacity="0.8"/>
<use href="#a19" y="-9.04"/>
<use href="#a18" y="-1.14"/>
<use href="#a112" y="0.92" opacity="0.8"/>
<use href="#a66" y="1.97" opacity="0.8"/>
<use href="#a3" y="1.29"/>
<use href="#a125" y="7.51" opacity="0.8"/>
<use href="#a105" y="4.56" opacity="0.8"/>
<use href="#a4" y="4.13"/>
<use href="#a7" y="-1.86"/>
<use href="#a32" y="0.68"/>
<use href="#a65" y="-4.57" opacity="0.8"/>
<use href="#a35" y="4.66" opacity="0.8"/>
<use href="#a4" y="1.87"/>
<use href="#a111" y="6.76" opacity="0.8"/>
<use href="#a58" y="6.26" opacity="0.8"/>
<use href="#a6" y="-2.94"/>
<use href="#a32" y="0.03"/>
<use href="#a70" y="2.66" opacity="0.8"/>
<use href="#a37" y="0.58"/>
<use href="#a38" y="3.05" opacity="0.8"/>
<use href="#a104" y="4.70" opacity="0.8"/>
<use href="#a28" y="4.68"/>
<use href="#a74" y="-2.78" opacity="0.8"/>
<use href="#a2" y="2.30"/>
<use href="#a26" y="-0.38"/>
<use href="#a26" y="0.05"/>
<use href="#a82" y="-5.04" opacity="0.8"/>
<use href="#a100" y="1.99" opacity="0.8"/>
<use href="#a5" y="3.88"/>
<use href="#a64" y="3.84" opacity="0.8"/>
<use href="#a106" y="0.47" opacity="0.8"/>
<use href="#a46" y="-2.21"/>
<use href="#a35" y="3.37" opacity="0.8"/>
<use href="#a16" y="-5.24"/>
<use href="#a76" y="1.89" opacity="0.8"/>
<use href="#a75" y="-1.96" opacity="0.8"/>
<use href="#a15" y="-6.82"/>
<use href="#a54" y="5.69" opacity="0.8"/>
<use href="#a23" y="0.10" opacity="0.8"/>
<use href="#a7" y="-0.46"/>
<use href="#a114" y="0.02" opacity="0.8"/>
<use href="#a3" y="2.82"/>
<use href="#a66" y="-2.31" opacity="0.8"/>
<use href="#a3" y="0.31"/>
<use href="#a9" y="0.06"/>
<use href="#a66" y="0.40" opacity="0.8"/>
<use href="#a21" y="2.51"/>
<use href="#a8" y="4.57"/>
<use href="#a74" y="0.72" opacity="0.8"/>
<use href="#a30" y="-0.96"/>
<use href="#a76" y="-1.98" opacity="0.8"/>
<use href="#a7" y="-2.16"/>
<use href="#a32" y="-2.83"/>
<use href="#a72" y="-2.80" opacity="0.8"/>
<use href="#a42" y="4.43"/>
<use href="#a125" y="3.08" opacity="0.8"/>
<use href="#a31" y="-0.55"/>
<use href="#a28" y="3.76" opacity="0.8"/>
<use href="#a41" y="-1.36"/>
<use href="#a17" y="-2.61"/>
<use href="#a11" y="3.41"/>
<use href="#a58" y="6.44" opacity="0.8"/>
<use href="#a16" y="-6.14"/>
<use href="#a13" y="-2.96"/>
<use href="#a23" y="3.72"/>
<use href="#a0" y="-7.61"/>
<use href="#a90" y="2.84" opacity="0.8"/>
<use href="#a107" y="1.84" opacity="0.8"/>
<use href="#a90" y="-0.22" opacity="0.8"/>
<use href="#a32" y="1.92"/>
<use href="#a10" y="8.47"/>
<use href="#a44" y="-2.75"/>
<use href="#a9" y="-1.26"/>
<use href="#a11" y="4.89"/>
<use href="#a5" y="3.86"/>
<use href="#a4" y="0.30"/>
<use href="#a16" y="-4.35"/>
<use href="#a45" y="1.83"/>
<use href="#a17" y="-4.23"/>
<use href="#a28" y="4.40"/>
<use href="#a39" y="-6.19"/>
<use href="#a80" y="4.31" opacity="0.8"/>
<use href="#a45" y="3.17"/>
<use href="#a122" y="-0.90" opacity="0.8"/>
<use href="#a104" y="3.96" opacity="0.8"/>
<use href="#a17" y="-3.13"/>
<use href="#a101" y="-1.15" opacity="0.8"/>
<use href="#a24" y="-3.25"/>
<use href="#a28" y="5.17"/>
<use href="#a21" y="1.70"/>
<use href="#a35" y="0.61" opacity="0.8"/>
<use href="#a16" y="-2.87"/>
<use href="#a42" y="3.75" opacity="0.8"/>
<use href="#a4" y="3.31"/>
<use href="#a35" y="3.43" opacity="0.8"/>
<use href="#a13" y="-1.62"/>
<use href="#a2" y="0.79"/>
<use href="#a84" y="1.70" opacity="0.8"/>
<use href="#a40" y="4.40" opacity="0.8"/>
<use href="#a47" y="-2.06"/>
<use href="#a78" y="-1.09" opacity="0.8"/>
<use href="#a23" y="1.85"/>
<use href="#a89" y="2.67" opacity="0.8"/>
<use href="#a16" y="-4.94"/>
<use href="#a65" y="-5.34" opacity="0.8"/>
<use href="#a91" y="3.78" opacity="0.8"/>
<use href="#a12" y="-1.75"/>
<use href="#a45" y="5.14"/>
<use href="#a108" y="2.80" opacity="0.8"/>
<use href="#a24" y="-1.30"/>
<use href="#a11" y="3.89"/>
<use href="#a16" y="-4.65"/>
<use href="#a12" y="-8.54"/>
<use href="#a4" y="2.82"/>
<use href="#a27" y="-2.76"/>
<use href="#a96" y="5.00" opacity="0.8"/>
<use href="#a0" y="-6.09"/>
<use href="#a65" y="-1.89" opacity="0.8"/>
<use href="#a35" y="5.54"/>
<use href="#a24" y="-1.60"/>
<use href="#a35" y="3.59"/>
<use href="#a50" y="6.67"/>
<use href="#a33" y="-10.40"/>
<use href="#a44" y="-1.49"/>
<use href="#a41" y="0.82"/>
<use href="#a44" y="-0.13"/>
<use href="#a1" y="-9.77"/>
<use href="#a28" y="6.33"/>
<use href="#a45" y="1.50"/>
<use href="#a32" y="-0.36"/>
<use href="#a28" y="4.79" opacity="0.8"/>
<use href="#a45" y="1.99"/>
<use href="#a68" y="-0.34" opacity="0.8"/>
<use href="#a41" y="-0.41"/>
<use href="#a20" y="-2.01"/>
<use href="#a37" y="-0.38"/>
<use href="#a18" y="-0.53"/>
<use href="#a100" y="4.03" opacity="0.8"/>
<use href="#a37" y="1.26"/>
<use href="#a35" y="0.73" opacity="0.8"/>
<use href="#a91" y="2.20" opacity="0.8"/>
<use href="#a42" y="4.35" opacity="0.8"/>
<use href="#a8" y="0.77"/>
<use href="#a84" y="-5.45" opacity="0.8"/>
<use href="#a5" y="4.55"/>
<use href="#a77" y="7.06" opacity="0.8"/>
<use href="#a18" y="1.69"/>
<use href="#a39" y="-4.03"/>
<use href="#a5" y="5.01" opacity="0.8"/>
<use href="#a120" y="0.01" opacity="0.8"/>
<use href="#a19" y="-7.61"/>
<use href="#a66" y="-4.57" opacity="0.8"/>
<use href="#a91" y="-1.57" opacity="0.8"/>
<use href="#a63" y="-2.24" opacity="0.8"/>
<use href="#a95" y="3.05" opacity="0.8"/>
<use href="#a43" y="-9.00"/>
<use href="#a53" y="8.12" opacity="0.8"/>
<use href="#a31" y="-1.13"/>
<use href="#a108" y="1.36" opacity="0.8"/>
<use href="#a6" y="-3.31"/>
<use href="#a88" y="2.39" opacity="0.8"/>
<use href="#a12" y="-3.33"/>
<use href="#a54" y="5.25" opacity="0.8"/>
<use href="#a23" y="2.20" opacity="0.8"/>
<use href="#a110" y="-0.17" opacity="0.8"/>
<use href="#a21" y="2.49"/>
<use href="#a26" y="-1.47"/>
<use href="#a41" y="-2.45"/>
<use href="#a21" y="2.90"/>
<use href="#a22" y="-6.16"/>
<use href="#a6" y="-4.82"/>
<use href="#a33" y="-7.60"/>
<use href="#a91" y="-2.74" opacity="0.8"/>
<use href="#a109" y="2.98" opacity="0.8"/>
<use href="#a119" y="6.40" opacity="0.8"/>
<use href="#a25" y="-0.04"/>
<use href="#a2" y="1.68"/>
<use href="#a30" y="-3.25"/>
<use href="#a25" y="-2.42"/>
<use href="#a46" y="-1.01"/>
<use href="#a47" y="-2.73"/>
<use href="#a99" y="6.31" opacity="0.8"/>
<use href="#a68" y="4.59" opacity="0.8"/>
<use href="#a42" y="7.16" opacity="0.8"/>
<use href="#a11" y="0.66"/>
<use href="#a129" y="2.55" opacity="1.3"/>
<use href="#a111" y="6.10" opacity="0.8"/>
<use href="#a27" y="-6.17"/>
<use href="#a33" y="-7.12"/>
<use href="#a79" y="3.59" opacity="0.8"/>
<use href="#a5" y="6.67" opacity="0.8"/>
<use href="#a32" y="-2.93"/>
<use href="#a71" y="0.65" opacity="0.8"/>
<use href="#a10" y="3.23" opacity="0.8"/>
<use href="#a41" y="2.15"/>
<use href="#a6" y="-4.07"/>
<use href="#a55" y="1.02" opacity="0.8"/>
<use href="#a100" y="1.91" opacity="0.8"/>
<use href="#a28" y="2.85"/>
<use href="#a11" y="0.61" opacity="0.8"/>
<use href="#a45" y="4.33"/>
<use href="#a94" y="2.38" opacity="0.8"/>
<use href="#a28" y="2.14" opacity="0.8"/>
<use href="#a10" y="4.38" opacity="0.8"/>
<use href="#a19" y="-7.11"/>
<use href="#a21" y="5.94"/>
<use href="#a23" y="3.03"/>
<use href="#a10" y="4.16" opacity="0.8"/>
<use href="#a28" y="5.21" opacity="0.8"/>
<use href="#a18" y="-0.61"/>
<use href="#a28" y="2.81" opacity="0.8"/>
<use href="#a3" y="1.79"/>
<use href="#a84" y="-0.66" opacity="0.8"/>
<use href="#a42" y="8.07"/>
<use href="#a0" y="-6.70"/>
<use href="#a5" y="3.39" opacity="0.8"/>
<use href="#a85" y="5.98" opacity="0.8"/>
<use href="#a52" y="7.09" opacity="0.8"/>
<use href="#a112" y="-4.35" opacity="0.8"/>
<use href="#a112" y="1.87" opacity="0.8"/>
<use href="#a66" y="3.09" opacity="0.8"/>
<use href="#a4" y="1.52" opacity="0.8"/>
<use href="#a12" y="-4.37"/>
<use href="#a118" y="8.11" opacity="0.8"/>
<use href="#a37" y="0.01"/>
<use href="#a110" y="3.98" opacity="0.8"/>
<use href="#a47" y="-5.31"/>
<use href="#a23" y="2.73"/>
<use href="#a73" y="-0.43" opacity="0.8"/>
<use href="#a37" y="1.37"/>
<use href="#a51" y="8.51" opacity="0.8"/>
<use href="#a62" y="2.63" opacity="0.8"/>
<use href="#a27" y="-5.85"/>
<use href="#a18" y="-1.34"/>
<use href="#a74" y="-0.02" opacity="0.8"/>
<use href="#a60" y="6.05" opacity="0.8"/>
<use href="#a56" y="6.46" opacity="0.8"/>
<use href="#a99" y="5.68" opacity="0.8"/>
<use href="#a10" y="5.62"/>
<use href="#a28" y="2.93"/>
<use href="#a102" y="3.04" opacity="0.8"/>
<use href="#a35" y="3.45"/>
<use href="#a21" y="3.32"/>
<use href="#a58" y="5.96" opacity="0.8"/>
<use href="#a68" y="-0.27" opacity="0.8"/>
<use href="#a16" y="-4.93"/>
<use href="#a79" y="0.10" opacity="0.8"/>
<use href="#a101" y="0.25" opacity="0.8"/>
<use href="#a25" y="-0.50"/>
<use href="#a88" y="4.57" opacity="0.8"/>
<use href="#a119" y="-0.81" opacity="0.8"/>
<use href="#a73" y="4.35" opacity="0.8"/>
<use href="#a20" y="-1.18"/>
<use href="#a121" y="-1.07" opacity="0.8"/>
<use href="#a44" y="-2.19"/>
<use href="#a76" y="5.86" opacity="0.8"/>
<use href="#a11" y="3.10"/>
<use href="#a26" y="2.63"/>
<use href="#a22" y="-2.84"/>
<use href="#a39" y="-3.63"/>
<use href="#a11" y="1.62"/>
<use href="#a67" y="1.77" opacity="0.8"/>
<use href="#a66" y="1.63" opacity="0.8"/>
<use href="#a93" y="-0.93" opacity="0.8"/>
<use href="#a17" y="-5.96"/>
<use href="#a68" y="0.91" opacity="0.8"/>
<use href="#a31" y="-2.04"/>
<use href="#a80" y="2.71" opacity="0.8"/>
<use href="#a41" y="2.91"/>
<use href="#a51" y="6.02" opacity="0.8"/>
<use href="#a102" y="3.15" opacity="0.8"/>
<use href="#a10" y="1.07" opacity="0.8"/>
<use href="#a16" y="-3.74"/>
<use href="#a7" y="-4.26"/>
<use href="#a14" y="-0.58"/>
<use href="#a3" y="0.60"/>
<use href="#a10" y="4.53"/>
<use href="#a118" y="4.12" opacity="0.8"/>
<use href="#a10" y="1.75"/>
<use href="#a105" y="7.91" opacity="0.8"/>
<use href="#a2" y="0.16"/>
<use href="#a16" y="-6.13"/>
<use href="#a47" y="-4.05"/>
<use href="#a48" y="5.82" opacity="0.8"/>
<use href="#a62" y="5.70" opacity="0.8"/>
<use href="#a25" y="-3.75"/>
<use href="#a44" y="-4.17"/>
<use href="#a126" y="8.16" opacity="0.8"/>
<use href="#a107" y="0.07" opacity="0.8"/>
<use href="#a112" y="-3.81" opacity="0.8"/>
<use href="#a31" y="-2.95"/>
<use href="#a10" y="4.90"/>
<use href="#a14" y="-0.37"/>
<use href="#a92" y="4.35" opacity="0.8"/>
<use href="#a4" y="4.07"/>
<use href="#a15" y="-9.47"/>
<use href="#a25" y="-2.28"/>
<use href="#a3" y="0.68"/>
<use href="#a35" y="0.15" opacity="0.8"/>
<use href="#a13" y="-4.27"/>
<use href="#a67" y="-1.90" opacity="0.8"/>
<use href="#a1" y="-7.82"/>
<use href="#a9" y="-2.34"/>
<use href="#a26" y="0.73"/>
<use href="#a41" y="-0.10"/>
<use href="#a27" y="-5.65"/>
<use href="#a105" y="2.45" opacity="0.8"/>
<use href="#a18" y="0.86"/>
<use href="#a22" y="-6.85"/>
<use href="#a123" y="5.19" opacity="0.8"/>
<use href="#a26" y="2.77"/>
<use href="#a1" y="-6.73"/>
<use href="#a6" y="-3.88"/>
<use href="#a42" y="3.53"/>
<use href="#a21" y="2.26"/>
<use href="#a38" y="2.72" opacity="0.8"/>
<use href="#a12" y="-2.64"/>
<use href="#a7" y="-4.50"/>
<use href="#a9" y="-1.20"/>
<use href="#a47" y="-5.01"/>
<use href="#a5" y="-0.04" opacity="0.8"/>
<use href="#a74" y="-3.25" opacity="0.8"/>
<use href="#a22" y="-5.14"/>
<use href="#a6" y="-4.19"/>
<use href="#a16" y="-4.50"/>
<use href="#a84" y="-2.72" opacity="0.8"/>
<use href="#a35" y="2.88"/>
<use href="#a1" y="-7.10"/>
<use href="#a97" y="0.44" opacity="0.8"/>
<use href="#a34" y="-7.26"/>
<use href="#a6" y="-5.02"/>
<use href="#a46" y="-2.80"/>
<use href="#a62" y="0.05" opacity="0.8"/>
<use href="#a8" y="1.54"/>
<use href="#a47" y="-3.13"/>
<use href="#a7" y="-5.52"/>
<use href="#a83" y="-1.77" opacity="0.8"/>
<use href="#a41" y="2.33"/>
<use href="#a85" y="1.97" opacity="0.8"/>
<use href="#a28" y="4.86"/>
<use href="#a85" y="2.80" opacity="0.8"/>
<use href="#a47" y="-5.66"/>
<use href="#a22" y="-3.89"/>
<use href="#a0" y="-5.50"/>
<use href="#a77" y="-1.02" opacity="0.8"/>
<use href="#a18" y="-0.62"/>
<use href="#a22" y="-5.66"/>
<use href="#a12" y="-1.72"/>
<use href="#a10" y="5.37"/>
<use href="#a90" y="0.71" opacity="0.8"/>
<use href="#a126" y="4.15" opacity="0.8"/>
<use href="#a85" y="-2.75" opacity="0.8"/>
<use href="#a120" y="6.50" opacity="0.8"/>
<use href="#a64" y="3.37" opacity="0.8"/>
<use href="#a24" y="-1.12"/>
<use href="#a42" y="6.50" opacity="0.8"/>
<use href="#a46" y="-2.04"/>
<use href="#a56" y="5.87" opacity="0.8"/>
<use href="#a51" y="4.35" opacity="0.8"/>
<use href="#a35" y="2.46" opacity="0.8"/>
<use href="#a82" y="1.07" opacity="0.8"/>
<use href="#a95" y="2.18" opacity="0.8"/>
<use href="#a92" y="-2.04" opacity="0.8"/>
<use href="#a111" y="5.21" opacity="0.8"/>
<use href="#a2" y="2.25"/>
<use href="#a119" y="3.74" opacity="0.8"/>
<use href="#a10" y="4.75"/>
<use href="#a37" y="-0.53"/>
<use href="#a29" y="5.91"/>
<use href="#a14" y="0.22"/>
<use href="#a67" y="-2.30" opacity="0.8"/>
<use href="#a110" y="4.60" opacity="0.8"/>
<use href="#a14" y="1.63"/>
<use href="#a11" y="2.45"/>
<use href="#a10" y="5.14" opacity="0.8"/>
<use href="#a5" y="4.15"/>
<use href="#a10" y="3.66" opacity="0.8"/>
<use href="#a103" y="1.29" opacity="0.8"/>
<use href="#a0" y="-6.15"/>
<use href="#a9" y="-0.46"/>
<use href="#a66" y="3.68" opacity="0.8"/>
<use href="#a12" y="-3.89"/>
<use href="#a74" y="-1.43" opacity="0.8"/>
<use href="#a50" y="6.35" opacity="0.8"/>
<use href="#a38" y="5.61"/>
<use href="#a45" y="4.48"/>
<use href="#a99" y="1.33" opacity="0.8"/>
<use href="#a69" y="-0.80" opacity="0.8"/>
<use href="#a44" y="-1.52"/>
<use href="#a46" y="-3.26"/>
<use href="#a44" y="-1.67"/>
<use href="#a23" y="2.80"/>
<use href="#a32" y="-0.52"/>
<use href="#a14" y="-0.79"/>
<use href="#a16" y="-4.77"/>
<use href="#a63" y="0.68" opacity="0.8"/>
<use href="#a26" y="0.02"/>
<use href="#a2" y="0.73"/>
<use href="#a42" y="4.02" opacity="0.8"/>
<use href="#a45" y="3.67"/>
<use href="#a33" y="-10.49"/>
<use href="#a21" y="4.32"/>
<use href="#a34" y="-7.14"/>
<use href="#a8" y="2.80"/>
<use href="#a5" y="4.51"/>
<use href="#a6" y="-3.48"/>
<use href="#a108" y="2.03" opacity="0.8"/>
<use href="#a37" y="-0.50"/>
<use href="#a19" y="-8.49"/>
<use href="#a10" y="4.48" opacity="0.8"/>
<use href="#a3" y="0.43"/>
<use href="#a21" y="3.56"/>
<use href="#a78" y="2.83" opacity="0.8"/>
<use href="#a0" y="-4.13"/>
<use href="#a73" y="4.24" opacity="0.8"/>
<use href="#a69" y="7.29" opacity="0.8"/>
<use href="#a7" y="-1.40"/>
<use href="#a47" y="-4.53"/>
<use href="#a32" y="-1.67"/>
<use href="#a20" y="-2.29"/>
<use href="#a50" y="3.63" opacity="0.8"/>
<use href="#a15" y="-8.90"/>
<use href="#a42" y="4.90" opacity="0.8"/>
<use href="#a104" y="9.07" opacity="0.8"/>
<use href="#a93" y="8.31" opacity="0.8"/>
<use href="#a87" y="-1.14" opacity="0.8"/>
<use href="#a114" y="-2.14" opacity="0.8"/>
<use href="#a12" y="-4.80"/>
<use href="#a22" y="-5.34"/>
<use href="#a51" y="6.15" opacity="0.8"/>
<use href="#a91" y="3.92" opacity="0.8"/>
<use href="#a49" y="4.08" opacity="0.8"/>
<use href="#a20" y="-1.69"/>
<use href="#a25" y="-0.02"/>
<use href="#a69" y="0.86" opacity="0.8"/>
<use href="#a3" y="0.71"/>
<use href="#a32" y="-2.71"/>
<use href="#a68" y="0.31" opacity="0.8"/>
<use href="#a9" y="0.23"/>
<use href="#a26" y="0.55"/>
<use href="#a63" y="1.07" opacity="0.8"/>
<use href="#a23" y="4.48"/>
<use href="#a8" y="0.57"/>
<use href="#a1" y="-5.31"/>
<use href="#a64" y="-0.50" opacity="0.8"/>
<use href="#a70" y="-0.11" opacity="0.8"/>
<use href="#a26" y="0.71"/>
<use href="#a23" y="1.07"/>
<use href="#a37" y="0.19"/>
<use href="#a80" y="5.47" opacity="0.8"/>
<use href="#a11" y="1.36"/>
<use href="#a27" y="-3.26"/>
<use href="#a42" y="4.25"/>
<use href="#a17" y="-6.35"/>
<use href="#a68" y="-0.46" opacity="0.8"/>
<use href="#a35" y="5.13"/>
<use href="#a20" y="-3.56"/>
<use href="#a100" y="2.60" opacity="0.8"/>
<use href="#a46" y="-1.79"/>
<use href="#a49" y="2.81" opacity="0.8"/>
<use href="#a25" y="-2.23"/>
<use href="#a9" y="-0.92"/>
<use href="#a0" y="-5.24"/>
<use href="#a18" y="1.13"/>
<use href="#a88" y="4.28" opacity="0.8"/>
<use href="#a4" y="6.76"/>
<use href="#a122" y="5.38" opacity="0.8"/>
<use href="#a20" y="-2.52"/>
<use href="#a41" y="3.44"/>
<use href="#a37" y="1.86"/>
<use href="#a75" y="2.86" opacity="0.8"/>
<use href="#a77" y="3.37" opacity="0.8"/>
<use href="#a35" y="3.41"/>
<use href="#a84" y="-1.83" opacity="0.8"/>
<use href="#a67" y="-6.13" opacity="0.8"/>
<use href="#a44" y="-1.23"/>
<use href="#a20" y="-0.33"/>
<use href="#a45" y="1.20"/>
<use href="#a84" y="2.32" opacity="0.8"/>
<use href="#a93" y="0.43" opacity="0.8"/>
<use href="#a38" y="2.79" opacity="0.8"/>
<use href="#a29" y="6.78"/>
<use href="#a47" y="-4.82"/>
<use href="#a67" y="2.36" opacity="0.8"/>
<use href="#a119" y="-3.90" opacity="0.8"/>
<use href="#a26" y="1.11"/>
<use href="#a76" y="7.57" opacity="0.8"/>
<use href="#a124" y="6.41" opacity="0.8"/>
<use href="#a2" y="3.91"/>
<use href="#a14" y="1.14"/>
<use href="#a56" y="5.56" opacity="0.8"/>
<use href="#a120" y="10.76" opacity="0.8"/>
<use href="#a13" y="-2.03"/>
<use href="#a37" y="-0.68"/>
<use href="#a61" y="7.93" opacity="0.8"/>
<use href="#a106" y="3.43" opacity="0.8"/>
<use href="#a26" y="0.31"/>
<use href="#a26" y="1.64"/>
<use href="#a20" y="-1.39"/>
<use href="#a90" y="4.23" opacity="0.8"/>
<use href="#a49" y="5.61"/>
<use href="#a85" y="-2.77" opacity="0.8"/>
<use href="#a15" y="-3.28"/>
<use href="#a42" y="3.10"/>
<use href="#a85" y="-0.63" opacity="0.8"/>
<use href="#a26" y="1.02"/>
<use href="#a79" y="-0.09" opacity="0.8"/>
<use href="#a47" y="-6.17"/>
<use href="#a115" y="0.15" opacity="0.8"/>
<use href="#a17" y="-5.03"/>
<use href="#a12" y="-5.75"/>
<use href="#a38" y="5.22" opacity="0.8"/>
<use href="#a5" y="1.35" opacity="0.8"/>
<use href="#a1" y="-4.13"/>
<use href="#a4" y="4.05"/>
<use href="#a11" y="1.63"/>
<use href="#a126" y="2.59" opacity="0.8"/>
<use href="#a41" y="-0.42"/>
<use href="#a3" y="1.82"/>
<use href="#a37" y="1.46"/>
<use href="#a6" y="-2.34"/>
<use href="#a92" y="-2.14" opacity="0.8"/>
<use href="#a25" y="-2.21"/>
<use href="#a27" y="-7.07"/>
<use href="#a63" y="-7.39" opacity="0.8"/>
<use href="#a42" y="4.79"/>
<use href="#a29" y="3.62"/>
<use href="#a67" y="-1.64" opacity="0.8"/>
<use href="#a26" y="3.16"/>
<use href="#a51" y="8.14"/>
<use href="#a47" y="-4.54"/>
<use href="#a20" y="-5.64"/>
<use href="#a35" y="4.41"/>
<use href="#a50" y="4.35" opacity="0.8"/>
<use href="#a47" y="-4.17"/>
<use href="#a31" y="-1.93"/>
<use href="#a46" y="-0.89"/>
<use href="#a18" y="-0.52"/>
<use href="#a20" y="-3.38"/>
<use href="#a115" y="0.91" opacity="0.8"/>
<use href="#a44" y="-0.33"/>
<use href="#a40" y="4.66" opacity="0.8"/>
<use href="#a85" y="-1.18" opacity="0.8"/>
<use href="#a5" y="4.19"/>
<use href="#a2" y="0.61"/>
<use href="#a68" y="0.25" opacity="0.8"/>
<use href="#a29" y="6.10"/>
<use href="#a13" y="-0.35"/>
<use href="#a66" y="3.33" opacity="0.8"/>
<use href="#a102" y="1.77" opacity="0.8"/>
<use href="#a8" y="2.78"/>
<use href="#a77" y="1.90" opacity="0.8"/>
<use href="#a2" y="2.15"/>
<use href="#a31" y="-3.46"/>
<use href="#a45" y="3.15"/>
<use href="#a85" y="-5.49" opacity="0.8"/>
<use href="#a10" y="4.42"/>
<use href="#a35" y="5.18"/>
<use href="#a44" y="-5.00"/>
<use href="#a22" y="-5.67"/>
<use href="#a23" y="3.75"/>
<use href="#a74" y="0.20" opacity="0.8"/>
<use href="#a35" y="3.28" opacity="0.8"/>
<use href="#a8" y="2.61"/>
<use href="#a77" y="3.69" opacity="0.8"/>
<use href="#a80" y="2.43" opacity="0.8"/>
<use href="#a63" y="-3.38" opacity="0.8"/>
<use href="#a1" y="-5.41"/>
<use href="#a94" y="1.51" opacity="0.8"/>
<use href="#a44" y="-2.11"/>
<use href="#a20" y="-1.77"/>
<use href="#a45" y="1.24"/>
<use href="#a35" y="2.22"/>
<use href="#a29" y="4.68"/>
<use href="#a47" y="-2.58"/>
<use href="#a74" y="-0.10" opacity="0.8"/>
<use href="#a46" y="0.04"/>
<use href="#a1" y="-6.80"/>
<use href="#a35" y="4.37"/>
<use href="#a114" y="5.99" opacity="0.8"/>
<use href="#a9" y="-0.37"/>
<use href="#a27" y="-6.60"/>
<use href="#a85" y="4.67" opacity="0.8"/>
<use href="#a66" y="2.22" opacity="0.8"/>
<use href="#a117" y="3.42" opacity="0.8"/>
<use href="#a27" y="-4.65"/>
<use href="#a63" y="4.11" opacity="0.8"/>
<use href="#a102" y="0.90" opacity="0.8"/>
<use href="#a115" y="-0.82" opacity="0.8"/>
<use href="#a79" y="-0.18" opacity="0.8"/>
<use href="#a118" y="12.20" opacity="0.8"/>
<use href="#a28" y="3.84"/>
<use href="#a128" y="3.30" opacity="0.8"/>
<use href="#a7" y="-2.48"/>
<use href="#a78" y="0.41" opacity="0.8"/>
<use href="#a23" y="2.43"/>
<use href="#a26" y="2.97"/>
<use href="#a10" y="2.93"/>
<use href="#a29" y="6.50"/>
<use href="#a30" y="-2.56"/>
<use href="#a2" y="2.44"/>
<use href="#a9" y="-2.81"/>
<use href="#a94" y="2.88" opacity="0.8"/>
<use href="#a3" y="1.27"/>
<use href="#a14" y="-0.86"/>
<use href="#a68" y="-1.60" opacity="0.8"/>
<use href="#a44" y="-2.36"/>
<use href="#a27" y="-5.36"/>
<use href="#a54" y="4.81" opacity="0.8"/>
<use href="#a39" y="-7.01"/>
<use href="#a2" y="0.36"/>
<use href="#a65" y="-2.52" opacity="0.8"/>
<use href="#a47" y="-1.70"/>
<use href="#a88" y="3.42" opacity="0.8"/>
<use href="#a70" y="-0.24" opacity="0.8"/>
<use href="#a18" y="0.12"/>
<use href="#a18" y="-0.89"/>
<use href="#a35" y="4.13" opacity="0.8"/>
<use href="#a32" y="-1.52"/>
<use href="#a37" y="-0.82"/>
<use href="#a13" y="-3.31"/>
<use href="#a58" y="7.03" opacity="0.8"/>
<use href="#a46" y="-0.78"/>
<use href="#a20" y="-3.89"/>
<use href="#a16" y="-6.14"/>
<use href="#a19" y="-6.94"/>
<use href="#a123" y="3.15" opacity="0.8"/>
<use href="#a37" y="0.30"/>
<use href="#a13" y="-5.22"/>
<use href="#a37" y="2.27"/>
<use href="#a37" y="3.34"/>
<use href="#a54" y="3.46" opacity="0.8"/>
<use href="#a71" y="4.66" opacity="0.8"/>
<use href="#a21" y="2.13" opacity="0.8"/>
<use href="#a27" y="-4.56"/>
<use href="#a44" y="-2.20"/>
<use href="#a27" y="-6.79"/>
<use href="#a108" y="-0.35" opacity="0.8"/>
<use href="#a92" y="3.83" opacity="0.8"/>
<use href="#a76" y="3.22" opacity="0.8"/>
<use href="#a119" y="2.05" opacity="0.8"/>
<use href="#a75" y="-2.47" opacity="0.8"/>
<use href="#a28" y="3.40"/>
<use href="#a106" y="9.61" opacity="0.8"/>
<use href="#a35" y="4.84"/>
<use href="#a74" y="-2.42" opacity="0.8"/>
<use href="#a27" y="-5.60"/>
<use href="#a101" y="2.76" opacity="0.8"/>
<use href="#a53" y="9.76" opacity="0.8"/>
<use href="#a112" y="-2.36" opacity="0.8"/>
<use href="#a4" y="1.34" opacity="0.8"/>
<use href="#a91" y="-4.07" opacity="0.8"/>
<use href="#a107" y="7.11" opacity="0.8"/>
<use href="#a47" y="-4.42"/>
<use href="#a28" y="5.16"/>
<use href="#a8" y="3.15"/>
<use href="#a26" y="1.06"/>
<use href="#a37" y="-1.78"/>
<use href="#a34" y="-6.50"/>
<use href="#a120" y="2.98" opacity="0.8"/>
<use href="#a62" y="1.44" opacity="0.8"/>
<use href="#a67" y="2.78" opacity="0.8"/>
<use href="#a2" y="1.40"/>
<use href="#a44" y="-1.30"/>
<use href="#a15" y="-5.59"/>
<use href="#a68" y="-2.34" opacity="0.8"/>
<use href="#a1" y="-11.48"/>
<use href="#a80" y="4.52" opacity="0.8"/>
<use href="#a40" y="5.24"/>
<use href="#a72" y="2.23" opacity="0.8"/>
<use href="#a2" y="-2.07"/>
<use href="#a29" y="8.78"/>
<use href="#a53" y="7.54" opacity="0.8"/>
<use href="#a13" y="-4.33"/>
<use href="#a47" y="-3.86"/>
<use href="#a67" y="-5.91" opacity="0.8"/>
<use href="#a13" y="-0.64"/>
<use href="#a109" y="0.38" opacity="0.8"/>
<use href="#a5" y="3.43" opacity="0.8"/>
<use href="#a23" y="3.17"/>
<use href="#a20" y="-6.02"/>
<use href="#a30" y="-0.92"/>
<use href="#a11" y="1.41"/>
<use href="#a26" y="1.35"/>
<use href="#a29" y="4.39"/>
<use href="#a35" y="4.22"/>
<use href="#a16" y="-6.43"/>
<use href="#a32" y="1.60"/>
<use href="#a81" y="7.35" opacity="0.8"/>
<use href="#a114" y="1.05" opacity="0.8"/>
<use href="#a26" y="2.34"/>
<use href="#a95" y="0.62" opacity="0.8"/>
<use href="#a22" y="-6.77"/>
<use href="#a44" y="-2.99"/>
<use href="#a71" y="-0.98" opacity="0.8"/>
<use href="#a78" y="-0.17" opacity="0.8"/>
<use href="#a21" y="3.64"/>
<use href="#a88" y="0.09" opacity="0.8"/>
<use href="#a20" y="-5.44"/>
<use href="#a24" y="3.47"/>
<use href="#a0" y="-8.42"/>
<use href="#a108" y="-0.67" opacity="0.8"/>
<use href="#a74" y="-1.40" opacity="0.8"/>
<use href="#a12" y="-3.68"/>
<use href="#a18" y="-0.39"/>
<use href="#a26" y="-0.09"/>
<use href="#a41" y="1.71"/>
<use href="#a7" y="-3.66"/>
<use href="#a8" y="2.99"/>
<use href="#a92" y="-2.28" opacity="0.8"/>
<use href="#a78" y="-0.82" opacity="0.8"/>
<use href="#a114" y="-0.49" opacity="0.8"/>
<use href="#a0" y="-6.04"/>
<use href="#a27" y="-5.41"/>
<use href="#a6" y="-3.23"/>
<use href="#a64" y="4.33" opacity="0.8"/>
<use href="#a17" y="-4.16"/>
<use href="#a89" y="-0.55" opacity="0.8"/>
<use href="#a62" y="-0.72" opacity="0.8"/>
<use href="#a30" y="1.23"/>
<use href="#a51" y="3.30" opacity="0.8"/>
<use href="#a24" y="-1.66"/>
<use href="#a8" y="3.60"/>
<use href="#a47" y="-4.38"/>
<use href="#a22" y="-7.32"/>
<use href="#a9" y="-1.15"/>
<use href="#a44" y="-1.96"/>
<use href="#a37" y="2.68"/>
<use href="#a21" y="4.13"/>
<use href="#a3" y="3.02"/>
<use href="#a100" y="-0.76" opacity="0.8"/>
<use href="#a62" y="-1.04" opacity="0.8"/>
<use href="#a37" y="0.28"/>
<use href="#a41" y="2.58"/>
<use href="#a51" y="3.44" opacity="0.8"/>
<use href="#a6" y="-3.55"/>
<use href="#a4" y="2.38"/>
<use href="#a102" y="0.96" opacity="0.8"/>
<use href="#a11" y="2.32"/>
<use href="#a101" y="4.29" opacity="0.8"/>
<use href="#a30" y="2.06"/>
<use href="#a35" y="1.71" opacity="0.8"/>
<use href="#a25" y="0.93"/>
<use href="#a49" y="4.67" opacity="0.8"/>
<use href="#a3" y="0.33"/>
<use href="#a113" y="0.64" opacity="0.8"/>
<use href="#a15" y="-7.30"/>
<use href="#a79" y="1.84" opacity="0.8"/>
<use href="#a10" y="1.19" opacity="0.8"/>
<use href="#a65" y="0.44" opacity="0.8"/>
<use href="#a24" y="-4.85"/>
<use href="#a33" y="-8.27"/>
<use href="#a14" y="0.16"/>
<use href="#a4" y="2.04" opacity="0.8"/>
<use href="#a21" y="4.84"/>
<use href="#a16" y="-6.40"/>
<use href="#a71" y="-2.98" opacity="0.8"/>
<use href="#a3" y="2.37"/>
<use href="#a23" y="2.68"/>
<use href="#a44" y="-0.17"/>
<use href="#a18" y="-2.46"/>
<use href="#a31" y="0.20"/>
<use href="#a79" y="-2.78" opacity="0.8"/>
<use href="#a39" y="-7.79"/>
<use href="#a21" y="2.26"/>
<use href="#a84" y="3.96" opacity="0.8"/>
<use href="#a20" y="-6.41"/>
<use href="#a38" y="5.11"/>
<use href="#a37" y="1.29"/>
<use href="#a117" y="5.92" opacity="0.8"/>
<use href="#a50" y="3.45" opacity="0.8"/>
<use href="#a11" y="3.64"/>
<use href="#a122" y="4.42" opacity="0.8"/>
<use href="#a23" y="3.54"/>
<use href="#a23" y="2.54"/>
<use href="#a28" y="4.04"/>
<use href="#a91" y="3.16" opacity="0.8"/>
<use href="#a14" y="0.11"/>
<use href="#a79" y="-3.73" opacity="0.8"/>
<use href="#a93" y="4.41" opacity="0.8"/>
<use href="#a80" y="4.67" opacity="0.8"/>
<use href="#a76" y="6.68" opacity="0.8"/>
<use href="#a100" y="-0.53" opacity="0.8"/>
<use href="#a62" y="4.22" opacity="0.8"/>
<use href="#a35" y="5.65" opacity="0.8"/>
<use href="#a44" y="-2.24"/>
<use href="#a99" y="2.33" opacity="0.8"/>
<use href="#a14" y="-0.23"/>
<use href="#a36" y="-7.60"/>
<use href="#a16" y="-3.53"/>
<use href="#a47" y="-1.11"/>
<use href="#a87" y="7.37" opacity="0.8"/>
<use href="#a58" y="4.29" opacity="0.8"/>
<use href="#a2" y="3.22"/>
<use href="#a1" y="-7.58"/>
<use href="#a22" y="-5.15"/>
<use href="#a0" y="-5.23"/>
<use href="#a68" y="-1.03" opacity="0.8"/>
<use href="#a17" y="-5.72"/>
<use href="#a11" y="2.66"/>
<use href="#a23" y="2.06"/>
<use href="#a14" y="-1.76"/>
<use href="#a62" y="-2.30" opacity="0.8"/>
<use href="#a35" y="6.16"/>
<use href="#a42" y="6.44"/>
<use href="#a15" y="-6.21"/>
<use href="#a48" y="3.60" opacity="0.8"/>
<use href="#a35" y="2.99"/>
<use href="#a45" y="1.75" opacity="0.8"/>
<use href="#a9" y="-2.05"/>
<use href="#a53" y="8.10" opacity="0.8"/>
<use href="#a7" y="-3.51"/>
<use href="#a107" y="1.37" opacity="0.8"/>
<use href="#a14" y="-0.96"/>
<use href="#a13" y="-4.66"/>
<use href="#a23" y="6.33"/>
<use href="#a43" y="-7.52"/>
<use href="#a51" y="4.96" opacity="0.8"/>
<use href="#a101" y="1.35" opacity="0.8"/>
<use href="#a119" y="1.34" opacity="0.8"/>
<use href="#a83" y="3.34" opacity="0.8"/>
<use href="#a26" y="2.58"/>
<use href="#a30" y="-0.58"/>
<use href="#a9" y="0.75"/>
<use href="#a98" y="-1.91" opacity="0.8"/>
<use href="#a83" y="3.10" opacity="0.8"/>
<use href="#a38" y="6.03"/>
<use href="#a123" y="3.29" opacity="0.8"/>
<use href="#a58" y="6.62" opacity="0.8"/>
<use href="#a127" y="4.94" opacity="0.8"/>
<use href="#a23" y="2.83"/>
<use href="#a1" y="-7.36"/>
<use href="#a32" y="-0.29"/>
<use href="#a37" y="0.62"/>
<use href="#a29" y="4.84"/>
<use href="#a3" y="1.98"/>
<use href="#a14" y="0.55"/>
<use href="#a35" y="4.28"/>
<use href="#a32" y="-1.24"/>
<use href="#a84" y="0.07" opacity="0.8"/>
<use href="#a31" y="-0.71"/>
<use href="#a38" y="0.37" opacity="0.8"/>
<use href="#a90" y="1.67" opacity="0.8"/>
<use href="#a22" y="-5.81"/>
<use href="#a27" y="-2.50"/>
<use href="#a3" y="0.96"/>
<use href="#a60" y="8.04" opacity="0.8"/>
<use href="#a26" y="-0.37"/>
<use href="#a35" y="2.39" opacity="0.8"/>
<use href="#a22" y="-8.20"/>
<use href="#a37" y="0.18"/>
<use href="#a50" y="5.14" opacity="0.8"/>
<use href="#a36" y="-6.64"/>
<use href="#a20" y="-1.95"/>
<use href="#a85" y="3.21" opacity="0.8"/>
<use href="#a74" y="-0.48" opacity="0.8"/>
<use href="#a18" y="1.15"/>
<use href="#a116" y="2.22" opacity="0.8"/>
<use href="#a66" y="-1.34" opacity="0.8"/>
<use href="#a6" y="-3.07"/>
<use href="#a21" y="4.24"/>
<use href="#a6" y="-3.13"/>
<use href="#a10" y="7.22"/>
<use href="#a23" y="2.74"/>
<use href="#a19" y="-7.50"/>
<use href="#a75" y="0.34" opacity="0.8"/>
<use href="#a35" y="3.47"/>
<use href="#a79" y="-4.59" opacity="0.8"/>
<use href="#a2" y="1.75"/>
<use href="#a20" y="-2.03"/>
<use href="#a1" y="-5.92"/>
<use href="#a66" y="-4.07" opacity="0.8"/>
<use href="#a7" y="-4.03"/>
<use href="#a16" y="-4.69"/>
<use href="#a9" y="-1.14"/>
<use href="#a113" y="7.61" opacity="0.8"/>
<use href="#a35" y="2.70"/>
<use href="#a8" y="2.24"/>
<use href="#a62" y="-1.01" opacity="0.8"/>
<use href="#a12" y="-7.20"/>
<use href="#a32" y="1.81"/>
<use href="#a88" y="4.93" opacity="0.8"/>
<use href="#a65" y="-0.92" opacity="0.8"/>
<use href="#a30" y="-0.70"/>
<use href="#a49" y="5.45" opacity="0.8"/>
<use href="#a18" y="0.99"/>
<use href="#a30" y="1.38"/>
<use href="#a1" y="-5.25"/>
<use href="#a39" y="-2.86"/>
<use href="#a31" y="-1.63"/>
<use href="#a30" y="1.28"/>
<use href="#a78" y="-1.69" opacity="0.8"/>
<use href="#a5" y="3.73"/>
<use href="#a1" y="-7.00"/>
<use href="#a2" y="-0.12"/>
<use href="#a26" y="1.70"/>
<use href="#a65" y="-4.14" opacity="0.8"/>
<use href="#a26" y="-1.20"/>
<use href="#a26" y="-3.12"/>
<use href="#a21" y="4.85"/>
<use href="#a50" y="6.04" opacity="0.8"/>
<use href="#a119" y="0.16" opacity="0.8"/>
<use href="#a39" y="-5.30"/>
<use href="#a38" y="5.31" opacity="0.8"/>
<use href="#a66" y="-3.34" opacity="0.8"/>
<use href="#a25" y="-2.13"/>
<use href="#a3" y="1.58"/>
<use href="#a48" y="4.78" opacity="0.8"/>
<use href="#a92" y="-1.46" opacity="0.8"/>
<use href="#a32" y="-0.65"/>
<use href="#a48" y="4.83" opacity="0.8"/>
<use href="#a30" y="-1.15"/>
<use href="#a42" y="5.48"/>
<use href="#a40" y="4.26" opacity="0.8"/>
<use href="#a63" y="2.54" opacity="0.8"/>
<use href="#a21" y="3.17"/>
<use href="#a0" y="-3.92"/>
<use href="#a41" y="-0.66"/>
<use href="#a22" y="-5.95"/>
<use href="#a98" y="1.11" opacity="0.8"/>
<use href="#a44" y="-1.40"/>
<use href="#a104" y="-0.04" opacity="0.8"/>
<use href="#a39" y="-7.53"/>
<use href="#a92" y="-4.32" opacity="0.8"/>
<use href="#a105" y="3.82" opacity="0.8"/>
<use href="#a22" y="-7.37"/>
<use href="#a66" y="1.20" opacity="0.8"/>
<use href="#a35" y="4.68"/>
<use href="#a14" y="-0.71"/>
<use href="#a10" y="3.02"/>
<use href="#a66" y="-6.88" opacity="0.8"/>
<use href="#a6" y="-5.84"/>
<use href="#a9" y="-2.69"/>
<use href="#a9" y="-0.74"/>
<use href="#a112" y="-2.46" opacity="0.8"/>
<use href="#a18" y="-0.07"/>
<use href="#a15" y="-4.72"/>
<use href="#a3" y="0.83"/>
<use href="#a21" y="0.99"/>
<use href="#a84" y="-4.18" opacity="0.8"/>
<use href="#a67" y="3.67" opacity="0.8"/>
<use href="#a66" y="-2.11" opacity="0.8"/>
<use href="#a64" y="5.51" opacity="0.8"/>
<use href="#a83" y="0.79" opacity="0.8"/>
<use href="#a42" y="3.88" opacity="0.8"/>
<use href="#a75" y="-1.47" opacity="0.8"/>
<use href="#a20" y="-3.70"/>
<use href="#a24" y="-1.58"/>
<use href="#a105" y="2.66" opacity="0.8"/>
<use href="#a65" y="-3.06" opacity="0.8"/>
<use href="#a78" y="-1.70" opacity="0.8"/>
<use href="#a17" y="-6.94"/>
<use href="#a82" y="-1.54" opacity="0.8"/>
<use href="#a30" y="-0.69"/>
<use href="#a9" y="-0.91"/>
<use href="#a31" y="-4.71"/>
<use href="#a108" y="0.24" opacity="0.8"/>
<use href="#a115" y="2.88" opacity="0.8"/>
<use href="#a26" y="0.16"/>
<use href="#a68" y="-0.81" opacity="0.8"/>
<use href="#a14" y="1.33"/>
<use href="#a38" y="6.93"/>
<use href="#a74" y="2.62" opacity="0.8"/>
<use href="#a2" y="1.04"/>
<use href="#a70" y="5.25" opacity="0.8"/>
<use href="#a23" y="6.23"/>
<use href="#a70" y="4.26" opacity="0.8"/>
<use href="#a99" y="0.62" opacity="0.8"/>
<use href="#a47" y="-2.74"/>
<use href="#a28" y="1.89" opacity="0.8"/>
<use href="#a98" y="1.26" opacity="0.8"/>
<use href="#a13" y="-4.12"/>
<use href="#a93" y="4.47" opacity="0.8"/>
<use href="#a22" y="-6.65"/>
<use href="#a4" y="2.22" opacity="0.8"/>
<use href="#a27" y="-6.02"/>
<use href="#a21" y="3.95"/>
<use href="#a74" y="-0.27" opacity="0.8"/>
<use href="#a79" y="2.57" opacity="0.8"/>
<use href="#a71" y="3.38" opacity="0.8"/>
<use href="#a125" y="-0.99" opacity="0.8"/>
<use href="#a48" y="5.87" opacity="0.8"/>
<use href="#a24" y="-3.38"/>
<use href="#a74" y="1.31" opacity="0.8"/>
<use href="#a29" y="6.65"/>
<use href="#a11" y="3.58"/>
<use href="#a46" y="-0.93"/>
<use href="#a37" y="-0.82"/>
<use href="#a6" y="-2.45"/>
<use href="#a77" y="2.45" opacity="0.8"/>
<use href="#a82" y="0.88" opacity="0.8"/>
<use href="#a67" y="3.05" opacity="0.8"/>
<use href="#a17" y="-7.74"/>
<use href="#a62" y="-1.48" opacity="0.8"/>
<use href="#a12" y="-4.52"/>
<use href="#a3" y="-1.45"/>
<use href="#a4" y="3.11"/>
<use href="#a126" y="2.21" opacity="0.8"/>
<use href="#a20" y="-2.15"/>
<use href="#a70" y="1.29" opacity="0.8"/>
<use href="#a113" y="5.61" opacity="0.8"/>
<use href="#a52" y="7.52" opacity="0.8"/>
<use href="#a121" y="6.12" opacity="0.8"/>
<use href="#a5" y="4.82"/>
<use href="#a28" y="5.90"/>
<use href="#a102" y="6.80" opacity="0.8"/>
<use href="#a35" y="4.97"/>
<use href="#a16" y="-4.01"/>
<use href="#a44" y="-2.26"/>
<use href="#a3" y="2.35"/>
<use href="#a17" y="-4.17"/>
<use href="#a4" y="1.81"/>
<use href="#a87" y="5.63" opacity="0.8"/>
<use href="#a32" y="-1.73"/>
<use href="#a20" y="1.33"/>
<use href="#a22" y="-5.82"/>
<use href="#a21" y="3.24"/>
<use href="#a117" y="5.00" opacity="0.8"/>
<use href="#a108" y="0.58" opacity="0.8"/>
<use href="#a25" y="-3.12"/>
<use href="#a17" y="-4.55"/>
<use href="#a5" y="3.55"/>
<use href="#a82" y="0.76" opacity="0.8"/>
<use href="#a22" y="-4.44"/>
<use href="#a70" y="0.74" opacity="0.8"/>
<use href="#a58" y="5.79" opacity="0.8"/>
<use href="#a23" y="4.91"/>
<use href="#a26" y="1.50"/>
<use href="#a88" y="2.18" opacity="0.8"/>
<use href="#a72" y="8.58" opacity="0.8"/>
<use href="#a2" y="-2.99" opacity="0.8"/>
<use href="#a55" y="6.67" opacity="0.8"/>
<use href="#a30" y="1.03"/>
<use href="#a5" y="4.34"/>
<use href="#a46" y="-2.45"/>
<use href="#a52" y="8.80" opacity="0.8"/>
<use href="#a18" y="0.71"/>
<use href="#a7" y="-4.21"/>
<use href="#a20" y="-0.48"/>
<use href="#a39" y="-6.15"/>
<use href="#a4" y="1.02" opacity="0.8"/>
<use href="#a115" y="-0.58" opacity="0.8"/>
<use href="#a107" y="-0.43" opacity="0.8"/>
<use href="#a29" y="4.92" opacity="0.8"/>
<use href="#a26" y="-1.02"/>
<use href="#a41" y="0.77"/>
<use href="#a0" y="-4.27"/>
<use href="#a66" y="-1.32" opacity="0.8"/>
<use href="#a3" y="1.16"/>
<use href="#a27" y="-8.04"/>
<use href="#a20" y="-1.05"/>
<use href="#a37" y="-1.21"/>
<use href="#a28" y="4.18" opacity="0.8"/>
<use href="#a31" y="-4.79"/>
<use href="#a50" y="4.87" opacity="0.8"/>
<use href="#a24" y="-2.86"/>
<use href="#a107" y="-0.34" opacity="0.8"/>
<use href="#a24" y="-2.44"/>
<use href="#a78" y="1.06" opacity="0.8"/>
<use href="#a35" y="3.42"/>
<use href="#a75" y="-2.87" opacity="0.8"/>
<use href="#a22" y="-4.61"/>
<use href="#a13" y="-4.32"/>
<use href="#a14" y="1.98"/>
<use href="#a29" y="5.61" opacity="0.8"/>
<use href="#a113" y="4.09" opacity="0.8"/>
<use href="#a14" y="-1.85"/>
<use href="#a28" y="4.12"/>
<use href="#a41" y="0.22"/>
<use href="#a3" y="1.53"/>
<use href="#a15" y="-6.88"/>
<use href="#a8" y="2.75"/>
<use href="#a92" y="2.81" opacity="0.8"/>
<use href="#a87" y="3.32" opacity="0.8"/>
<use href="#a24" y="-1.25"/>
<use href="#a112" y="1.66" opacity="0.8"/>
<use href="#a83" y="-0.26" opacity="0.8"/>
<use href="#a41" y="2.09"/>
<use href="#a1" y="-5.76"/>
<use href="#a45" y="3.88"/>
<use href="#a7" y="-4.07"/>
<use href="#a89" y="-1.93" opacity="0.8"/>
<use href="#a11" y="3.73"/>
<use href="#a19" y="-7.40"/>
<use href="#a20" y="-3.55"/>
<use href="#a82" y="-1.05" opacity="0.8"/>
<use href="#a5" y="2.95"/>
<use href="#a6" y="-3.34"/>
<use href="#a54" y="4.26" opacity="0.8"/>
<use href="#a66" y="-1.67" opacity="0.8"/>
<use href="#a62" y="1.53" opacity="0.8"/>
<use href="#a76" y="1.51" opacity="0.8"/>
<use href="#a29" y="4.38" opacity="0.8"/>
<use href="#a72" y="-0.51" opacity="0.8"/>
<use href="#a55" y="5.33" opacity="0.8"/>
<use href="#a87" y="1.70" opacity="0.8"/>
<use href="#a28" y="3.76"/>
<use href="#a45" y="2.57"/>
<use href="#a14" y="-1.52"/>
<use href="#a100" y="1.41" opacity="0.8"/>
<use href="#a4" y="2.96" opacity="0.8"/>
<use href="#a25" y="-1.64"/>
</g>
<path d="M38.3 181.6 39.2 180.9 40.1 180.2 41.0 179.5 42.0 178.8 42.9 178.1 43.8 177.4 44.7 176.7 45.6 176.0 46.5 175.2 47.4 174.5 48.3 173.8 49.2 173.1 50.1 172.3 51.0 171.6 52.0 170.8 52.9 170.1 53.8 169.3 54.7 168.6 55.6 167.8 56.5 167.1 57.4 166.3 58.3 165.5 59.2 164.8 60.1 164.0 61.0 163.2 62.0 162.4 62.9 161.7 63.8 160.9 64.7 160.1 65.6 159.3 66.5 158.5 67.4 157.8 68.3 157.0 69.2 156.2 70.1 155.4 71.0 154.6 72.0 153.8 72.9 153.0 73.8 152.2 74.7 151.4 75.6 150.6 76.5 149.8 77.4 149.1 78.3 148.3 79.2 147.5 80.1 146.7 81.0 145.9 82.0 145.1 82.9 144.3 83.8 143.5 84.7 142.7 85.6 141.9 86.5 141.1 87.4 140.3 88.3 139.6 89.2 138.8 90.1 138.0 91.0 137.2 91.9 136.4 92.9 135.6 93.8 134.9 94.7 134.1 95.6 133.3 96.5 132.5 97.4 131.8 98.3 131.0 99.2 130.2 100.1 129.5 101.0 128.7 101.9 127.9 102.9 127.2 103.8 126.4 104.7 125.7 105.6 124.9 106.5 124.2 107.4 123.4 108.3 122.7 109.2 122.0 110.1 121.2 111.0 120.5 111.9 119.8 112.9 119.0 113.8 118.3 114.7 117.6 115.6 116.9 116.5 116.2 117.4 115.4 118.3 114.7 119.2 114.0 120.1 113.3 121.0 112.6 121.9 111.9 122.9 111.3 123.8 110.6 124.7 109.9 125.6 109.2 126.5 108.5 127.4 107.9 128.3 107.2 129.2 106.6 130.1 105.9 131.0 105.2 131.9 104.6 132.9 104.0 133.8 103.3 134.7 102.7 135.6 102.0 136.5 101.4 137.4 100.8 138.3 100.2 139.2 99.6 140.1 99.0 141.0 98.4 141.9 97.8 142.9 97.2 143.8 96.6 144.7 96.0 145.6 95.4 146.5 94.8 147.4 94.3 148.3 93.7 149.2 93.1 150.1 92.6 151.0 92.0 151.9 91.5 152.9 90.9 153.8 90.4 154.7 89.9 155.6 89.3 156.5 88.8 157.4 88.3 158.3 87.8 159.2 87.3 160.1 86.8 161.0 86.3 161.9 85.8 162.9 85.3 163.8 84.8 164.7 84.3 165.6 83.8 166.5 83.3 167.4 82.9 168.3 82.4 169.2 82.0 170.1 81.5 171.0 81.1 171.9 80.6 172.8 80.2 173.8 79.7 174.7 79.3 175.6 78.9 176.5 78.5 177.4 78.1 178.3 77.6 179.2 77.2 180.1 76.8 181.0 76.4 181.9 76.0 182.8 75.7 183.8 75.3 184.7 74.9 185.6 74.5 186.5 74.1 187.4 73.8 188.3 73.4 189.2 73.0 190.1 72.7 191.0 72.3 191.9 72.0 192.8 71.7 193.8 71.3 194.7 71.0 195.6 70.6 196.5 70.3 197.4 70.0 198.3 69.7 199.2 69.4 200.1 69.1 201.0 68.7 201.9 68.4 202.8 68.1 203.8 67.8 204.7 67.5 205.6 67.2 206.5 67.0 207.4 66.7 208.3 66.4 209.2 66.1 210.1 65.8 211.0 65.6 211.9 65.3 212.8 65.0 213.8 64.8 214.7 64.5 215.6 64.2 216.5 64.0 217.4 63.7 218.3 63.5" fill="none" stroke="#111" stroke-width="1.6" stroke-linecap="round"/>
<path d="M38.3 194.3 39.2 192.6 40.1 191.1 41.0 189.6 42.0 188.3 42.9 187.0 43.8 185.8 44.7 184.7 45.6 183.6 46.5 182.5 47.4 181.5 48.3 180.5 49.2 179.5 50.1 178.6 51.0 177.7 52.0 176.8 52.9 175.9 53.8 175.0 54.7 174.2 55.6 173.4 56.5 172.6 57.4 171.8 58.3 171.0 59.2 170.3 60.1 169.5 61.0 168.8 62.0 168.1 62.9 167.4 63.8 166.7 64.7 166.0 65.6 165.3 66.5 164.7 67.4 164.0 68.3 163.4 69.2 162.8 70.1 162.1 71.0 161.5 72.0 160.9 72.9 160.3 73.8 159.7 74.7 159.1 75.6 158.6 76.5 158.0 77.4 157.4 78.3 156.9 79.2 156.4 80.1 155.8 81.0 155.3 82.0 154.8 82.9 154.2 83.8 153.7 84.7 153.2 85.6 152.7 86.5 152.2 87.4 151.7 88.3 151.3 89.2 150.8 90.1 150.3 91.0 149.8 91.9 149.4 92.9 148.9 93.8 148.5 94.7 148.0 95.6 147.6 96.5 147.2 97.4 146.7 98.3 146.3 99.2 145.9 100.1 145.5 101.0 145.0 101.9 144.6 102.9 144.2 103.8 143.8 104.7 143.4 105.6 143.0 106.5 142.7 107.4 142.3 108.3 141.9 109.2 141.5 110.1 141.1 111.0 140.8 111.9 140.4 112.9 140.0 113.8 139.7 114.7 139.3 115.6 139.0 116.5 138.6 117.4 138.3 118.3 137.9 119.2 137.6 120.1 137.3 121.0 136.9 121.9 136.6 122.9 136.3 123.8 136.0 124.7 135.6 125.6 135.3 126.5 135.0 127.4 134.7 128.3 134.4 129.2 134.1 130.1 133.8" fill="none" stroke="#dd6c30" stroke-width="1.6"/>
<path d="M130.1 133.8 131.0 133.5 131.9 133.2 132.9 132.9 133.8 132.6 134.7 132.3 135.6 132.0 136.5 131.7 137.4 131.5 138.3 131.2 139.2 130.9 140.1 130.6 141.0 130.4 141.9 130.1 142.9 129.8 143.8 129.6 144.7 129.3 145.6 129.0 146.5 128.8 147.4 128.5 148.3 128.3 149.2 128.0 150.1 127.8 151.0 127.5 151.9 127.3 152.9 127.0 153.8 126.8 154.7 126.6 155.6 126.3 156.5 126.1 157.4 125.9 158.3 125.6 159.2 125.4 160.1 125.2 161.0 125.0 161.9 124.7 162.9 124.5 163.8 124.3 164.7 124.1 165.6 123.9 166.5 123.6 167.4 123.4 168.3 123.2 169.2 123.0 170.1 122.8 171.0 122.6 171.9 122.4 172.8 122.2 173.8 122.0 174.7 121.8 175.6 121.6 176.5 121.4 177.4 121.2 178.3 121.0 179.2 120.9 180.1 120.7 181.0 120.5 181.9 120.3 182.8 120.1 183.8 119.9 184.7 119.7 185.6 119.6 186.5 119.4 187.4 119.2 188.3 119.0 189.2 118.9 190.1 118.7 191.0 118.5 191.9 118.4 192.8 118.2 193.8 118.0 194.7 117.9 195.6 117.7 196.5 117.5 197.4 117.4 198.3 117.2 199.2 117.1 200.1 116.9 201.0 116.7 201.9 116.6 202.8 116.4 203.8 116.3 204.7 116.1 205.6 116.0 206.5 115.8 207.4 115.7 208.3 115.5 209.2 115.4 210.1 115.3 211.0 115.1 211.9 115.0 212.8 114.8 213.8 114.7 214.7 114.6 215.6 114.4 216.5 114.3 217.4 114.1 218.3 114.0" fill="none" stroke="#dd6c30" stroke-width="1.6" stroke-dasharray="4.2 3.25" stroke-dashoffset="4.2"/>
<g stroke="#8c8c8c" stroke-width="1" fill="none">
<path d="M36.5 15V199.4H226.9"/>
<path d="M33.7 199.4H36.5"/>
<path d="M33.7 155.4H36.5"/>
<path d="M33.7 111.4H36.5"/>
<path d="M33.7 67.4H36.5"/>
<path d="M33.7 23.4H36.5"/>
<path d="M36.5 199.4V202"/>
<path d="M82.0 199.4V202"/>
<path d="M127.4 199.4V202"/>
<path d="M172.8 199.4V202"/>
<path d="M218.3 199.4V202"/>
</g>
<g font-size="8.4" fill="#3a3a3a" text-anchor="end">
<text x="30.0" y="202.3">0</text>
<text x="30.0" y="158.3">50</text>
<text x="30.0" y="114.3">100</text>
<text x="30.0" y="70.3">150</text>
<text x="30.0" y="26.3">200</text>
</g>
<g font-size="8.4" fill="#3a3a3a" text-anchor="middle">
<text x="36.5" y="211.3">0</text>
<text x="82.0" y="211.3">25</text>
<text x="127.4" y="211.3">50</text>
<text x="172.8" y="211.3">75</text>
<text x="218.3" y="211.3">100</text>
</g>
<text transform="translate(11.1 142.3) rotate(-90)" font-size="8.9" fill="#3a3a3a" textLength="61.5" lengthAdjust="spacingAndGlyphs">AGC (MgC ha<tspan font-size="5.9" dy="-3.4">−1</tspan><tspan dy="3.4">)</tspan></text>
<text x="-0.4" y="9.3" font-size="11.6" font-weight="bold" fill="#111">a</text>
<text x="12" y="9.1" font-size="8.8" fill="#3a3a3a">Amazon forests</text>
<g stroke="#658a47" stroke-opacity="0.1" stroke-width="0.8" fill="none">
<use href="#b24" y="-8.63" opacity="0.85"/>
<use href="#b62" y="3.29" opacity="0.85"/>
<use href="#b22" y="6.24" opacity="0.85"/>
<use href="#b91" y="5.20" opacity="0.6"/>
<use href="#b59" y="-6.91" opacity="0.85"/>
<use href="#b64" y="-4.98" opacity="0.85"/>
<use href="#b43" y="-6.38" opacity="0.85"/>
<use href="#b59" y="-2.64" opacity="0.85"/>
<use href="#b16" y="-3.72" opacity="0.85"/>
<use href="#b34" y="-3.37" opacity="0.85"/>
<use href="#b4" y="-6.76" opacity="0.85"/>
<use href="#b50" y="0.80" opacity="0.85"/>
<use href="#b19" y="-6.61" opacity="0.85"/>
<use href="#b28" y="3.84" opacity="0.85"/>
<use href="#b7" y="4.64" opacity="0.85"/>
<use href="#b7" y="2.14" opacity="0.85"/>
<use href="#b41" y="-6.41" opacity="0.85"/>
<use href="#b50" y="2.51" opacity="0.85"/>
<use href="#b87" y="4.31" opacity="0.6"/>
<use href="#b48" y="-4.99" opacity="0.85"/>
<use href="#b56" y="-4.66" opacity="0.85"/>
<use href="#b31" y="2.90" opacity="0.85"/>
<use href="#b41" y="-7.09" opacity="0.85"/>
<use href="#b64" y="-2.41" opacity="0.85"/>
<use href="#b66" y="-6.19" opacity="0.85"/>
<use href="#b57" y="-3.04" opacity="0.85"/>
<use href="#b16" y="-3.68" opacity="0.85"/>
<use href="#b92" y="2.86" opacity="0.6"/>
<use href="#b39" y="-11.88" opacity="0.85"/>
<use href="#b62" y="4.56" opacity="0.85"/>
<use href="#b34" y="-6.05" opacity="0.85"/>
<use href="#b36" y="-5.03" opacity="0.85"/>
<use href="#b50" y="-2.32" opacity="0.85"/>
<use href="#b62" y="2.79" opacity="0.85"/>
<use href="#b25" y="3.44" opacity="0.85"/>
<use href="#b10" y="0.83" opacity="0.85"/>
<use href="#b22" y="4.55" opacity="0.85"/>
<use href="#b51" y="-8.85" opacity="0.6"/>
<use href="#b23" y="-6.37" opacity="0.85"/>
<use href="#b39" y="-8.09" opacity="0.6"/>
<use href="#b58" y="2.93" opacity="0.85"/>
<use href="#b5" y="1.80" opacity="0.85"/>
<use href="#b68" y="-7.14" opacity="0.6"/>
<use href="#b107" y="-9.44" opacity="0.6"/>
<use href="#b44" y="-8.80" opacity="0.85"/>
<use href="#b81" y="3.33" opacity="0.6"/>
<use href="#b10" y="0.21" opacity="0.85"/>
<use href="#b26" y="-4.70" opacity="0.85"/>
<use href="#b41" y="-7.33" opacity="0.85"/>
<use href="#b48" y="-2.36" opacity="0.85"/>
<use href="#b40" y="-7.27" opacity="0.85"/>
<use href="#b25" y="7.25" opacity="0.85"/>
<use href="#b4" y="-5.67" opacity="0.85"/>
<use href="#b83" y="3.87" opacity="0.6"/>
<use href="#b5" y="0.96" opacity="0.85"/>
<use href="#b38" y="-3.06" opacity="0.85"/>
<use href="#b40" y="-2.08" opacity="0.85"/>
<use href="#b102" y="4.30" opacity="0.6"/>
<use href="#b50" y="1.30" opacity="0.85"/>
<use href="#b54" y="1.59" opacity="0.6"/>
<use href="#b10" y="-1.71" opacity="0.85"/>
<use href="#b70" y="7.09" opacity="0.85"/>
<use href="#b11" y="-3.90" opacity="0.6"/>
<use href="#b81" y="4.18" opacity="0.6"/>
<use href="#b56" y="-4.58" opacity="0.85"/>
<use href="#b96" y="7.39" opacity="0.6"/>
<use href="#b27" y="-8.49" opacity="0.6"/>
<use href="#b63" y="0.04" opacity="0.85"/>
<use href="#b18" y="-1.52" opacity="0.85"/>
<use href="#b3" y="-8.82" opacity="0.6"/>
<use href="#b18" y="1.41" opacity="0.85"/>
<use href="#b61" y="-9.62" opacity="0.85"/>
<use href="#b66" y="-4.98" opacity="0.85"/>
<use href="#b30" y="-2.68" opacity="0.85"/>
<use href="#b0" y="1.55" opacity="0.85"/>
<use href="#b16" y="-1.57" opacity="0.85"/>
<use href="#b26" y="-6.66" opacity="0.85"/>
<use href="#b83" y="3.20" opacity="0.6"/>
<use href="#b81" y="2.38" opacity="0.6"/>
<use href="#b81" y="4.40" opacity="0.6"/>
<use href="#b95" y="3.13" opacity="0.6"/>
<use href="#b35" y="-1.95" opacity="0.85"/>
<use href="#b32" y="-5.13" opacity="0.85"/>
<use href="#b48" y="-2.73" opacity="0.85"/>
<use href="#b23" y="-7.52" opacity="0.85"/>
<use href="#b0" y="6.06" opacity="0.85"/>
<use href="#b65" y="-4.26" opacity="0.85"/>
<use href="#b110" y="-10.29" opacity="0.6"/>
<use href="#b25" y="0.85" opacity="0.85"/>
<use href="#b71" y="3.68" opacity="0.6"/>
<use href="#b24" y="-5.27" opacity="0.6"/>
<use href="#b35" y="1.15" opacity="0.85"/>
<use href="#b64" y="-6.51" opacity="0.85"/>
<use href="#b54" y="4.87" opacity="0.85"/>
<use href="#b59" y="-8.27" opacity="0.85"/>
<use href="#b2" y="4.36" opacity="0.85"/>
<use href="#b23" y="-7.66" opacity="0.85"/>
<use href="#b9" y="-7.82" opacity="0.85"/>
<use href="#b73" y="-8.40" opacity="0.85"/>
<use href="#b16" y="-3.70" opacity="0.85"/>
<use href="#b25" y="4.01" opacity="0.85"/>
<use href="#b36" y="-6.08" opacity="0.85"/>
<use href="#b29" y="-2.24" opacity="0.85"/>
<use href="#b50" y="3.92" opacity="0.85"/>
<use href="#b60" y="5.55" opacity="0.85"/>
<use href="#b6" y="-7.51" opacity="0.6"/>
<use href="#b40" y="-2.83" opacity="0.85"/>
<use href="#b17" y="1.70" opacity="0.85"/>
<use href="#b84" y="4.32" opacity="0.6"/>
<use href="#b47" y="-7.88" opacity="0.85"/>
<use href="#b20" y="-1.55" opacity="0.85"/>
<use href="#b113" y="-11.17" opacity="0.6"/>
<use href="#b89" y="3.94" opacity="0.6"/>
<use href="#b68" y="-11.97" opacity="0.85"/>
<use href="#b54" y="4.18" opacity="0.85"/>
<use href="#b13" y="-1.69" opacity="0.85"/>
<use href="#b51" y="-7.95" opacity="0.85"/>
<use href="#b101" y="4.64" opacity="0.6"/>
<use href="#b80" y="5.26" opacity="0.6"/>
<use href="#b8" y="-2.04" opacity="0.85"/>
<use href="#b29" y="-1.17" opacity="0.85"/>
<use href="#b60" y="2.48" opacity="0.6"/>
<use href="#b24" y="-8.28" opacity="0.85"/>
<use href="#b41" y="-7.63" opacity="0.85"/>
<use href="#b44" y="-2.99" opacity="0.85"/>
<use href="#b24" y="-8.76" opacity="0.85"/>
<use href="#b44" y="-6.43" opacity="0.85"/>
<use href="#b14" y="-0.70" opacity="0.85"/>
<use href="#b62" y="3.08" opacity="0.85"/>
<use href="#b8" y="-3.16" opacity="0.85"/>
<use href="#b98" y="1.44" opacity="0.6"/>
<use href="#b35" y="-0.33" opacity="0.85"/>
<use href="#b29" y="-2.07" opacity="0.85"/>
<use href="#b89" y="3.42" opacity="0.6"/>
<use href="#b33" y="-2.31" opacity="0.85"/>
<use href="#b48" y="-6.02" opacity="0.85"/>
<use href="#b87" y="2.46" opacity="0.6"/>
<use href="#b90" y="2.32" opacity="0.6"/>
<use href="#b63" y="-0.16" opacity="0.85"/>
<use href="#b12" y="1.68" opacity="0.6"/>
<use href="#b43" y="-4.65" opacity="0.85"/>
<use href="#b9" y="-6.92" opacity="0.85"/>
<use href="#b25" y="2.76" opacity="0.85"/>
<use href="#b33" y="-0.54" opacity="0.85"/>
<use href="#b83" y="5.02" opacity="0.6"/>
<use href="#b18" y="-1.88" opacity="0.85"/>
<use href="#b3" y="-10.55" opacity="0.85"/>
<use href="#b11" y="-8.48" opacity="0.6"/>
<use href="#b3" y="-7.61" opacity="0.85"/>
<use href="#b80" y="2.71" opacity="0.6"/>
<use href="#b110" y="-10.65" opacity="0.6"/>
<use href="#b29" y="-1.64" opacity="0.85"/>
<use href="#b19" y="-2.24" opacity="0.85"/>
<use href="#b48" y="-6.39" opacity="0.85"/>
<use href="#b71" y="4.31" opacity="0.85"/>
<use href="#b10" y="-2.29" opacity="0.85"/>
<use href="#b54" y="3.72" opacity="0.85"/>
<use href="#b55" y="-0.49" opacity="0.85"/>
<use href="#b50" y="-0.37" opacity="0.85"/>
<use href="#b18" y="0.33" opacity="0.85"/>
<use href="#b35" y="-5.24" opacity="0.85"/>
<use href="#b10" y="-3.70" opacity="0.85"/>
<use href="#b31" y="3.40" opacity="0.85"/>
<use href="#b31" y="7.46" opacity="0.85"/>
<use href="#b45" y="1.84" opacity="0.85"/>
<use href="#b44" y="-4.36" opacity="0.85"/>
<use href="#b33" y="0.16" opacity="0.85"/>
<use href="#b17" y="-0.31" opacity="0.85"/>
<use href="#b6" y="-6.89" opacity="0.6"/>
<use href="#b21" y="-0.59" opacity="0.85"/>
<use href="#b50" y="0.60" opacity="0.85"/>
<use href="#b36" y="-5.00" opacity="0.85"/>
<use href="#b23" y="-9.39" opacity="0.85"/>
<use href="#b19" y="-0.77" opacity="0.85"/>
<use href="#b33" y="-3.74" opacity="0.85"/>
<use href="#b15" y="0.30" opacity="0.85"/>
<use href="#b28" y="2.96" opacity="0.85"/>
<use href="#b79" y="-0.98" opacity="0.6"/>
<use href="#b3" y="-8.81" opacity="0.85"/>
<use href="#b65" y="-5.68" opacity="0.85"/>
<use href="#b67" y="-1.57" opacity="0.85"/>
<use href="#b55" y="3.11" opacity="0.85"/>
<use href="#b82" y="2.22" opacity="0.6"/>
<use href="#b85" y="2.33" opacity="0.6"/>
<use href="#b48" y="-4.42" opacity="0.85"/>
<use href="#b30" y="-3.66" opacity="0.85"/>
<use href="#b46" y="2.25" opacity="0.85"/>
<use href="#b35" y="-1.19" opacity="0.85"/>
<use href="#b82" y="1.48" opacity="0.6"/>
<use href="#b106" y="-11.39" opacity="0.6"/>
<use href="#b108" y="-12.18" opacity="0.6"/>
<use href="#b53" y="3.38" opacity="0.85"/>
<use href="#b4" y="-1.94" opacity="0.85"/>
<use href="#b30" y="-6.25" opacity="0.85"/>
<use href="#b13" y="-0.72" opacity="0.85"/>
<use href="#b14" y="0.91" opacity="0.85"/>
<use href="#b14" y="-1.39" opacity="0.85"/>
<use href="#b2" y="5.60" opacity="0.85"/>
<use href="#b34" y="-3.50" opacity="0.85"/>
<use href="#b54" y="4.73" opacity="0.85"/>
<use href="#b34" y="-6.20" opacity="0.85"/>
<use href="#b28" y="0.91" opacity="0.6"/>
<use href="#b23" y="-7.00" opacity="0.85"/>
<use href="#b41" y="-6.65" opacity="0.85"/>
<use href="#b15" y="2.59" opacity="0.85"/>
<use href="#b34" y="-4.32" opacity="0.85"/>
<use href="#b32" y="-2.63" opacity="0.85"/>
<use href="#b100" y="2.77" opacity="0.6"/>
<use href="#b26" y="-4.21" opacity="0.85"/>
<use href="#b44" y="-8.49" opacity="0.85"/>
<use href="#b42" y="2.68" opacity="0.6"/>
<use href="#b29" y="-0.04" opacity="0.85"/>
<use href="#b29" y="-1.12" opacity="0.85"/>
<use href="#b16" y="-1.80" opacity="0.85"/>
<use href="#b24" y="-4.13" opacity="0.85"/>
<use href="#b47" y="-7.73" opacity="0.85"/>
<use href="#b10" y="-1.77" opacity="0.85"/>
<use href="#b18" y="2.71" opacity="0.85"/>
<use href="#b26" y="-8.82" opacity="0.85"/>
<use href="#b39" y="-7.10" opacity="0.85"/>
<use href="#b78" y="3.66" opacity="0.6"/>
<use href="#b48" y="-4.55" opacity="0.85"/>
<use href="#b38" y="-7.34" opacity="0.85"/>
<use href="#b25" y="3.43" opacity="0.85"/>
<use href="#b90" y="5.40" opacity="0.6"/>
<use href="#b45" y="2.06" opacity="0.85"/>
<use href="#b44" y="-5.78" opacity="0.85"/>
<use href="#b29" y="-1.01" opacity="0.85"/>
<use href="#b64" y="-3.63" opacity="0.85"/>
<use href="#b7" y="3.29" opacity="0.85"/>
<use href="#b63" y="-0.37" opacity="0.85"/>
<use href="#b24" y="-7.62" opacity="0.85"/>
<use href="#b1" y="1.53" opacity="0.85"/>
<use href="#b18" y="-1.55" opacity="0.85"/>
<use href="#b52" y="-1.61" opacity="0.85"/>
<use href="#b23" y="-3.82" opacity="0.85"/>
<use href="#b32" y="-4.25" opacity="0.85"/>
<use href="#b76" y="5.31" opacity="0.6"/>
<use href="#b3" y="-10.51" opacity="0.85"/>
<use href="#b1" y="1.54" opacity="0.85"/>
<use href="#b40" y="-6.31" opacity="0.85"/>
<use href="#b44" y="-5.87" opacity="0.85"/>
<use href="#b7" y="2.09" opacity="0.85"/>
<use href="#b40" y="-5.81" opacity="0.85"/>
<use href="#b21" y="-0.69" opacity="0.85"/>
<use href="#b79" y="5.93" opacity="0.6"/>
<use href="#b52" y="-0.63" opacity="0.85"/>
<use href="#b107" y="-10.13" opacity="0.6"/>
<use href="#b53" y="3.62" opacity="0.85"/>
<use href="#b35" y="-3.68" opacity="0.85"/>
<use href="#b7" y="0.25" opacity="0.6"/>
<use href="#b42" y="6.14" opacity="0.85"/>
<use href="#b46" y="-0.23" opacity="0.85"/>
<use href="#b55" y="3.10" opacity="0.85"/>
<use href="#b101" y="4.02" opacity="0.6"/>
<use href="#b45" y="-0.10" opacity="0.85"/>
<use href="#b64" y="-4.09" opacity="0.85"/>
<use href="#b31" y="7.18" opacity="0.85"/>
<use href="#b15" y="0.60" opacity="0.85"/>
<use href="#b29" y="-0.41" opacity="0.85"/>
<use href="#b12" y="4.91" opacity="0.6"/>
<use href="#b38" y="-9.33" opacity="0.85"/>
<use href="#b68" y="-9.83" opacity="0.85"/>
<use href="#b0" y="4.76" opacity="0.85"/>
<use href="#b69" y="2.69" opacity="0.85"/>
<use href="#b56" y="-2.48" opacity="0.85"/>
<use href="#b98" y="4.54" opacity="0.6"/>
<use href="#b27" y="-8.31" opacity="0.6"/>
<use href="#b111" y="-8.35" opacity="0.6"/>
<use href="#b31" y="3.94" opacity="0.85"/>
<use href="#b49" y="3.61" opacity="0.85"/>
<use href="#b31" y="0.34" opacity="0.6"/>
<use href="#b34" y="-2.33" opacity="0.85"/>
<use href="#b54" y="-0.14" opacity="0.6"/>
<use href="#b40" y="-2.81" opacity="0.85"/>
<use href="#b79" y="4.07" opacity="0.6"/>
<use href="#b33" y="3.93" opacity="0.85"/>
<use href="#b54" y="4.95" opacity="0.85"/>
<use href="#b109" y="-9.70" opacity="0.6"/>
<use href="#b16" y="-0.73" opacity="0.85"/>
<use href="#b88" y="0.37" opacity="0.6"/>
<use href="#b26" y="-4.78" opacity="0.85"/>
<use href="#b26" y="-4.07" opacity="0.85"/>
<use href="#b18" y="0.99" opacity="0.85"/>
<use href="#b49" y="0.39" opacity="0.6"/>
<use href="#b34" y="-3.00" opacity="0.85"/>
<use href="#b47" y="-4.87" opacity="0.85"/>
<use href="#b11" y="-8.58" opacity="0.85"/>
<use href="#b69" y="4.92" opacity="0.85"/>
<use href="#b59" y="-6.14" opacity="0.85"/>
<use href="#b43" y="-6.46" opacity="0.85"/>
<use href="#b22" y="-0.65" opacity="0.6"/>
<use href="#b23" y="-6.17" opacity="0.85"/>
<use href="#b20" y="0.53" opacity="0.85"/>
<use href="#b32" y="-3.06" opacity="0.85"/>
<use href="#b87" y="2.46" opacity="0.6"/>
<use href="#b64" y="-2.88" opacity="0.85"/>
<use href="#b22" y="2.76" opacity="0.85"/>
<use href="#b51" y="-4.05" opacity="0.85"/>
<use href="#b81" y="3.15" opacity="0.6"/>
<use href="#b70" y="1.67" opacity="0.6"/>
<use href="#b72" y="3.84" opacity="0.6"/>
<use href="#b43" y="-6.42" opacity="0.85"/>
<use href="#b57" y="-2.81" opacity="0.85"/>
<use href="#b85" y="2.69" opacity="0.6"/>
<use href="#b36" y="-4.70" opacity="0.85"/>
<use href="#b44" y="-8.40" opacity="0.85"/>
<use href="#b13" y="1.05" opacity="0.85"/>
<use href="#b24" y="-7.24" opacity="0.6"/>
<use href="#b109" y="-11.28" opacity="0.6"/>
<use href="#b73" y="-9.32" opacity="0.6"/>
<use href="#b59" y="-6.62" opacity="0.85"/>
<use href="#b76" y="-0.38" opacity="0.6"/>
<use href="#b11" y="-8.42" opacity="0.6"/>
<use href="#b31" y="1.33" opacity="0.6"/>
<use href="#b23" y="-4.21" opacity="0.85"/>
<use href="#b10" y="-1.20" opacity="0.85"/>
<use href="#b40" y="-3.77" opacity="0.85"/>
<use href="#b14" y="-2.71" opacity="0.85"/>
<use href="#b66" y="-6.84" opacity="0.85"/>
<use href="#b66" y="-7.35" opacity="0.85"/>
<use href="#b57" y="-2.13" opacity="0.85"/>
<use href="#b12" y="1.87" opacity="0.6"/>
<use href="#b73" y="-8.12" opacity="0.85"/>
<use href="#b13" y="-2.58" opacity="0.85"/>
<use href="#b68" y="-8.47" opacity="0.85"/>
<use href="#b102" y="6.33" opacity="0.6"/>
<use href="#b23" y="-8.07" opacity="0.85"/>
<use href="#b63" y="-3.09" opacity="0.85"/>
<use href="#b91" y="4.41" opacity="0.6"/>
<use href="#b47" y="-6.12" opacity="0.85"/>
<use href="#b63" y="-2.21" opacity="0.85"/>
<use href="#b13" y="-3.41" opacity="0.85"/>
<use href="#b74" y="-10.95" opacity="0.85"/>
<use href="#b44" y="-9.80" opacity="0.85"/>
<use href="#b42" y="5.19" opacity="0.85"/>
<use href="#b96" y="1.35" opacity="0.6"/>
<use href="#b70" y="2.77" opacity="0.6"/>
<use href="#b66" y="-6.93" opacity="0.85"/>
<use href="#b12" y="2.21" opacity="0.6"/>
<use href="#b27" y="-5.15" opacity="0.6"/>
<use href="#b15" y="5.30" opacity="0.85"/>
<use href="#b22" y="1.90" opacity="0.85"/>
<use href="#b65" y="-3.89" opacity="0.85"/>
<use href="#b68" y="-9.07" opacity="0.6"/>
<use href="#b63" y="1.78" opacity="0.85"/>
<use href="#b23" y="-1.81" opacity="0.85"/>
<use href="#b66" y="-7.43" opacity="0.85"/>
<use href="#b45" y="-1.91" opacity="0.85"/>
<use href="#b3" y="-3.50" opacity="0.85"/>
<use href="#b54" y="2.88" opacity="0.6"/>
<use href="#b47" y="-7.90" opacity="0.85"/>
<use href="#b59" y="-4.45" opacity="0.85"/>
<use href="#b6" y="-9.99" opacity="0.85"/>
<use href="#b23" y="-6.71" opacity="0.85"/>
<use href="#b104" y="5.90" opacity="0.6"/>
<use href="#b5" y="1.69" opacity="0.85"/>
<use href="#b63" y="-2.43" opacity="0.85"/>
<use href="#b15" y="3.08" opacity="0.85"/>
<use href="#b2" y="5.07" opacity="0.85"/>
<use href="#b15" y="3.57" opacity="0.85"/>
<use href="#b12" y="5.62" opacity="0.85"/>
<use href="#b39" y="-8.26" opacity="0.6"/>
<use href="#b27" y="-10.69" opacity="0.6"/>
<use href="#b60" y="5.79" opacity="0.85"/>
<use href="#b2" y="2.45" opacity="0.6"/>
<use href="#b38" y="-5.60" opacity="0.85"/>
<use href="#b29" y="-4.95" opacity="0.85"/>
<use href="#b20" y="-0.37" opacity="0.85"/>
<use href="#b54" y="5.28" opacity="0.6"/>
<use href="#b23" y="-9.32" opacity="0.85"/>
<use href="#b15" y="2.56" opacity="0.85"/>
<use href="#b31" y="2.35" opacity="0.6"/>
<use href="#b61" y="-8.18" opacity="0.85"/>
<use href="#b32" y="-6.26" opacity="0.85"/>
<use href="#b36" y="-0.72" opacity="0.6"/>
<use href="#b18" y="-2.22" opacity="0.85"/>
<use href="#b70" y="3.29" opacity="0.6"/>
<use href="#b36" y="-5.59" opacity="0.6"/>
<use href="#b37" y="-2.99" opacity="0.85"/>
<use href="#b69" y="2.53" opacity="0.85"/>
<use href="#b38" y="-9.66" opacity="0.85"/>
<use href="#b28" y="3.10" opacity="0.85"/>
<use href="#b71" y="3.60" opacity="0.6"/>
<use href="#b33" y="-0.14" opacity="0.85"/>
<use href="#b0" y="3.08" opacity="0.85"/>
<use href="#b45" y="1.59" opacity="0.85"/>
<use href="#b34" y="-2.34" opacity="0.85"/>
<use href="#b92" y="1.74" opacity="0.6"/>
<use href="#b51" y="-4.90" opacity="0.85"/>
<use href="#b40" y="-4.77" opacity="0.85"/>
<use href="#b53" y="0.80" opacity="0.85"/>
<use href="#b34" y="-3.13" opacity="0.85"/>
<use href="#b24" y="-8.56" opacity="0.85"/>
<use href="#b60" y="1.06" opacity="0.85"/>
<use href="#b65" y="-2.71" opacity="0.85"/>
<use href="#b67" y="-0.17" opacity="0.85"/>
<use href="#b69" y="2.41" opacity="0.85"/>
<use href="#b46" y="0.96" opacity="0.85"/>
<use href="#b24" y="-4.63" opacity="0.6"/>
<use href="#b11" y="-5.61" opacity="0.6"/>
<use href="#b45" y="-2.32" opacity="0.85"/>
<use href="#b72" y="0.98" opacity="0.6"/>
<use href="#b46" y="1.13" opacity="0.85"/>
<use href="#b24" y="-5.05" opacity="0.6"/>
<use href="#b7" y="4.50" opacity="0.85"/>
<use href="#b0" y="-1.10" opacity="0.6"/>
<use href="#b13" y="-1.38" opacity="0.85"/>
<use href="#b36" y="-2.91" opacity="0.85"/>
<use href="#b46" y="-0.26" opacity="0.85"/>
<use href="#b24" y="-6.05" opacity="0.85"/>
<use href="#b9" y="-8.22" opacity="0.85"/>
<use href="#b8" y="1.08" opacity="0.85"/>
<use href="#b9" y="-8.25" opacity="0.85"/>
<use href="#b56" y="-0.44" opacity="0.85"/>
<use href="#b44" y="-9.57" opacity="0.85"/>
<use href="#b59" y="-4.91" opacity="0.85"/>
<use href="#b49" y="5.46" opacity="0.85"/>
<use href="#b5" y="-0.99" opacity="0.85"/>
<use href="#b32" y="-6.20" opacity="0.85"/>
<use href="#b62" y="4.58" opacity="0.85"/>
<use href="#b9" y="-8.41" opacity="0.85"/>
<use href="#b6" y="-9.59" opacity="0.85"/>
<use href="#b44" y="-6.41" opacity="0.85"/>
<use href="#b11" y="-8.66" opacity="0.85"/>
<use href="#b22" y="4.95" opacity="0.85"/>
<use href="#b31" y="1.29" opacity="0.6"/>
<use href="#b35" y="-4.18" opacity="0.85"/>
<use href="#b25" y="0.76" opacity="0.85"/>
<use href="#b35" y="-2.99" opacity="0.85"/>
<use href="#b42" y="1.40" opacity="0.6"/>
<use href="#b61" y="-5.33" opacity="0.85"/>
<use href="#b14" y="-0.18" opacity="0.85"/>
<use href="#b42" y="4.25" opacity="0.85"/>
<use href="#b39" y="-7.77" opacity="0.6"/>
<use href="#b32" y="-6.70" opacity="0.85"/>
<use href="#b17" y="-1.17" opacity="0.85"/>
<use href="#b74" y="-13.85" opacity="0.85"/>
<use href="#b17" y="-2.38" opacity="0.85"/>
<use href="#b23" y="-6.12" opacity="0.85"/>
<use href="#b41" y="-7.60" opacity="0.85"/>
<use href="#b32" y="-4.71" opacity="0.85"/>
<use href="#b5" y="-0.39" opacity="0.85"/>
<use href="#b67" y="-3.67" opacity="0.85"/>
<use href="#b72" y="7.30" opacity="0.85"/>
<use href="#b106" y="-10.74" opacity="0.6"/>
<use href="#b28" y="0.87" opacity="0.6"/>
<use href="#b41" y="-6.85" opacity="0.85"/>
<use href="#b33" y="-2.27" opacity="0.85"/>
<use href="#b41" y="-8.81" opacity="0.85"/>
<use href="#b61" y="-8.12" opacity="0.6"/>
<use href="#b16" y="-4.30" opacity="0.85"/>
<use href="#b23" y="-7.18" opacity="0.85"/>
<use href="#b37" y="2.98" opacity="0.85"/>
<use href="#b1" y="1.44" opacity="0.85"/>
<use href="#b65" y="-3.93" opacity="0.85"/>
<use href="#b15" y="-1.91" opacity="0.85"/>
<use href="#b45" y="-0.28" opacity="0.85"/>
<use href="#b15" y="1.35" opacity="0.6"/>
<use href="#b25" y="3.12" opacity="0.85"/>
<use href="#b20" y="2.78" opacity="0.85"/>
<use href="#b28" y="3.83" opacity="0.85"/>
<use href="#b109" y="-10.06" opacity="0.6"/>
<use href="#b4" y="-5.19" opacity="0.85"/>
<use href="#b44" y="-6.79" opacity="0.85"/>
<use href="#b49" y="0.00" opacity="0.6"/>
<use href="#b60" y="5.54" opacity="0.85"/>
<use href="#b9" y="-7.29" opacity="0.85"/>
<use href="#b48" y="-4.46" opacity="0.85"/>
<use href="#b55" y="-6.54" opacity="0.85"/>
<use href="#b50" y="-0.12" opacity="0.85"/>
<use href="#b25" y="3.98" opacity="0.85"/>
<use href="#b19" y="-1.76" opacity="0.85"/>
<use href="#b32" y="-0.42" opacity="0.85"/>
<use href="#b44" y="-6.24" opacity="0.85"/>
<use href="#b47" y="-7.02" opacity="0.85"/>
<use href="#b59" y="-5.64" opacity="0.85"/>
<use href="#b33" y="-1.48" opacity="0.85"/>
<use href="#b36" y="-10.09" opacity="0.85"/>
<use href="#b44" y="-9.17" opacity="0.85"/>
<use href="#b16" y="-2.02" opacity="0.85"/>
<use href="#b69" y="3.72" opacity="0.85"/>
<use href="#b92" y="2.28" opacity="0.6"/>
<use href="#b71" y="5.39" opacity="0.6"/>
<use href="#b3" y="-10.08" opacity="0.85"/>
<use href="#b45" y="-4.51" opacity="0.85"/>
<use href="#b13" y="-2.62" opacity="0.85"/>
<use href="#b107" y="-8.27" opacity="0.6"/>
<use href="#b34" y="-2.86" opacity="0.85"/>
<use href="#b29" y="-4.10" opacity="0.85"/>
<use href="#b40" y="-1.48" opacity="0.85"/>
<use href="#b51" y="-9.14" opacity="0.85"/>
<use href="#b112" y="-9.37" opacity="0.6"/>
<use href="#b113" y="-10.50" opacity="0.6"/>
<use href="#b18" y="-0.99" opacity="0.85"/>
<use href="#b17" y="-4.86" opacity="0.85"/>
<use href="#b56" y="-5.45" opacity="0.85"/>
<use href="#b67" y="0.23" opacity="0.85"/>
<use href="#b78" y="5.63" opacity="0.6"/>
<use href="#b58" y="-0.77" opacity="0.85"/>
<use href="#b16" y="-1.97" opacity="0.85"/>
<use href="#b42" y="4.95" opacity="0.85"/>
<use href="#b51" y="-6.80" opacity="0.85"/>
<use href="#b49" y="2.97" opacity="0.85"/>
<use href="#b13" y="-2.29" opacity="0.85"/>
<use href="#b6" y="-7.75" opacity="0.6"/>
<use href="#b23" y="-8.97" opacity="0.85"/>
<use href="#b21" y="-1.33" opacity="0.85"/>
<use href="#b42" y="5.87" opacity="0.85"/>
<use href="#b16" y="-0.55" opacity="0.85"/>
<use href="#b1" y="3.06" opacity="0.85"/>
<use href="#b14" y="2.34" opacity="0.85"/>
<use href="#b96" y="3.78" opacity="0.6"/>
<use href="#b50" y="-0.01" opacity="0.85"/>
<use href="#b38" y="-6.51" opacity="0.85"/>
<use href="#b66" y="-4.51" opacity="0.85"/>
<use href="#b23" y="-3.06" opacity="0.85"/>
<use href="#b3" y="-6.61" opacity="0.85"/>
<use href="#b68" y="-6.04" opacity="0.6"/>
<use href="#b89" y="3.74" opacity="0.6"/>
<use href="#b15" y="-0.71" opacity="0.85"/>
<use href="#b4" y="-5.89" opacity="0.85"/>
<use href="#b65" y="-3.88" opacity="0.85"/>
<use href="#b33" y="-2.76" opacity="0.85"/>
<use href="#b63" y="-3.12" opacity="0.85"/>
<use href="#b67" y="1.54" opacity="0.85"/>
<use href="#b68" y="-7.03" opacity="0.6"/>
<use href="#b35" y="-1.87" opacity="0.85"/>
<use href="#b36" y="-5.56" opacity="0.85"/>
<use href="#b9" y="-8.86" opacity="0.85"/>
<use href="#b38" y="-6.68" opacity="0.85"/>
<use href="#b3" y="-8.35" opacity="0.85"/>
<use href="#b11" y="-6.08" opacity="0.6"/>
<use href="#b26" y="-2.76" opacity="0.85"/>
<use href="#b81" y="6.12" opacity="0.6"/>
<use href="#b4" y="-6.81" opacity="0.85"/>
<use href="#b43" y="-6.28" opacity="0.85"/>
<use href="#b36" y="-7.18" opacity="0.85"/>
<use href="#b38" y="-3.67" opacity="0.85"/>
<use href="#b13" y="-1.30" opacity="0.85"/>
<use href="#b84" y="2.18" opacity="0.6"/>
<use href="#b26" y="-3.72" opacity="0.85"/>
<use href="#b36" y="-5.73" opacity="0.85"/>
<use href="#b41" y="-9.63" opacity="0.85"/>
<use href="#b86" y="5.75" opacity="0.6"/>
<use href="#b37" y="-0.12" opacity="0.85"/>
<use href="#b24" y="-8.22" opacity="0.85"/>
<use href="#b4" y="-0.23" opacity="0.85"/>
<use href="#b3" y="-8.11" opacity="0.85"/>
<use href="#b16" y="-0.55" opacity="0.85"/>
<use href="#b48" y="-3.25" opacity="0.85"/>
<use href="#b62" y="5.48" opacity="0.85"/>
<use href="#b38" y="-1.43" opacity="0.85"/>
<use href="#b49" y="-0.37" opacity="0.6"/>
<use href="#b32" y="-4.58" opacity="0.85"/>
<use href="#b64" y="-5.18" opacity="0.85"/>
<use href="#b30" y="-5.38" opacity="0.85"/>
<use href="#b43" y="-4.53" opacity="0.85"/>
<use href="#b59" y="-3.73" opacity="0.85"/>
<use href="#b87" y="4.33" opacity="0.6"/>
<use href="#b64" y="-7.43" opacity="0.85"/>
<use href="#b73" y="-5.86" opacity="0.6"/>
<use href="#b44" y="-4.58" opacity="0.85"/>
<use href="#b109" y="-10.69" opacity="0.6"/>
<use href="#b17" y="-2.81" opacity="0.85"/>
<use href="#b50" y="-0.88" opacity="0.85"/>
<use href="#b36" y="-6.08" opacity="0.85"/>
<use href="#b20" y="3.08" opacity="0.85"/>
<use href="#b3" y="-6.87" opacity="0.6"/>
<use href="#b23" y="-3.22" opacity="0.85"/>
<use href="#b51" y="-4.45" opacity="0.6"/>
<use href="#b54" y="2.80" opacity="0.6"/>
<use href="#b41" y="-10.07" opacity="0.85"/>
<use href="#b18" y="-2.78" opacity="0.85"/>
<use href="#b62" y="6.55" opacity="0.85"/>
<use href="#b55" y="1.21" opacity="0.85"/>
<use href="#b53" y="2.52" opacity="0.85"/>
<use href="#b9" y="-7.92" opacity="0.85"/>
<use href="#b8" y="-3.47" opacity="0.85"/>
<use href="#b55" y="1.66" opacity="0.85"/>
<use href="#b51" y="-5.71" opacity="0.6"/>
<use href="#b39" y="-10.44" opacity="0.85"/>
<use href="#b59" y="-6.95" opacity="0.85"/>
<use href="#b23" y="-6.19" opacity="0.85"/>
<use href="#b8" y="-4.00" opacity="0.85"/>
<use href="#b15" y="0.28" opacity="0.85"/>
<use href="#b91" y="5.08" opacity="0.6"/>
<use href="#b49" y="5.41" opacity="0.85"/>
<use href="#b81" y="4.70" opacity="0.6"/>
<use href="#b47" y="-9.90" opacity="0.85"/>
<use href="#b0" y="0.77" opacity="0.6"/>
<use href="#b64" y="-4.59" opacity="0.85"/>
<use href="#b25" y="3.89" opacity="0.85"/>
<use href="#b59" y="-4.71" opacity="0.85"/>
<use href="#b19" y="-4.48" opacity="0.85"/>
<use href="#b69" y="2.69" opacity="0.85"/>
<use href="#b82" y="3.77" opacity="0.6"/>
<use href="#b41" y="-3.53" opacity="0.85"/>
<use href="#b25" y="6.23" opacity="0.85"/>
<use href="#b106" y="-6.99" opacity="0.6"/>
<use href="#b45" y="-5.59" opacity="0.85"/>
<use href="#b48" y="-1.30" opacity="0.85"/>
<use href="#b60" y="1.59" opacity="0.6"/>
<use href="#b32" y="-3.71" opacity="0.85"/>
<use href="#b17" y="-3.15" opacity="0.85"/>
<use href="#b24" y="-7.83" opacity="0.85"/>
<use href="#b14" y="-0.17" opacity="0.85"/>
<use href="#b76" y="0.30" opacity="0.6"/>
<use href="#b16" y="-1.16" opacity="0.85"/>
<use href="#b38" y="-8.00" opacity="0.85"/>
<use href="#b23" y="-6.51" opacity="0.85"/>
<use href="#b38" y="-5.78" opacity="0.85"/>
<use href="#b10" y="-0.15" opacity="0.85"/>
<use href="#b17" y="-5.72" opacity="0.85"/>
<use href="#b20" y="-0.84" opacity="0.85"/>
<use href="#b96" y="3.72" opacity="0.6"/>
<use href="#b49" y="4.52" opacity="0.85"/>
<use href="#b42" y="2.75" opacity="0.6"/>
<use href="#b65" y="-4.60" opacity="0.85"/>
<use href="#b72" y="2.74" opacity="0.6"/>
<use href="#b33" y="-1.92" opacity="0.85"/>
<use href="#b36" y="-8.20" opacity="0.85"/>
<use href="#b43" y="-6.27" opacity="0.85"/>
<use href="#b25" y="4.97" opacity="0.85"/>
<use href="#b113" y="-11.86" opacity="0.6"/>
<use href="#b0" y="4.04" opacity="0.6"/>
<use href="#b23" y="-8.60" opacity="0.85"/>
<use href="#b61" y="-6.45" opacity="0.6"/>
<use href="#b85" y="2.33" opacity="0.6"/>
<use href="#b96" y="3.48" opacity="0.6"/>
<use href="#b74" y="-7.37" opacity="0.6"/>
<use href="#b32" y="-2.79" opacity="0.85"/>
<use href="#b73" y="-6.93" opacity="0.6"/>
<use href="#b60" y="3.45" opacity="0.6"/>
<use href="#b58" y="0.78" opacity="0.85"/>
<use href="#b43" y="-3.96" opacity="0.85"/>
<use href="#b51" y="-4.46" opacity="0.6"/>
<use href="#b84" y="4.23" opacity="0.6"/>
<use href="#b32" y="-1.84" opacity="0.85"/>
<use href="#b65" y="-1.01" opacity="0.85"/>
<use href="#b4" y="-5.73" opacity="0.85"/>
<use href="#b78" y="4.36" opacity="0.6"/>
<use href="#b11" y="-6.54" opacity="0.6"/>
<use href="#b56" y="-1.01" opacity="0.85"/>
<use href="#b18" y="-0.11" opacity="0.85"/>
<use href="#b70" y="4.70" opacity="0.85"/>
<use href="#b50" y="-4.01" opacity="0.85"/>
<use href="#b27" y="-8.26" opacity="0.85"/>
<use href="#b97" y="5.74" opacity="0.6"/>
<use href="#b23" y="-6.98" opacity="0.85"/>
<use href="#b76" y="4.24" opacity="0.6"/>
<use href="#b29" y="-3.98" opacity="0.85"/>
<use href="#b41" y="-5.99" opacity="0.6"/>
<use href="#b41" y="-7.65" opacity="0.85"/>
<use href="#b46" y="0.72" opacity="0.85"/>
<use href="#b43" y="-4.18" opacity="0.85"/>
<use href="#b38" y="-7.07" opacity="0.85"/>
<use href="#b56" y="-2.34" opacity="0.85"/>
<use href="#b8" y="-1.99" opacity="0.85"/>
<use href="#b106" y="-9.38" opacity="0.6"/>
<use href="#b18" y="-4.55" opacity="0.85"/>
<use href="#b10" y="-4.39" opacity="0.85"/>
<use href="#b0" y="2.54" opacity="0.85"/>
<use href="#b55" y="0.67" opacity="0.85"/>
<use href="#b3" y="-9.39" opacity="0.85"/>
<use href="#b45" y="0.33" opacity="0.85"/>
<use href="#b34" y="-7.40" opacity="0.85"/>
<use href="#b26" y="-3.40" opacity="0.85"/>
<use href="#b29" y="-0.94" opacity="0.85"/>
<use href="#b85" y="2.42" opacity="0.6"/>
<use href="#b9" y="-5.29" opacity="0.85"/>
<use href="#b30" y="-4.51" opacity="0.85"/>
<use href="#b59" y="-4.95" opacity="0.85"/>
<use href="#b85" y="5.23" opacity="0.6"/>
<use href="#b61" y="-9.13" opacity="0.85"/>
<use href="#b107" y="-9.08" opacity="0.6"/>
<use href="#b33" y="-1.79" opacity="0.85"/>
<use href="#b45" y="-0.06" opacity="0.85"/>
<use href="#b90" y="3.31" opacity="0.6"/>
<use href="#b47" y="-4.34" opacity="0.85"/>
<use href="#b59" y="-4.58" opacity="0.85"/>
<use href="#b3" y="-9.18" opacity="0.85"/>
<use href="#b41" y="-2.85" opacity="0.6"/>
<use href="#b94" y="2.17" opacity="0.6"/>
<use href="#b74" y="-6.82" opacity="0.6"/>
<use href="#b9" y="-6.64" opacity="0.85"/>
<use href="#b51" y="-7.54" opacity="0.85"/>
<use href="#b82" y="4.85" opacity="0.6"/>
<use href="#b32" y="-6.93" opacity="0.85"/>
<use href="#b10" y="0.32" opacity="0.85"/>
<use href="#b37" y="0.43" opacity="0.85"/>
<use href="#b41" y="-7.17" opacity="0.6"/>
<use href="#b19" y="-2.75" opacity="0.85"/>
<use href="#b0" y="2.38" opacity="0.6"/>
<use href="#b77" y="4.62" opacity="0.6"/>
<use href="#b16" y="-2.85" opacity="0.85"/>
<use href="#b22" y="3.57" opacity="0.85"/>
<use href="#b44" y="-7.94" opacity="0.85"/>
<use href="#b70" y="2.77" opacity="0.6"/>
<use href="#b24" y="-7.47" opacity="0.85"/>
<use href="#b12" y="6.40" opacity="0.85"/>
<use href="#b62" y="3.00" opacity="0.85"/>
<use href="#b65" y="-5.60" opacity="0.85"/>
<use href="#b18" y="2.41" opacity="0.85"/>
<use href="#b25" y="2.51" opacity="0.85"/>
<use href="#b88" y="1.98" opacity="0.6"/>
<use href="#b20" y="1.73" opacity="0.85"/>
<use href="#b92" y="3.14" opacity="0.6"/>
<use href="#b41" y="-5.28" opacity="0.85"/>
<use href="#b51" y="-6.39" opacity="0.85"/>
<use href="#b93" y="7.09" opacity="0.6"/>
<use href="#b60" y="5.35" opacity="0.85"/>
<use href="#b19" y="-6.69" opacity="0.85"/>
<use href="#b8" y="-1.28" opacity="0.85"/>
<use href="#b51" y="-6.23" opacity="0.6"/>
<use href="#b35" y="-1.26" opacity="0.85"/>
<use href="#b64" y="-3.94" opacity="0.85"/>
<use href="#b79" y="3.90" opacity="0.6"/>
<use href="#b31" y="6.13" opacity="0.85"/>
<use href="#b16" y="-5.07" opacity="0.85"/>
<use href="#b46" y="3.47" opacity="0.85"/>
<use href="#b48" y="-3.09" opacity="0.85"/>
<use href="#b54" y="3.03" opacity="0.6"/>
<use href="#b15" y="0.68" opacity="0.85"/>
<use href="#b62" y="2.15" opacity="0.85"/>
<use href="#b97" y="6.78" opacity="0.6"/>
<use href="#b43" y="-5.91" opacity="0.85"/>
<use href="#b8" y="-2.72" opacity="0.85"/>
<use href="#b54" y="0.30" opacity="0.6"/>
<use href="#b22" y="3.08" opacity="0.6"/>
<use href="#b52" y="-0.37" opacity="0.85"/>
<use href="#b87" y="7.97" opacity="0.6"/>
<use href="#b111" y="-10.66" opacity="0.6"/>
<use href="#b103" y="4.11" opacity="0.6"/>
<use href="#b24" y="-5.34" opacity="0.85"/>
<use href="#b12" y="5.58" opacity="0.85"/>
<use href="#b24" y="-10.83" opacity="0.85"/>
<use href="#b18" y="-0.98" opacity="0.85"/>
<use href="#b31" y="6.96" opacity="0.85"/>
<use href="#b44" y="-7.70" opacity="0.85"/>
<use href="#b26" y="-4.43" opacity="0.85"/>
<use href="#b29" y="-1.03" opacity="0.85"/>
<use href="#b3" y="-5.05" opacity="0.6"/>
<use href="#b23" y="-5.05" opacity="0.85"/>
<use href="#b75" y="-9.02" opacity="0.6"/>
<use href="#b27" y="-9.35" opacity="0.6"/>
<use href="#b50" y="2.14" opacity="0.85"/>
<use href="#b79" y="3.49" opacity="0.6"/>
<use href="#b6" y="-9.77" opacity="0.85"/>
<use href="#b14" y="-1.96" opacity="0.85"/>
<use href="#b37" y="0.65" opacity="0.85"/>
<use href="#b51" y="-6.75" opacity="0.85"/>
<use href="#b63" y="-0.13" opacity="0.85"/>
<use href="#b26" y="-3.38" opacity="0.85"/>
<use href="#b15" y="4.49" opacity="0.85"/>
<use href="#b29" y="-3.73" opacity="0.85"/>
<use href="#b46" y="1.96" opacity="0.85"/>
<use href="#b47" y="-4.86" opacity="0.85"/>
<use href="#b9" y="-4.44" opacity="0.85"/>
<use href="#b22" y="2.16" opacity="0.6"/>
<use href="#b43" y="-5.75" opacity="0.85"/>
<use href="#b52" y="0.01" opacity="0.85"/>
<use href="#b47" y="-4.94" opacity="0.85"/>
<use href="#b100" y="5.22" opacity="0.6"/>
<use href="#b35" y="-3.60" opacity="0.85"/>
<use href="#b59" y="-3.85" opacity="0.85"/>
<use href="#b88" y="4.73" opacity="0.6"/>
<use href="#b107" y="-7.64" opacity="0.6"/>
<use href="#b56" y="-2.57" opacity="0.85"/>
<use href="#b11" y="-10.78" opacity="0.85"/>
<use href="#b10" y="0.45" opacity="0.85"/>
<use href="#b49" y="3.94" opacity="0.85"/>
<use href="#b82" y="1.78" opacity="0.6"/>
<use href="#b73" y="-11.14" opacity="0.85"/>
<use href="#b23" y="-3.51" opacity="0.85"/>
<use href="#b82" y="2.25" opacity="0.6"/>
<use href="#b19" y="-2.48" opacity="0.85"/>
<use href="#b20" y="2.10" opacity="0.85"/>
<use href="#b30" y="-2.22" opacity="0.85"/>
<use href="#b8" y="-4.99" opacity="0.85"/>
<use href="#b106" y="-9.76" opacity="0.6"/>
<use href="#b5" y="-1.25" opacity="0.85"/>
<use href="#b105" y="-1.64" opacity="0.6"/>
<use href="#b20" y="-1.95" opacity="0.85"/>
<use href="#b24" y="-5.51" opacity="0.6"/>
<use href="#b19" y="-3.93" opacity="0.85"/>
<use href="#b16" y="-2.54" opacity="0.85"/>
<use href="#b15" y="2.45" opacity="0.85"/>
<use href="#b48" y="-5.40" opacity="0.85"/>
<use href="#b110" y="-9.92" opacity="0.6"/>
<use href="#b22" y="3.30" opacity="0.85"/>
<use href="#b63" y="-2.32" opacity="0.85"/>
<use href="#b15" y="2.59" opacity="0.85"/>
<use href="#b23" y="-7.72" opacity="0.85"/>
<use href="#b71" y="6.56" opacity="0.85"/>
<use href="#b69" y="2.24" opacity="0.85"/>
<use href="#b54" y="6.07" opacity="0.85"/>
<use href="#b31" y="0.16" opacity="0.6"/>
<use href="#b7" y="4.09" opacity="0.85"/>
<use href="#b3" y="-8.70" opacity="0.85"/>
<use href="#b99" y="5.96" opacity="0.6"/>
<use href="#b9" y="-7.26" opacity="0.85"/>
<use href="#b45" y="0.38" opacity="0.85"/>
<use href="#b56" y="-2.32" opacity="0.85"/>
<use href="#b8" y="-1.93" opacity="0.85"/>
<use href="#b41" y="-6.23" opacity="0.85"/>
<use href="#b27" y="-11.97" opacity="0.85"/>
<use href="#b106" y="-8.50" opacity="0.6"/>
<use href="#b35" y="-4.46" opacity="0.85"/>
<use href="#b36" y="-4.51" opacity="0.85"/>
<use href="#b107" y="-10.19" opacity="0.6"/>
<use href="#b37" y="0.66" opacity="0.85"/>
<use href="#b55" y="0.28" opacity="0.85"/>
<use href="#b56" y="-4.57" opacity="0.85"/>
<use href="#b11" y="-8.00" opacity="0.85"/>
<use href="#b57" y="-1.35" opacity="0.85"/>
<use href="#b21" y="-3.24" opacity="0.85"/>
<use href="#b9" y="-7.89" opacity="0.6"/>
<use href="#b70" y="2.16" opacity="0.6"/>
<use href="#b32" y="-0.89" opacity="0.85"/>
<use href="#b59" y="-5.90" opacity="0.85"/>
<use href="#b54" y="5.38" opacity="0.85"/>
<use href="#b93" y="4.74" opacity="0.6"/>
<use href="#b21" y="0.84" opacity="0.85"/>
<use href="#b32" y="-3.93" opacity="0.85"/>
<use href="#b25" y="1.09" opacity="0.85"/>
<use href="#b84" y="3.98" opacity="0.6"/>
<use href="#b107" y="-9.73" opacity="0.6"/>
<use href="#b108" y="-12.64" opacity="0.6"/>
<use href="#b36" y="-3.84" opacity="0.85"/>
<use href="#b4" y="-2.22" opacity="0.85"/>
<use href="#b24" y="-7.19" opacity="0.85"/>
<use href="#b22" y="4.48" opacity="0.6"/>
<use href="#b50" y="0.21" opacity="0.85"/>
<use href="#b47" y="-1.74" opacity="0.6"/>
<use href="#b61" y="-9.60" opacity="0.85"/>
<use href="#b14" y="0.45" opacity="0.85"/>
<use href="#b49" y="3.99" opacity="0.85"/>
<use href="#b19" y="-5.74" opacity="0.85"/>
<use href="#b38" y="-2.60" opacity="0.85"/>
<use href="#b3" y="-7.47" opacity="0.6"/>
<use href="#b80" y="4.01" opacity="0.6"/>
<use href="#b38" y="-5.00" opacity="0.85"/>
<use href="#b24" y="-7.55" opacity="0.85"/>
<use href="#b5" y="-3.72" opacity="0.85"/>
<use href="#b30" y="-8.32" opacity="0.85"/>
<use href="#b108" y="-10.69" opacity="0.6"/>
<use href="#b24" y="-7.14" opacity="0.85"/>
<use href="#b20" y="0.81" opacity="0.85"/>
<use href="#b51" y="-9.91" opacity="0.85"/>
<use href="#b58" y="-1.55" opacity="0.85"/>
<use href="#b39" y="-8.30" opacity="0.6"/>
<use href="#b8" y="-3.49" opacity="0.85"/>
<use href="#b15" y="-0.15" opacity="0.6"/>
<use href="#b21" y="0.01" opacity="0.85"/>
<use href="#b70" y="3.79" opacity="0.6"/>
<use href="#b13" y="0.87" opacity="0.85"/>
<use href="#b31" y="1.66" opacity="0.85"/>
<use href="#b9" y="-9.91" opacity="0.85"/>
<use href="#b44" y="-8.57" opacity="0.85"/>
<use href="#b106" y="-10.93" opacity="0.6"/>
<use href="#b44" y="-6.80" opacity="0.85"/>
<use href="#b9" y="-7.06" opacity="0.85"/>
<use href="#b56" y="-5.01" opacity="0.85"/>
<use href="#b41" y="-7.55" opacity="0.85"/>
<use href="#b48" y="-4.49" opacity="0.85"/>
<use href="#b66" y="-8.32" opacity="0.85"/>
<use href="#b12" y="-0.18" opacity="0.6"/>
<use href="#b58" y="4.54" opacity="0.85"/>
<use href="#b9" y="-5.82" opacity="0.85"/>
<use href="#b54" y="2.89" opacity="0.6"/>
<use href="#b102" y="1.64" opacity="0.6"/>
<use href="#b21" y="-3.78" opacity="0.85"/>
<use href="#b75" y="-8.26" opacity="0.6"/>
<use href="#b109" y="-10.20" opacity="0.6"/>
<use href="#b58" y="2.16" opacity="0.85"/>
<use href="#b112" y="-11.06" opacity="0.6"/>
<use href="#b0" y="2.25" opacity="0.6"/>
<use href="#b51" y="-8.89" opacity="0.85"/>
<use href="#b48" y="-7.18" opacity="0.85"/>
<use href="#b48" y="-2.99" opacity="0.85"/>
<use href="#b8" y="-4.12" opacity="0.85"/>
<use href="#b52" y="-2.90" opacity="0.85"/>
<use href="#b36" y="-8.84" opacity="0.85"/>
<use href="#b8" y="-3.71" opacity="0.85"/>
<use href="#b23" y="-5.01" opacity="0.85"/>
<use href="#b14" y="-0.05" opacity="0.85"/>
<use href="#b42" y="5.90" opacity="0.85"/>
<use href="#b80" y="4.18" opacity="0.6"/>
<use href="#b34" y="-0.52" opacity="0.85"/>
<use href="#b44" y="-5.73" opacity="0.85"/>
<use href="#b30" y="-4.46" opacity="0.85"/>
<use href="#b0" y="3.60" opacity="0.85"/>
<use href="#b44" y="-3.87" opacity="0.85"/>
<use href="#b23" y="-8.79" opacity="0.85"/>
<use href="#b15" y="-0.72" opacity="0.85"/>
<use href="#b109" y="-10.90" opacity="0.6"/>
<use href="#b110" y="-11.54" opacity="0.6"/>
<use href="#b13" y="1.29" opacity="0.85"/>
<use href="#b55" y="-0.78" opacity="0.85"/>
<use href="#b44" y="-7.99" opacity="0.85"/>
<use href="#b31" y="3.33" opacity="0.85"/>
<use href="#b44" y="-3.72" opacity="0.6"/>
<use href="#b0" y="3.54" opacity="0.6"/>
<use href="#b41" y="-5.40" opacity="0.6"/>
<use href="#b7" y="0.94" opacity="0.85"/>
<use href="#b87" y="3.40" opacity="0.6"/>
<use href="#b50" y="-2.88" opacity="0.85"/>
<use href="#b75" y="-9.11" opacity="0.6"/>
<use href="#b92" y="3.31" opacity="0.6"/>
<use href="#b63" y="0.56" opacity="0.85"/>
<use href="#b15" y="4.63" opacity="0.85"/>
<use href="#b32" y="-2.43" opacity="0.85"/>
<use href="#b84" y="2.23" opacity="0.6"/>
<use href="#b27" y="-8.87" opacity="0.6"/>
<use href="#b0" y="4.69" opacity="0.6"/>
<use href="#b62" y="1.27" opacity="0.85"/>
<use href="#b71" y="4.35" opacity="0.6"/>
<use href="#b91" y="2.47" opacity="0.6"/>
<use href="#b64" y="-7.73" opacity="0.85"/>
<use href="#b50" y="2.93" opacity="0.85"/>
<use href="#b41" y="-5.46" opacity="0.6"/>
<use href="#b51" y="-5.72" opacity="0.6"/>
<use href="#b17" y="-4.65" opacity="0.85"/>
<use href="#b51" y="-8.51" opacity="0.85"/>
<use href="#b65" y="-0.34" opacity="0.85"/>
<use href="#b58" y="0.66" opacity="0.85"/>
<use href="#b43" y="-2.60" opacity="0.85"/>
<use href="#b12" y="4.24" opacity="0.6"/>
<use href="#b1" y="2.67" opacity="0.85"/>
<use href="#b106" y="-10.29" opacity="0.6"/>
<use href="#b63" y="-1.52" opacity="0.85"/>
<use href="#b34" y="-3.39" opacity="0.85"/>
<use href="#b53" y="-0.11" opacity="0.85"/>
<use href="#b59" y="-5.51" opacity="0.85"/>
<use href="#b58" y="2.20" opacity="0.85"/>
<use href="#b19" y="-5.14" opacity="0.85"/>
<use href="#b16" y="-1.73" opacity="0.85"/>
<use href="#b86" y="3.20" opacity="0.6"/>
<use href="#b0" y="1.42" opacity="0.6"/>
<use href="#b29" y="-1.89" opacity="0.85"/>
<use href="#b43" y="-0.97" opacity="0.85"/>
<use href="#b26" y="-5.44" opacity="0.85"/>
<use href="#b31" y="2.52" opacity="0.85"/>
<use href="#b51" y="-4.45" opacity="0.85"/>
<use href="#b94" y="6.75" opacity="0.6"/>
<use href="#b15" y="0.85" opacity="0.85"/>
<use href="#b21" y="-2.54" opacity="0.85"/>
<use href="#b15" y="2.58" opacity="0.85"/>
<use href="#b59" y="-4.40" opacity="0.85"/>
<use href="#b7" y="7.14" opacity="0.85"/>
<use href="#b68" y="-7.01" opacity="0.6"/>
<use href="#b49" y="2.39" opacity="0.85"/>
<use href="#b23" y="-9.32" opacity="0.85"/>
<use href="#b24" y="-6.77" opacity="0.6"/>
<use href="#b78" y="0.55" opacity="0.6"/>
<use href="#b21" y="-0.00" opacity="0.85"/>
<use href="#b67" y="1.88" opacity="0.85"/>
<use href="#b68" y="-6.41" opacity="0.6"/>
<use href="#b69" y="1.19" opacity="0.85"/>
<use href="#b38" y="-7.19" opacity="0.85"/>
<use href="#b33" y="-3.88" opacity="0.85"/>
<use href="#b3" y="-4.41" opacity="0.6"/>
<use href="#b4" y="-5.76" opacity="0.85"/>
<use href="#b64" y="-6.89" opacity="0.85"/>
<use href="#b26" y="-3.78" opacity="0.85"/>
<use href="#b33" y="-2.42" opacity="0.85"/>
<use href="#b1" y="-0.43" opacity="0.85"/>
<use href="#b52" y="-2.27" opacity="0.85"/>
<use href="#b32" y="-2.78" opacity="0.85"/>
<use href="#b14" y="4.44" opacity="0.85"/>
<use href="#b58" y="2.45" opacity="0.85"/>
<use href="#b51" y="-7.38" opacity="0.85"/>
<use href="#b41" y="-10.18" opacity="0.85"/>
<use href="#b28" y="0.59" opacity="0.6"/>
<use href="#b75" y="-9.22" opacity="0.6"/>
<use href="#b12" y="3.76" opacity="0.6"/>
<use href="#b31" y="0.19" opacity="0.6"/>
<use href="#b4" y="-2.56" opacity="0.85"/>
<use href="#b38" y="-6.15" opacity="0.85"/>
<use href="#b46" y="-2.16" opacity="0.85"/>
<use href="#b49" y="-0.14" opacity="0.6"/>
<use href="#b75" y="-9.27" opacity="0.85"/>
<use href="#b12" y="0.29" opacity="0.6"/>
<use href="#b6" y="-9.77" opacity="0.85"/>
<use href="#b2" y="6.86" opacity="0.85"/>
<use href="#b90" y="6.61" opacity="0.6"/>
<use href="#b7" y="3.14" opacity="0.85"/>
<use href="#b11" y="-7.44" opacity="0.85"/>
<use href="#b29" y="-1.44" opacity="0.85"/>
<use href="#b19" y="0.81" opacity="0.85"/>
<use href="#b57" y="-2.22" opacity="0.85"/>
<use href="#b40" y="-7.93" opacity="0.85"/>
<use href="#b51" y="-4.36" opacity="0.6"/>
<use href="#b41" y="-7.18" opacity="0.85"/>
<use href="#b106" y="-5.73" opacity="0.6"/>
<use href="#b57" y="-1.24" opacity="0.85"/>
<use href="#b40" y="-5.76" opacity="0.85"/>
<use href="#b52" y="-3.34" opacity="0.85"/>
<use href="#b11" y="-9.84" opacity="0.85"/>
<use href="#b2" y="6.05" opacity="0.85"/>
<use href="#b25" y="1.87" opacity="0.85"/>
<use href="#b52" y="-2.99" opacity="0.85"/>
<use href="#b29" y="-0.51" opacity="0.85"/>
<use href="#b44" y="-8.82" opacity="0.85"/>
<use href="#b35" y="-1.77" opacity="0.85"/>
<use href="#b55" y="-3.15" opacity="0.85"/>
<use href="#b23" y="-9.92" opacity="0.85"/>
<use href="#b13" y="0.18" opacity="0.85"/>
<use href="#b28" y="2.70" opacity="0.85"/>
</g>
<path d="M268.3 169.8 269.2 169.4 270.1 168.9 271.0 168.5 272.0 168.0 272.9 167.5 273.8 167.0 274.7 166.6 275.6 166.1 276.5 165.6 277.4 165.1 278.3 164.6 279.2 164.1 280.1 163.6 281.0 163.1 282.0 162.6 282.9 162.1 283.8 161.6 284.7 161.1 285.6 160.6 286.5 160.1 287.4 159.6 288.3 159.1 289.2 158.6 290.1 158.1 291.0 157.5 292.0 157.0 292.9 156.5 293.8 156.0 294.7 155.4 295.6 154.9 296.5 154.4 297.4 153.9 298.3 153.3 299.2 152.8 300.1 152.3 301.0 151.7 302.0 151.2 302.9 150.7 303.8 150.1 304.7 149.6 305.6 149.1 306.5 148.5 307.4 148.0 308.3 147.5 309.2 146.9 310.1 146.4 311.0 145.9 311.9 145.3 312.9 144.8 313.8 144.3 314.7 143.7 315.6 143.2 316.5 142.7 317.4 142.1 318.3 141.6 319.2 141.1 320.1 140.5 321.0 140.0 321.9 139.5 322.9 138.9 323.8 138.4 324.7 137.9 325.6 137.4 326.5 136.8 327.4 136.3 328.3 135.8 329.2 135.3 330.1 134.7 331.0 134.2 331.9 133.7 332.9 133.2 333.8 132.6 334.7 132.1 335.6 131.6 336.5 131.1 337.4 130.6 338.3 130.1 339.2 129.6 340.1 129.1 341.0 128.6 341.9 128.0 342.9 127.5 343.8 127.0 344.7 126.5 345.6 126.0 346.5 125.5 347.4 125.1 348.3 124.6 349.2 124.1 350.1 123.6 351.0 123.1 351.9 122.6 352.9 122.1 353.8 121.6 354.7 121.2 355.6 120.7 356.5 120.2 357.4 119.7 358.3 119.3 359.2 118.8 360.1 118.3 361.0 117.9 361.9 117.4 362.9 116.9 363.8 116.5 364.7 116.0 365.6 115.6 366.5 115.1 367.4 114.7 368.3 114.2 369.2 113.8 370.1 113.4 371.0 112.9 371.9 112.5 372.9 112.0 373.8 111.6 374.7 111.2 375.6 110.8 376.5 110.3 377.4 109.9 378.3 109.5 379.2 109.1 380.1 108.7 381.0 108.2 381.9 107.8 382.9 107.4 383.8 107.0 384.7 106.6 385.6 106.2 386.5 105.8 387.4 105.4 388.3 105.0 389.2 104.6 390.1 104.3 391.0 103.9 391.9 103.5 392.9 103.1 393.8 102.7 394.7 102.3 395.6 102.0 396.5 101.6 397.4 101.2 398.3 100.9 399.2 100.5 400.1 100.1 401.0 99.8 401.9 99.4 402.9 99.1 403.8 98.7 404.7 98.4 405.6 98.0 406.5 97.7 407.4 97.3 408.3 97.0 409.2 96.6 410.1 96.3 411.0 96.0 411.9 95.6 412.8 95.3 413.8 95.0 414.7 94.6 415.6 94.3 416.5 94.0 417.4 93.7 418.3 93.4 419.2 93.0 420.1 92.7 421.0 92.4 421.9 92.1 422.8 91.8 423.8 91.5 424.7 91.2 425.6 90.9 426.5 90.6 427.4 90.3 428.3 90.0 429.2 89.7 430.1 89.4 431.0 89.1 431.9 88.8 432.8 88.5 433.8 88.2 434.7 87.9 435.6 87.6 436.5 87.3 437.4 87.0 438.3 86.8 439.2 86.5 440.1 86.2 441.0 85.9 441.9 85.6 442.8 85.3 443.8 85.1 444.7 84.8 445.6 84.5 446.5 84.2 447.4 83.9 448.3 83.7" fill="none" stroke="#111" stroke-width="1.6" stroke-linecap="round"/>
<path d="M268.3 193.2 269.2 190.9 270.1 188.9 271.0 187.1 272.0 185.4 272.9 183.8 273.8 182.3 274.7 180.9 275.6 179.5 276.5 178.1 277.4 176.8 278.3 175.6 279.2 174.4 280.1 173.2 281.0 172.1 282.0 171.0 282.9 169.9 283.8 168.9 284.7 167.8 285.6 166.8 286.5 165.9 287.4 164.9 288.3 164.0 289.2 163.1 290.1 162.2 291.0 161.3 292.0 160.4 292.9 159.6 293.8 158.8 294.7 158.0 295.6 157.2 296.5 156.4 297.4 155.6 298.3 154.9 299.2 154.1 300.1 153.4 301.0 152.7 302.0 152.0 302.9 151.3 303.8 150.6 304.7 149.9 305.6 149.3 306.5 148.6 307.4 148.0 308.3 147.3 309.2 146.7 310.1 146.1 311.0 145.5 311.9 144.9 312.9 144.3 313.8 143.7 314.7 143.2 315.6 142.6 316.5 142.1 317.4 141.5 318.3 141.0 319.2 140.4 320.1 139.9 321.0 139.4 321.9 138.9 322.9 138.4 323.8 137.9 324.7 137.4 325.6 136.9 326.5 136.5 327.4 136.0 328.3 135.5 329.2 135.1 330.1 134.6 331.0 134.2 331.9 133.7 332.9 133.3 333.8 132.9 334.7 132.4 335.6 132.0 336.5 131.6 337.4 131.2 338.3 130.8 339.2 130.4 340.1 130.0 341.0 129.6 341.9 129.3 342.9 128.9 343.8 128.5 344.7 128.1 345.6 127.8 346.5 127.4 347.4 127.1 348.3 126.7 349.2 126.4 350.1 126.0 351.0 125.7 351.9 125.3 352.9 125.0 353.8 124.7 354.7 124.4 355.6 124.0 356.5 123.7 357.4 123.4 358.3 123.1 359.2 122.8 360.1 122.5" fill="none" stroke="#dd6c30" stroke-width="1.6"/>
<path d="M360.1 122.5 361.0 122.2 361.9 121.9 362.9 121.6 363.8 121.3 364.7 121.0 365.6 120.8 366.5 120.5 367.4 120.2 368.3 119.9 369.2 119.7 370.1 119.4 371.0 119.1 371.9 118.9 372.9 118.6 373.8 118.4 374.7 118.1 375.6 117.9 376.5 117.6 377.4 117.4 378.3 117.2 379.2 116.9 380.1 116.7 381.0 116.4 381.9 116.2 382.9 116.0 383.8 115.8 384.7 115.5 385.6 115.3 386.5 115.1 387.4 114.9 388.3 114.7 389.2 114.5 390.1 114.3 391.0 114.1 391.9 113.9 392.9 113.7 393.8 113.5 394.7 113.3 395.6 113.1 396.5 112.9 397.4 112.7 398.3 112.5 399.2 112.3 400.1 112.1 401.0 112.0 401.9 111.8 402.9 111.6 403.8 111.4 404.7 111.2 405.6 111.1 406.5 110.9 407.4 110.7 408.3 110.6 409.2 110.4 410.1 110.2 411.0 110.1 411.9 109.9 412.8 109.8 413.8 109.6 414.7 109.5 415.6 109.3 416.5 109.1 417.4 109.0 418.3 108.9 419.2 108.7 420.1 108.6 421.0 108.4 421.9 108.3 422.8 108.1 423.8 108.0 424.7 107.9 425.6 107.7 426.5 107.6 427.4 107.5 428.3 107.3 429.2 107.2 430.1 107.1 431.0 106.9 431.9 106.8 432.8 106.7 433.8 106.6 434.7 106.4 435.6 106.3 436.5 106.2 437.4 106.1 438.3 106.0 439.2 105.8 440.1 105.7 441.0 105.6 441.9 105.5 442.8 105.4 443.8 105.3 444.7 105.2 445.6 105.1 446.5 105.0 447.4 104.9 448.3 104.7" fill="none" stroke="#dd6c30" stroke-width="1.6" stroke-dasharray="4.2 3.25" stroke-dashoffset="4.2"/>
<g stroke="#8c8c8c" stroke-width="1" fill="none">
<path d="M266.5 15V199.4H456.9"/>
<path d="M263.7 199.4H266.5"/>
<path d="M263.7 155.4H266.5"/>
<path d="M263.7 111.4H266.5"/>
<path d="M263.7 67.4H266.5"/>
<path d="M263.7 23.4H266.5"/>
<path d="M266.5 199.4V202"/>
<path d="M311.9 199.4V202"/>
<path d="M357.4 199.4V202"/>
<path d="M402.9 199.4V202"/>
<path d="M448.3 199.4V202"/>
</g>
<g font-size="8.4" fill="#3a3a3a" text-anchor="end">
<text x="260.0" y="202.3">0</text>
<text x="260.0" y="158.3">50</text>
<text x="260.0" y="114.3">100</text>
<text x="260.0" y="70.3">150</text>
<text x="260.0" y="26.3">200</text>
</g>
<g font-size="8.4" fill="#3a3a3a" text-anchor="middle">
<text x="266.5" y="211.3">0</text>
<text x="311.9" y="211.3">25</text>
<text x="357.4" y="211.3">50</text>
<text x="402.9" y="211.3">75</text>
<text x="448.3" y="211.3">100</text>
</g>
<text transform="translate(241.1 142.3) rotate(-90)" font-size="8.9" fill="#3a3a3a" textLength="61.5" lengthAdjust="spacingAndGlyphs">AGC (MgC ha<tspan font-size="5.9" dy="-3.4">−1</tspan><tspan dy="3.4">)</tspan></text>
<text x="229.6" y="9.3" font-size="11.6" font-weight="bold" fill="#111">b</text>
<text x="242.5" y="9.1" font-size="8.8" fill="#3a3a3a">Congo Basin</text>
<g stroke="#658a47" stroke-opacity="0.1" stroke-width="0.8" fill="none">
<use href="#c24" y="2.60"/>
<use href="#c70" y="-10.71" opacity="0.45"/>
<use href="#c3" y="-3.51"/>
<use href="#c9" y="2.52"/>
<use href="#c25" y="-3.73"/>
<use href="#c0" y="-2.79"/>
<use href="#c72" y="-8.99" opacity="0.45"/>
<use href="#c7" y="1.82"/>
<use href="#c31" y="5.61"/>
<use href="#c8" y="-1.07"/>
<use href="#c73" y="-10.93" opacity="0.45"/>
<use href="#c3" y="-0.45"/>
<use href="#c21" y="-4.55"/>
<use href="#c11" y="2.55"/>
<use href="#c27" y="-4.39"/>
<use href="#c7" y="2.97"/>
<use href="#c20" y="0.88"/>
<use href="#c33" y="-2.29" opacity="0.45"/>
<use href="#c3" y="-0.70"/>
<use href="#c18" y="-2.07"/>
<use href="#c82" y="-4.77" opacity="0.45"/>
<use href="#c9" y="1.94"/>
<use href="#c15" y="0.22"/>
<use href="#c9" y="2.64"/>
<use href="#c25" y="-4.12" opacity="0.45"/>
<use href="#c0" y="0.17" opacity="0.45"/>
<use href="#c7" y="1.54"/>
<use href="#c8" y="0.08"/>
<use href="#c1" y="5.45"/>
<use href="#c18" y="-3.80"/>
<use href="#c87" y="-12.89" opacity="0.45"/>
<use href="#c6" y="3.38"/>
<use href="#c24" y="2.37"/>
<use href="#c93" y="-9.78" opacity="0.45"/>
<use href="#c27" y="-4.22"/>
<use href="#c73" y="-8.71" opacity="0.45"/>
<use href="#c26" y="0.34"/>
<use href="#c19" y="3.25"/>
<use href="#c23" y="-1.53"/>
<use href="#c26" y="-0.68"/>
<use href="#c2" y="-4.55"/>
<use href="#c32" y="-4.40"/>
<use href="#c25" y="-2.61"/>
<use href="#c10" y="1.52"/>
<use href="#c19" y="1.83"/>
<use href="#c86" y="-7.62" opacity="0.45"/>
<use href="#c6" y="2.88"/>
<use href="#c21" y="-1.41"/>
<use href="#c17" y="3.62"/>
<use href="#c78" y="-6.44" opacity="0.45"/>
<use href="#c4" y="-2.07"/>
<use href="#c65" y="-10.57" opacity="0.45"/>
<use href="#c19" y="-0.61"/>
<use href="#c27" y="-0.17" opacity="0.45"/>
<use href="#c6" y="1.97" opacity="0.6"/>
<use href="#c27" y="-1.68"/>
<use href="#c6" y="3.08"/>
<use href="#c67" y="-2.31" opacity="0.45"/>
<use href="#c69" y="-10.17" opacity="0.45"/>
<use href="#c30" y="3.15" opacity="0.6"/>
<use href="#c16" y="4.72"/>
<use href="#c30" y="7.50"/>
<use href="#c6" y="2.45"/>
<use href="#c42" y="-7.75" opacity="0.45"/>
<use href="#c9" y="2.79"/>
<use href="#c89" y="-13.09" opacity="0.45"/>
<use href="#c73" y="-4.51" opacity="0.45"/>
<use href="#c9" y="-0.24"/>
<use href="#c4" y="-0.52"/>
<use href="#c50" y="-8.76" opacity="0.45"/>
<use href="#c15" y="1.56"/>
<use href="#c47" y="-9.26" opacity="0.45"/>
<use href="#c15" y="1.33"/>
<use href="#c14" y="-1.40"/>
<use href="#c26" y="2.04"/>
<use href="#c16" y="3.27"/>
<use href="#c14" y="-1.37"/>
<use href="#c28" y="1.52"/>
<use href="#c15" y="1.18"/>
<use href="#c9" y="2.23"/>
<use href="#c58" y="-10.41" opacity="0.45"/>
<use href="#c23" y="-1.79"/>
<use href="#c36" y="-6.32" opacity="0.45"/>
<use href="#c58" y="-4.47" opacity="0.45"/>
<use href="#c21" y="0.38"/>
<use href="#c9" y="2.21"/>
<use href="#c38" y="6.78" opacity="0.6"/>
<use href="#c19" y="1.34"/>
<use href="#c59" y="-1.68" opacity="0.45"/>
<use href="#c84" y="-8.74" opacity="0.45"/>
<use href="#c19" y="1.00"/>
<use href="#c23" y="-0.07"/>
<use href="#c26" y="0.37"/>
<use href="#c25" y="0.10" opacity="0.45"/>
<use href="#c59" y="-4.36" opacity="0.45"/>
<use href="#c0" y="-2.58"/>
<use href="#c11" y="2.05"/>
<use href="#c8" y="0.03"/>
<use href="#c40" y="6.87" opacity="0.6"/>
<use href="#c17" y="4.75"/>
<use href="#c14" y="-0.39"/>
<use href="#c10" y="-1.64"/>
<use href="#c20" y="0.95"/>
<use href="#c11" y="1.82"/>
<use href="#c36" y="-5.02" opacity="0.45"/>
<use href="#c67" y="-6.27" opacity="0.45"/>
<use href="#c22" y="6.60"/>
<use href="#c18" y="0.56" opacity="0.45"/>
<use href="#c13" y="2.12"/>
<use href="#c24" y="2.53"/>
<use href="#c0" y="-3.58"/>
<use href="#c55" y="-7.58" opacity="0.45"/>
<use href="#c8" y="2.46"/>
<use href="#c6" y="0.87"/>
<use href="#c30" y="1.56" opacity="0.6"/>
<use href="#c37" y="3.08" opacity="0.6"/>
<use href="#c86" y="-9.93" opacity="0.45"/>
<use href="#c20" y="0.68"/>
<use href="#c14" y="-0.38"/>
<use href="#c64" y="-3.87" opacity="0.45"/>
<use href="#c75" y="-7.98" opacity="0.45"/>
<use href="#c3" y="-1.13"/>
<use href="#c26" y="0.48"/>
<use href="#c3" y="-0.70"/>
<use href="#c28" y="-0.85"/>
<use href="#c72" y="-15.31" opacity="0.45"/>
<use href="#c51" y="-3.96" opacity="0.45"/>
<use href="#c7" y="6.38"/>
<use href="#c86" y="-9.76" opacity="0.45"/>
<use href="#c4" y="0.35"/>
<use href="#c25" y="-4.20"/>
<use href="#c35" y="4.16" opacity="0.6"/>
<use href="#c47" y="-5.27" opacity="0.45"/>
<use href="#c30" y="4.31"/>
<use href="#c26" y="2.60"/>
<use href="#c18" y="-1.97"/>
<use href="#c12" y="1.77"/>
<use href="#c3" y="-0.28"/>
<use href="#c62" y="-5.29" opacity="0.45"/>
<use href="#c4" y="0.11"/>
<use href="#c49" y="-11.11" opacity="0.45"/>
<use href="#c0" y="-2.42"/>
<use href="#c26" y="-1.56"/>
<use href="#c19" y="-1.17"/>
<use href="#c7" y="0.52"/>
<use href="#c12" y="1.06"/>
<use href="#c37" y="4.22" opacity="0.6"/>
<use href="#c10" y="-0.16"/>
<use href="#c19" y="1.87"/>
<use href="#c4" y="-3.79" opacity="0.45"/>
<use href="#c75" y="-12.91" opacity="0.45"/>
<use href="#c21" y="-2.08"/>
<use href="#c32" y="-1.94" opacity="0.45"/>
<use href="#c3" y="0.26"/>
<use href="#c65" y="-8.45" opacity="0.45"/>
<use href="#c25" y="-1.69"/>
<use href="#c90" y="-11.98" opacity="0.45"/>
<use href="#c30" y="4.12"/>
<use href="#c17" y="1.43" opacity="0.6"/>
<use href="#c14" y="0.30"/>
<use href="#c42" y="-4.43" opacity="0.45"/>
<use href="#c76" y="-13.12" opacity="0.45"/>
<use href="#c28" y="4.19"/>
<use href="#c32" y="-2.66"/>
<use href="#c62" y="-3.60" opacity="0.45"/>
<use href="#c23" y="-4.47"/>
<use href="#c0" y="-3.28"/>
<use href="#c32" y="1.82" opacity="0.45"/>
<use href="#c19" y="0.10"/>
<use href="#c24" y="0.75"/>
<use href="#c21" y="-2.20"/>
<use href="#c77" y="-7.88" opacity="0.45"/>
<use href="#c18" y="-1.36"/>
<use href="#c0" y="-1.46"/>
<use href="#c21" y="-0.71"/>
<use href="#c29" y="3.36"/>
<use href="#c49" y="-7.55" opacity="0.45"/>
<use href="#c77" y="-6.23" opacity="0.45"/>
<use href="#c4" y="1.61"/>
<use href="#c74" y="-6.07" opacity="0.45"/>
<use href="#c67" y="-4.49" opacity="0.45"/>
<use href="#c36" y="-1.53" opacity="0.45"/>
<use href="#c9" y="1.52"/>
<use href="#c64" y="-4.85" opacity="0.45"/>
<use href="#c12" y="3.55"/>
<use href="#c44" y="-14.49" opacity="0.45"/>
<use href="#c74" y="-6.82" opacity="0.45"/>
<use href="#c12" y="4.05"/>
<use href="#c70" y="-9.99" opacity="0.45"/>
<use href="#c91" y="-13.48" opacity="0.45"/>
<use href="#c11" y="0.82"/>
<use href="#c51" y="-6.61" opacity="0.45"/>
<use href="#c14" y="-0.09"/>
<use href="#c29" y="5.94"/>
<use href="#c14" y="-1.93"/>
<use href="#c23" y="-4.96"/>
<use href="#c43" y="-4.52" opacity="0.45"/>
<use href="#c59" y="-5.57" opacity="0.45"/>
<use href="#c2" y="-5.99"/>
<use href="#c62" y="-2.20" opacity="0.45"/>
<use href="#c70" y="-10.63" opacity="0.45"/>
<use href="#c69" y="-11.64" opacity="0.45"/>
<use href="#c70" y="-9.71" opacity="0.45"/>
<use href="#c18" y="-0.95"/>
<use href="#c70" y="-9.82" opacity="0.45"/>
<use href="#c33" y="-2.09" opacity="0.45"/>
<use href="#c9" y="0.43"/>
<use href="#c1" y="6.88"/>
<use href="#c16" y="2.90"/>
<use href="#c33" y="-2.07" opacity="0.45"/>
<use href="#c23" y="-2.41"/>
<use href="#c7" y="2.04"/>
<use href="#c82" y="-3.68" opacity="0.45"/>
<use href="#c19" y="1.77"/>
<use href="#c86" y="-7.97" opacity="0.45"/>
<use href="#c84" y="-9.04" opacity="0.45"/>
<use href="#c2" y="-2.19" opacity="0.45"/>
<use href="#c7" y="5.07"/>
<use href="#c5" y="2.75" opacity="0.6"/>
<use href="#c50" y="-11.35" opacity="0.45"/>
<use href="#c13" y="3.19"/>
<use href="#c32" y="-3.79" opacity="0.45"/>
<use href="#c14" y="-0.27"/>
<use href="#c15" y="1.91"/>
<use href="#c93" y="-8.18" opacity="0.45"/>
<use href="#c49" y="-5.83" opacity="0.45"/>
<use href="#c66" y="-15.09" opacity="0.45"/>
<use href="#c27" y="-4.19"/>
<use href="#c30" y="4.53" opacity="0.6"/>
<use href="#c13" y="3.57"/>
<use href="#c21" y="-1.98"/>
<use href="#c18" y="1.12"/>
<use href="#c81" y="-10.93" opacity="0.45"/>
<use href="#c12" y="2.74"/>
<use href="#c10" y="-1.42"/>
<use href="#c11" y="1.68"/>
<use href="#c0" y="-2.21"/>
<use href="#c54" y="-10.08" opacity="0.45"/>
<use href="#c61" y="-9.22" opacity="0.45"/>
<use href="#c12" y="2.54"/>
<use href="#c45" y="-12.69" opacity="0.45"/>
<use href="#c78" y="-4.74" opacity="0.45"/>
<use href="#c0" y="-1.71"/>
<use href="#c69" y="-6.00" opacity="0.45"/>
<use href="#c4" y="-2.06"/>
<use href="#c21" y="-1.41"/>
<use href="#c82" y="-5.22" opacity="0.45"/>
<use href="#c8" y="-0.29"/>
<use href="#c21" y="-0.32"/>
<use href="#c35" y="3.69" opacity="0.6"/>
<use href="#c80" y="-12.06" opacity="0.45"/>
<use href="#c67" y="-5.25" opacity="0.45"/>
<use href="#c71" y="-8.63" opacity="0.45"/>
<use href="#c14" y="1.81"/>
<use href="#c1" y="4.92"/>
<use href="#c18" y="-2.27"/>
<use href="#c20" y="0.61"/>
<use href="#c15" y="0.09"/>
<use href="#c74" y="0.08" opacity="0.45"/>
<use href="#c10" y="2.56"/>
<use href="#c28" y="2.83"/>
<use href="#c55" y="-2.59" opacity="0.45"/>
<use href="#c3" y="-0.25"/>
<use href="#c1" y="3.77"/>
<use href="#c27" y="-4.14"/>
<use href="#c19" y="1.50"/>
<use href="#c3" y="-1.26"/>
<use href="#c29" y="4.59"/>
<use href="#c30" y="-0.97" opacity="0.6"/>
<use href="#c33" y="-6.48"/>
<use href="#c10" y="-1.64"/>
<use href="#c24" y="1.24"/>
<use href="#c61" y="-12.05" opacity="0.45"/>
<use href="#c15" y="1.15"/>
<use href="#c43" y="-0.92" opacity="0.45"/>
<use href="#c32" y="-3.07" opacity="0.45"/>
<use href="#c10" y="1.58"/>
<use href="#c5" y="4.00" opacity="0.6"/>
<use href="#c13" y="2.94"/>
<use href="#c1" y="3.68" opacity="0.6"/>
<use href="#c10" y="1.68"/>
<use href="#c83" y="-9.82" opacity="0.45"/>
<use href="#c6" y="3.51"/>
<use href="#c52" y="-10.39" opacity="0.45"/>
<use href="#c18" y="-0.31" opacity="0.45"/>
<use href="#c27" y="-4.42"/>
<use href="#c20" y="-1.64"/>
<use href="#c28" y="1.58"/>
<use href="#c79" y="-6.29" opacity="0.45"/>
<use href="#c27" y="0.05" opacity="0.45"/>
<use href="#c32" y="-6.75" opacity="0.45"/>
<use href="#c41" y="6.74" opacity="0.6"/>
<use href="#c32" y="-2.27" opacity="0.45"/>
<use href="#c59" y="-3.61" opacity="0.45"/>
<use href="#c16" y="0.97"/>
<use href="#c85" y="-7.69" opacity="0.45"/>
<use href="#c76" y="-13.27" opacity="0.45"/>
<use href="#c29" y="3.10"/>
<use href="#c11" y="4.22"/>
<use href="#c55" y="-10.01" opacity="0.45"/>
<use href="#c25" y="-1.45" opacity="0.45"/>
<use href="#c15" y="-0.79"/>
<use href="#c85" y="-3.97" opacity="0.45"/>
<use href="#c1" y="5.49"/>
<use href="#c9" y="3.66"/>
<use href="#c7" y="4.56"/>
<use href="#c76" y="-10.00" opacity="0.45"/>
<use href="#c61" y="-6.22" opacity="0.45"/>
<use href="#c30" y="2.25"/>
<use href="#c19" y="1.08"/>
<use href="#c85" y="-12.03" opacity="0.45"/>
<use href="#c21" y="-2.48"/>
<use href="#c2" y="-0.27"/>
<use href="#c11" y="5.42"/>
<use href="#c11" y="2.02"/>
<use href="#c56" y="-11.72" opacity="0.45"/>
<use href="#c21" y="0.67"/>
<use href="#c25" y="-1.48"/>
<use href="#c15" y="1.42"/>
<use href="#c4" y="-2.50"/>
<use href="#c77" y="-7.60" opacity="0.45"/>
<use href="#c0" y="-2.10"/>
<use href="#c28" y="0.69"/>
<use href="#c16" y="6.18"/>
<use href="#c15" y="4.16"/>
<use href="#c63" y="-13.05" opacity="0.45"/>
<use href="#c74" y="-2.33" opacity="0.45"/>
<use href="#c30" y="3.14"/>
<use href="#c1" y="5.08"/>
<use href="#c36" y="0.04" opacity="0.45"/>
<use href="#c31" y="4.49" opacity="0.6"/>
<use href="#c15" y="-0.12"/>
<use href="#c44" y="-13.37" opacity="0.45"/>
<use href="#c14" y="-0.74"/>
<use href="#c26" y="0.01"/>
<use href="#c77" y="-12.33" opacity="0.45"/>
<use href="#c4" y="0.40"/>
<use href="#c18" y="-2.64"/>
<use href="#c9" y="0.47"/>
<use href="#c57" y="-10.02" opacity="0.45"/>
<use href="#c29" y="5.44"/>
<use href="#c1" y="5.25"/>
<use href="#c24" y="3.07"/>
<use href="#c25" y="-2.02"/>
<use href="#c32" y="-4.33"/>
<use href="#c48" y="-11.58" opacity="0.45"/>
<use href="#c82" y="-5.36" opacity="0.45"/>
<use href="#c9" y="4.03"/>
<use href="#c16" y="3.31"/>
<use href="#c11" y="2.04"/>
<use href="#c23" y="-1.90"/>
<use href="#c7" y="4.31"/>
<use href="#c3" y="-3.90"/>
<use href="#c88" y="-17.89" opacity="0.45"/>
<use href="#c16" y="0.42" opacity="0.6"/>
<use href="#c36" y="0.03" opacity="0.45"/>
<use href="#c4" y="-2.18"/>
<use href="#c40" y="4.93" opacity="0.6"/>
<use href="#c15" y="0.70"/>
<use href="#c32" y="-6.52" opacity="0.45"/>
<use href="#c6" y="3.49"/>
<use href="#c15" y="1.63"/>
<use href="#c71" y="-4.18" opacity="0.45"/>
<use href="#c32" y="-6.43" opacity="0.45"/>
<use href="#c15" y="-0.50"/>
<use href="#c92" y="-8.08" opacity="0.45"/>
<use href="#c13" y="2.42"/>
<use href="#c83" y="-10.88" opacity="0.45"/>
<use href="#c13" y="1.36"/>
<use href="#c53" y="-10.32" opacity="0.45"/>
<use href="#c3" y="-0.16"/>
<use href="#c75" y="-12.98" opacity="0.45"/>
<use href="#c25" y="-4.97"/>
<use href="#c0" y="-2.18"/>
<use href="#c57" y="-9.47" opacity="0.45"/>
<use href="#c7" y="4.65"/>
<use href="#c7" y="2.18"/>
<use href="#c46" y="-8.10" opacity="0.45"/>
<use href="#c18" y="-2.06"/>
<use href="#c26" y="0.05"/>
<use href="#c30" y="1.08" opacity="0.6"/>
<use href="#c75" y="-10.01" opacity="0.45"/>
<use href="#c62" y="-7.61" opacity="0.45"/>
<use href="#c14" y="-2.02"/>
<use href="#c8" y="2.71"/>
<use href="#c18" y="-1.28"/>
<use href="#c23" y="-0.24" opacity="0.45"/>
<use href="#c83" y="-10.21" opacity="0.45"/>
<use href="#c34" y="-0.58" opacity="0.45"/>
<use href="#c21" y="-2.40"/>
<use href="#c56" y="-11.07" opacity="0.45"/>
<use href="#c4" y="-2.06"/>
<use href="#c6" y="3.60"/>
<use href="#c13" y="0.89"/>
<use href="#c68" y="-11.18" opacity="0.45"/>
<use href="#c15" y="-0.94"/>
<use href="#c42" y="-4.03" opacity="0.45"/>
<use href="#c8" y="-0.45"/>
<use href="#c8" y="3.70"/>
<use href="#c15" y="2.93"/>
<use href="#c18" y="-2.14"/>
<use href="#c16" y="7.31"/>
<use href="#c30" y="6.04"/>
<use href="#c15" y="0.68"/>
<use href="#c56" y="-10.18" opacity="0.45"/>
<use href="#c43" y="-7.17" opacity="0.45"/>
<use href="#c32" y="-3.24" opacity="0.45"/>
<use href="#c48" y="-3.70" opacity="0.45"/>
<use href="#c82" y="-5.97" opacity="0.45"/>
<use href="#c11" y="2.49"/>
<use href="#c18" y="-2.72"/>
<use href="#c13" y="1.67"/>
<use href="#c13" y="1.68"/>
<use href="#c20" y="-0.37"/>
<use href="#c20" y="1.69"/>
<use href="#c34" y="-1.00" opacity="0.45"/>
<use href="#c67" y="-6.56" opacity="0.45"/>
<use href="#c91" y="-12.03" opacity="0.45"/>
<use href="#c16" y="3.45"/>
<use href="#c58" y="-10.55" opacity="0.45"/>
<use href="#c20" y="0.50"/>
<use href="#c2" y="-5.66"/>
<use href="#c16" y="4.36"/>
<use href="#c1" y="3.69"/>
<use href="#c33" y="-3.28"/>
<use href="#c1" y="2.46"/>
<use href="#c12" y="1.52"/>
<use href="#c75" y="-8.55" opacity="0.45"/>
<use href="#c20" y="0.43"/>
<use href="#c14" y="-1.83"/>
<use href="#c28" y="-0.77"/>
<use href="#c17" y="4.03"/>
<use href="#c19" y="0.65"/>
<use href="#c24" y="0.90"/>
<use href="#c22" y="2.25" opacity="0.6"/>
<use href="#c1" y="6.76"/>
<use href="#c20" y="0.47"/>
<use href="#c1" y="6.24"/>
<use href="#c29" y="6.02"/>
<use href="#c26" y="1.19"/>
<use href="#c82" y="-9.35" opacity="0.45"/>
<use href="#c0" y="-1.44"/>
<use href="#c15" y="1.80"/>
<use href="#c16" y="2.93"/>
<use href="#c22" y="5.52" opacity="0.6"/>
<use href="#c9" y="1.83"/>
<use href="#c10" y="-0.84"/>
<use href="#c81" y="-10.55" opacity="0.45"/>
<use href="#c16" y="5.16"/>
<use href="#c30" y="1.66" opacity="0.6"/>
<use href="#c4" y="-0.70"/>
<use href="#c7" y="2.32"/>
<use href="#c56" y="-9.05" opacity="0.45"/>
<use href="#c16" y="1.71" opacity="0.6"/>
<use href="#c1" y="3.35" opacity="0.6"/>
<use href="#c78" y="-6.55" opacity="0.45"/>
<use href="#c23" y="-0.60"/>
<use href="#c2" y="-1.75" opacity="0.45"/>
<use href="#c72" y="-11.96" opacity="0.45"/>
<use href="#c49" y="-8.47" opacity="0.45"/>
<use href="#c3" y="0.22"/>
<use href="#c5" y="6.17" opacity="0.6"/>
<use href="#c31" y="6.99"/>
<use href="#c23" y="-0.84"/>
<use href="#c13" y="2.65"/>
<use href="#c19" y="-1.10"/>
<use href="#c33" y="-2.30" opacity="0.45"/>
<use href="#c47" y="-6.26" opacity="0.45"/>
<use href="#c17" y="5.04"/>
<use href="#c53" y="-11.37" opacity="0.45"/>
<use href="#c7" y="3.58" opacity="0.6"/>
<use href="#c23" y="-0.19"/>
<use href="#c47" y="-4.24" opacity="0.45"/>
<use href="#c9" y="1.75"/>
<use href="#c21" y="-0.07"/>
<use href="#c1" y="3.31" opacity="0.6"/>
<use href="#c33" y="-5.09" opacity="0.45"/>
<use href="#c31" y="6.80"/>
<use href="#c25" y="-2.63" opacity="0.45"/>
<use href="#c0" y="-3.14"/>
<use href="#c55" y="-6.89" opacity="0.45"/>
<use href="#c53" y="-11.61" opacity="0.45"/>
<use href="#c62" y="-7.15" opacity="0.45"/>
<use href="#c42" y="-5.02" opacity="0.45"/>
<use href="#c1" y="7.20"/>
<use href="#c22" y="5.15" opacity="0.6"/>
<use href="#c24" y="1.23"/>
<use href="#c13" y="5.33"/>
<use href="#c4" y="-2.61"/>
<use href="#c28" y="0.81"/>
<use href="#c12" y="1.61"/>
<use href="#c9" y="1.87"/>
<use href="#c7" y="2.76"/>
<use href="#c25" y="-1.52"/>
<use href="#c15" y="2.95"/>
<use href="#c26" y="-0.22"/>
<use href="#c31" y="3.83" opacity="0.6"/>
<use href="#c29" y="5.53"/>
<use href="#c62" y="-1.39" opacity="0.45"/>
<use href="#c69" y="-7.11" opacity="0.45"/>
<use href="#c16" y="2.81"/>
<use href="#c34" y="-3.49"/>
<use href="#c59" y="-6.05" opacity="0.45"/>
<use href="#c67" y="-8.17" opacity="0.45"/>
<use href="#c82" y="-5.01" opacity="0.45"/>
<use href="#c27" y="-6.04"/>
<use href="#c67" y="-7.51" opacity="0.45"/>
<use href="#c8" y="0.60"/>
<use href="#c16" y="3.83" opacity="0.6"/>
<use href="#c5" y="2.12" opacity="0.6"/>
<use href="#c21" y="-2.09"/>
<use href="#c32" y="-5.31"/>
<use href="#c50" y="-9.64" opacity="0.45"/>
<use href="#c83" y="-10.29" opacity="0.45"/>
<use href="#c48" y="-12.35" opacity="0.45"/>
<use href="#c6" y="2.89"/>
<use href="#c24" y="-0.84"/>
<use href="#c19" y="-1.45"/>
<use href="#c44" y="-8.94" opacity="0.45"/>
<use href="#c26" y="-0.48"/>
<use href="#c21" y="-0.70"/>
<use href="#c4" y="-0.13"/>
<use href="#c9" y="2.78"/>
<use href="#c3" y="-0.53"/>
<use href="#c23" y="-1.20"/>
<use href="#c79" y="-7.88" opacity="0.45"/>
<use href="#c30" y="3.17"/>
<use href="#c26" y="-2.12"/>
<use href="#c4" y="-2.07"/>
<use href="#c26" y="-0.62"/>
<use href="#c26" y="-0.88"/>
<use href="#c69" y="-9.28" opacity="0.45"/>
<use href="#c15" y="2.56"/>
<use href="#c13" y="4.87"/>
<use href="#c7" y="3.79"/>
<use href="#c8" y="3.83"/>
<use href="#c78" y="-5.96" opacity="0.45"/>
<use href="#c6" y="3.26"/>
<use href="#c74" y="-5.20" opacity="0.45"/>
<use href="#c65" y="-9.76" opacity="0.45"/>
<use href="#c4" y="-1.39"/>
<use href="#c56" y="-8.61" opacity="0.45"/>
<use href="#c70" y="-9.41" opacity="0.45"/>
<use href="#c4" y="0.35"/>
<use href="#c2" y="-7.25" opacity="0.45"/>
<use href="#c0" y="0.35"/>
<use href="#c36" y="-3.19" opacity="0.45"/>
<use href="#c17" y="5.01"/>
<use href="#c65" y="-11.42" opacity="0.45"/>
<use href="#c14" y="-0.15"/>
<use href="#c10" y="-0.33"/>
<use href="#c23" y="-0.77"/>
<use href="#c4" y="-1.90"/>
<use href="#c6" y="3.42"/>
<use href="#c3" y="-0.74"/>
<use href="#c86" y="-11.19" opacity="0.45"/>
<use href="#c10" y="1.08"/>
<use href="#c9" y="0.05"/>
<use href="#c12" y="1.77"/>
<use href="#c14" y="-3.12"/>
<use href="#c85" y="-10.37" opacity="0.45"/>
<use href="#c8" y="-0.02"/>
<use href="#c16" y="6.12"/>
<use href="#c10" y="1.48"/>
<use href="#c17" y="2.81"/>
<use href="#c23" y="-1.41"/>
<use href="#c25" y="-3.43" opacity="0.45"/>
<use href="#c74" y="-5.99" opacity="0.45"/>
<use href="#c6" y="3.81"/>
<use href="#c10" y="0.08"/>
<use href="#c92" y="-4.63" opacity="0.45"/>
<use href="#c9" y="3.78"/>
<use href="#c70" y="-11.01" opacity="0.45"/>
<use href="#c62" y="-3.42" opacity="0.45"/>
<use href="#c6" y="3.67"/>
<use href="#c2" y="-5.26"/>
<use href="#c20" y="-0.04"/>
<use href="#c14" y="0.19"/>
<use href="#c33" y="-2.28" opacity="0.45"/>
<use href="#c17" y="4.88"/>
<use href="#c26" y="-2.14"/>
<use href="#c15" y="1.08"/>
<use href="#c84" y="-14.44" opacity="0.45"/>
<use href="#c27" y="-1.64"/>
<use href="#c27" y="-2.49"/>
<use href="#c17" y="3.14"/>
<use href="#c1" y="4.82"/>
<use href="#c4" y="-2.08"/>
<use href="#c7" y="2.92"/>
<use href="#c24" y="-0.07"/>
<use href="#c4" y="-1.48"/>
<use href="#c6" y="1.45"/>
<use href="#c24" y="0.77"/>
<use href="#c10" y="0.58"/>
<use href="#c60" y="-3.56" opacity="0.45"/>
<use href="#c34" y="-11.15" opacity="0.45"/>
<use href="#c8" y="1.89"/>
<use href="#c10" y="-1.50"/>
<use href="#c28" y="0.81"/>
<use href="#c13" y="5.10"/>
<use href="#c8" y="0.74"/>
<use href="#c19" y="-0.98"/>
<use href="#c24" y="0.89"/>
<use href="#c26" y="0.53"/>
<use href="#c3" y="-1.17"/>
<use href="#c50" y="-10.34" opacity="0.45"/>
<use href="#c34" y="-4.57" opacity="0.45"/>
<use href="#c72" y="-10.50" opacity="0.45"/>
<use href="#c4" y="0.65"/>
<use href="#c61" y="-5.71" opacity="0.45"/>
<use href="#c23" y="-2.90"/>
<use href="#c50" y="-13.05" opacity="0.45"/>
<use href="#c54" y="-15.60" opacity="0.45"/>
<use href="#c20" y="-2.05"/>
<use href="#c83" y="-8.41" opacity="0.45"/>
<use href="#c24" y="2.62"/>
<use href="#c64" y="-8.85" opacity="0.45"/>
<use href="#c15" y="2.34"/>
<use href="#c12" y="1.95"/>
<use href="#c17" y="3.31"/>
<use href="#c3" y="-0.45"/>
<use href="#c25" y="-2.66"/>
<use href="#c44" y="-12.60" opacity="0.45"/>
<use href="#c16" y="4.37"/>
<use href="#c4" y="-0.08"/>
<use href="#c2" y="-2.99"/>
<use href="#c42" y="-6.89" opacity="0.45"/>
<use href="#c14" y="-0.13"/>
<use href="#c32" y="-1.33" opacity="0.45"/>
<use href="#c52" y="-7.47" opacity="0.45"/>
<use href="#c29" y="4.06" opacity="0.6"/>
<use href="#c10" y="-1.71"/>
<use href="#c37" y="2.30" opacity="0.6"/>
<use href="#c15" y="2.15"/>
<use href="#c93" y="-8.98" opacity="0.45"/>
<use href="#c58" y="-10.11" opacity="0.45"/>
<use href="#c6" y="3.43" opacity="0.6"/>
<use href="#c0" y="-2.82"/>
<use href="#c7" y="4.38"/>
<use href="#c90" y="-13.78" opacity="0.45"/>
<use href="#c12" y="3.72"/>
<use href="#c23" y="-3.36"/>
<use href="#c85" y="-9.96" opacity="0.45"/>
<use href="#c21" y="-1.27"/>
<use href="#c85" y="-12.98" opacity="0.45"/>
<use href="#c24" y="1.40"/>
<use href="#c12" y="2.26" opacity="0.6"/>
<use href="#c84" y="-10.92" opacity="0.45"/>
<use href="#c72" y="-11.15" opacity="0.45"/>
<use href="#c60" y="-3.50" opacity="0.45"/>
<use href="#c27" y="-1.44"/>
<use href="#c57" y="-10.82" opacity="0.45"/>
<use href="#c0" y="-3.36"/>
<use href="#c48" y="-15.22" opacity="0.45"/>
<use href="#c3" y="1.77"/>
<use href="#c1" y="1.40"/>
<use href="#c48" y="-9.44" opacity="0.45"/>
<use href="#c27" y="-2.82" opacity="0.45"/>
<use href="#c14" y="-0.11"/>
<use href="#c7" y="2.89"/>
<use href="#c6" y="2.79"/>
<use href="#c45" y="-11.84" opacity="0.45"/>
<use href="#c37" y="6.28"/>
<use href="#c19" y="-0.67"/>
<use href="#c22" y="5.48" opacity="0.6"/>
<use href="#c0" y="-2.99"/>
<use href="#c12" y="1.71"/>
<use href="#c0" y="0.42"/>
<use href="#c14" y="-1.86"/>
<use href="#c24" y="-0.50"/>
<use href="#c16" y="2.68"/>
<use href="#c9" y="4.66"/>
<use href="#c28" y="1.73"/>
<use href="#c0" y="-1.90"/>
<use href="#c16" y="3.47"/>
<use href="#c84" y="-12.11" opacity="0.45"/>
<use href="#c70" y="-8.16" opacity="0.45"/>
<use href="#c85" y="-7.55" opacity="0.45"/>
<use href="#c8" y="0.84"/>
<use href="#c21" y="-1.32"/>
<use href="#c33" y="-1.26" opacity="0.45"/>
<use href="#c23" y="-0.32"/>
<use href="#c16" y="3.27"/>
<use href="#c16" y="3.14"/>
<use href="#c0" y="-0.51"/>
<use href="#c23" y="-0.33"/>
<use href="#c43" y="-5.41" opacity="0.45"/>
<use href="#c39" y="6.51" opacity="0.6"/>
<use href="#c25" y="-2.90" opacity="0.45"/>
<use href="#c47" y="-5.29" opacity="0.45"/>
<use href="#c37" y="3.91" opacity="0.6"/>
<use href="#c18" y="-1.96"/>
<use href="#c16" y="0.94" opacity="0.6"/>
<use href="#c24" y="3.29"/>
<use href="#c29" y="2.77" opacity="0.6"/>
<use href="#c12" y="2.57"/>
<use href="#c20" y="0.56"/>
<use href="#c11" y="5.16"/>
<use href="#c23" y="-0.98"/>
<use href="#c35" y="1.90" opacity="0.6"/>
<use href="#c18" y="-4.97"/>
<use href="#c12" y="4.34"/>
<use href="#c25" y="0.76" opacity="0.45"/>
<use href="#c20" y="1.27"/>
<use href="#c79" y="-10.79" opacity="0.45"/>
<use href="#c61" y="-8.49" opacity="0.45"/>
<use href="#c52" y="-5.96" opacity="0.45"/>
<use href="#c10" y="-0.00"/>
<use href="#c42" y="-4.09" opacity="0.45"/>
<use href="#c8" y="-0.07"/>
<use href="#c79" y="-6.65" opacity="0.45"/>
<use href="#c58" y="-11.00" opacity="0.45"/>
<use href="#c17" y="0.31" opacity="0.6"/>
<use href="#c0" y="-0.58"/>
<use href="#c59" y="-5.76" opacity="0.45"/>
<use href="#c25" y="3.12" opacity="0.45"/>
<use href="#c7" y="4.38"/>
<use href="#c11" y="3.45"/>
<use href="#c6" y="3.32"/>
<use href="#c5" y="5.93" opacity="0.6"/>
<use href="#c11" y="3.81"/>
<use href="#c13" y="0.97"/>
<use href="#c69" y="-8.53" opacity="0.45"/>
<use href="#c55" y="-6.97" opacity="0.45"/>
<use href="#c68" y="-10.23" opacity="0.45"/>
<use href="#c18" y="-3.79"/>
<use href="#c3" y="-0.58"/>
<use href="#c57" y="-9.26" opacity="0.45"/>
<use href="#c19" y="-0.25"/>
<use href="#c29" y="4.69"/>
<use href="#c64" y="-4.60" opacity="0.45"/>
<use href="#c13" y="-0.07"/>
<use href="#c2" y="-3.78"/>
<use href="#c9" y="0.53"/>
<use href="#c1" y="4.22"/>
<use href="#c38" y="6.75" opacity="0.6"/>
<use href="#c39" y="6.45" opacity="0.6"/>
<use href="#c63" y="-14.19" opacity="0.45"/>
<use href="#c9" y="3.35"/>
<use href="#c17" y="5.15" opacity="0.6"/>
<use href="#c15" y="0.68"/>
<use href="#c24" y="1.12"/>
<use href="#c13" y="1.84"/>
<use href="#c17" y="4.15"/>
<use href="#c75" y="-13.67" opacity="0.45"/>
<use href="#c9" y="1.03"/>
<use href="#c0" y="-2.97"/>
<use href="#c18" y="-0.31" opacity="0.45"/>
<use href="#c15" y="0.76"/>
<use href="#c43" y="-6.46" opacity="0.45"/>
<use href="#c9" y="2.04"/>
<use href="#c60" y="-2.01" opacity="0.45"/>
<use href="#c21" y="-0.88"/>
<use href="#c26" y="-2.17"/>
<use href="#c35" y="3.60"/>
<use href="#c20" y="-1.15"/>
<use href="#c21" y="-0.78"/>
<use href="#c63" y="-11.17" opacity="0.45"/>
<use href="#c56" y="-8.60" opacity="0.45"/>
<use href="#c69" y="-11.94" opacity="0.45"/>
<use href="#c28" y="-0.27"/>
<use href="#c4" y="-0.66"/>
<use href="#c16" y="3.57"/>
<use href="#c55" y="-10.53" opacity="0.45"/>
<use href="#c64" y="-5.75" opacity="0.45"/>
<use href="#c3" y="0.03"/>
<use href="#c88" y="-18.67" opacity="0.45"/>
<use href="#c68" y="-8.92" opacity="0.45"/>
<use href="#c26" y="1.38"/>
<use href="#c13" y="3.62"/>
<use href="#c33" y="-5.10"/>
<use href="#c42" y="-3.91" opacity="0.45"/>
<use href="#c44" y="-14.93" opacity="0.45"/>
<use href="#c20" y="-1.49"/>
<use href="#c43" y="-4.14" opacity="0.45"/>
<use href="#c12" y="0.40"/>
<use href="#c26" y="-1.01"/>
<use href="#c19" y="-1.04"/>
<use href="#c12" y="0.60"/>
<use href="#c15" y="0.46"/>
<use href="#c2" y="-3.28"/>
<use href="#c47" y="-7.34" opacity="0.45"/>
<use href="#c14" y="-1.49"/>
<use href="#c79" y="-5.06" opacity="0.45"/>
<use href="#c10" y="-1.63"/>
<use href="#c15" y="-0.75"/>
<use href="#c18" y="-2.61"/>
<use href="#c8" y="1.95"/>
<use href="#c6" y="2.21"/>
<use href="#c57" y="-7.69" opacity="0.45"/>
<use href="#c23" y="-2.07"/>
<use href="#c9" y="0.34"/>
<use href="#c71" y="-3.00" opacity="0.45"/>
<use href="#c1" y="3.86"/>
<use href="#c25" y="-1.87"/>
<use href="#c24" y="1.96"/>
<use href="#c66" y="-14.98" opacity="0.45"/>
<use href="#c10" y="2.61"/>
<use href="#c57" y="-10.34" opacity="0.45"/>
<use href="#c4" y="-1.51"/>
<use href="#c9" y="1.94"/>
<use href="#c42" y="-1.92" opacity="0.45"/>
<use href="#c28" y="0.16"/>
<use href="#c15" y="1.17"/>
<use href="#c7" y="0.28" opacity="0.6"/>
<use href="#c61" y="-7.54" opacity="0.45"/>
<use href="#c1" y="6.56"/>
<use href="#c34" y="-2.20" opacity="0.45"/>
<use href="#c15" y="1.06"/>
<use href="#c21" y="0.47"/>
<use href="#c30" y="4.37"/>
<use href="#c8" y="2.06"/>
<use href="#c4" y="-2.55"/>
<use href="#c77" y="-4.51" opacity="0.45"/>
<use href="#c26" y="1.03"/>
<use href="#c27" y="-3.45" opacity="0.45"/>
<use href="#c13" y="3.35"/>
<use href="#c27" y="-0.48"/>
<use href="#c71" y="-5.87" opacity="0.45"/>
<use href="#c25" y="-4.02"/>
<use href="#c4" y="-1.69"/>
<use href="#c79" y="-7.83" opacity="0.45"/>
<use href="#c13" y="3.96"/>
<use href="#c25" y="-2.04"/>
<use href="#c43" y="-5.53" opacity="0.45"/>
<use href="#c13" y="3.28"/>
<use href="#c55" y="-7.22" opacity="0.45"/>
<use href="#c55" y="-6.99" opacity="0.45"/>
<use href="#c18" y="-1.02"/>
<use href="#c2" y="-2.10"/>
<use href="#c58" y="-7.87" opacity="0.45"/>
<use href="#c25" y="-0.74"/>
<use href="#c18" y="-2.82"/>
<use href="#c20" y="0.07"/>
<use href="#c2" y="-1.78"/>
<use href="#c9" y="2.63"/>
<use href="#c30" y="1.41" opacity="0.6"/>
<use href="#c8" y="1.27"/>
<use href="#c4" y="-0.82"/>
<use href="#c29" y="5.23"/>
<use href="#c49" y="-12.04" opacity="0.45"/>
<use href="#c14" y="-0.82"/>
<use href="#c31" y="4.23"/>
<use href="#c29" y="5.10"/>
<use href="#c13" y="3.29"/>
<use href="#c89" y="-12.12" opacity="0.45"/>
<use href="#c23" y="-1.71"/>
<use href="#c26" y="0.77"/>
<use href="#c36" y="-4.46"/>
<use href="#c85" y="-8.55" opacity="0.45"/>
<use href="#c1" y="3.59"/>
<use href="#c35" y="3.04" opacity="0.6"/>
<use href="#c0" y="-1.74"/>
<use href="#c25" y="-2.95"/>
<use href="#c6" y="3.25"/>
<use href="#c4" y="-2.51"/>
<use href="#c36" y="0.83" opacity="0.45"/>
<use href="#c12" y="1.39"/>
<use href="#c49" y="-7.11" opacity="0.45"/>
<use href="#c17" y="2.07" opacity="0.6"/>
<use href="#c3" y="-0.12"/>
<use href="#c2" y="-1.61" opacity="0.45"/>
<use href="#c43" y="-5.56" opacity="0.45"/>
<use href="#c75" y="-10.66" opacity="0.45"/>
<use href="#c2" y="-5.60" opacity="0.45"/>
<use href="#c76" y="-10.47" opacity="0.45"/>
<use href="#c19" y="0.25"/>
<use href="#c72" y="-11.37" opacity="0.45"/>
<use href="#c59" y="-2.87" opacity="0.45"/>
<use href="#c6" y="6.10"/>
<use href="#c12" y="0.78"/>
<use href="#c57" y="-11.65" opacity="0.45"/>
<use href="#c14" y="0.80"/>
<use href="#c25" y="-5.35"/>
<use href="#c9" y="3.18"/>
<use href="#c16" y="4.74"/>
<use href="#c15" y="2.87"/>
<use href="#c25" y="-2.45" opacity="0.45"/>
<use href="#c21" y="0.74"/>
<use href="#c4" y="1.68"/>
<use href="#c25" y="-1.00"/>
<use href="#c20" y="-0.50"/>
<use href="#c30" y="5.74"/>
<use href="#c15" y="2.41"/>
<use href="#c5" y="5.44"/>
<use href="#c14" y="0.26"/>
<use href="#c24" y="2.43"/>
<use href="#c24" y="2.37"/>
<use href="#c7" y="4.30"/>
<use href="#c4" y="0.01"/>
<use href="#c14" y="-0.17"/>
<use href="#c62" y="-4.35" opacity="0.45"/>
<use href="#c26" y="0.48"/>
<use href="#c11" y="3.38"/>
<use href="#c68" y="-8.76" opacity="0.45"/>
<use href="#c76" y="-8.75" opacity="0.45"/>
<use href="#c72" y="-16.01" opacity="0.45"/>
<use href="#c36" y="-3.10" opacity="0.45"/>
<use href="#c19" y="-1.00"/>
<use href="#c11" y="4.50"/>
<use href="#c90" y="-8.66" opacity="0.45"/>
<use href="#c20" y="2.25"/>
<use href="#c73" y="-5.31" opacity="0.45"/>
<use href="#c31" y="4.18" opacity="0.6"/>
<use href="#c4" y="-1.44"/>
<use href="#c20" y="0.54"/>
<use href="#c6" y="5.34"/>
<use href="#c67" y="-5.19" opacity="0.45"/>
<use href="#c6" y="4.24"/>
<use href="#c24" y="3.16"/>
<use href="#c30" y="5.19"/>
<use href="#c3" y="-1.02"/>
<use href="#c46" y="-8.42" opacity="0.45"/>
<use href="#c37" y="3.64" opacity="0.6"/>
<use href="#c2" y="-1.79"/>
<use href="#c1" y="5.82"/>
<use href="#c55" y="-6.10" opacity="0.45"/>
<use href="#c68" y="-9.64" opacity="0.45"/>
<use href="#c11" y="1.88"/>
<use href="#c61" y="-7.04" opacity="0.45"/>
<use href="#c24" y="2.14"/>
<use href="#c18" y="-2.57" opacity="0.45"/>
<use href="#c26" y="-1.53"/>
<use href="#c31" y="3.40" opacity="0.6"/>
<use href="#c92" y="-6.99" opacity="0.45"/>
<use href="#c58" y="-10.86" opacity="0.45"/>
<use href="#c72" y="-10.54" opacity="0.45"/>
<use href="#c8" y="0.80"/>
<use href="#c42" y="-5.46" opacity="0.45"/>
<use href="#c6" y="3.28"/>
<use href="#c10" y="2.37"/>
<use href="#c20" y="0.01"/>
<use href="#c62" y="-2.29" opacity="0.45"/>
<use href="#c9" y="1.27"/>
<use href="#c11" y="3.44"/>
<use href="#c6" y="0.87"/>
<use href="#c84" y="-7.87" opacity="0.45"/>
<use href="#c92" y="-8.03" opacity="0.45"/>
<use href="#c34" y="-3.68" opacity="0.45"/>
<use href="#c59" y="-4.60" opacity="0.45"/>
<use href="#c25" y="-2.67"/>
<use href="#c92" y="-5.89" opacity="0.45"/>
<use href="#c6" y="2.82"/>
<use href="#c1" y="1.39" opacity="0.6"/>
<use href="#c4" y="0.30" opacity="0.45"/>
<use href="#c59" y="-4.93" opacity="0.45"/>
<use href="#c88" y="-16.58" opacity="0.45"/>
<use href="#c15" y="0.90"/>
<use href="#c30" y="6.02"/>
<use href="#c9" y="-1.62"/>
<use href="#c26" y="2.28"/>
<use href="#c11" y="4.60"/>
<use href="#c26" y="0.37"/>
<use href="#c0" y="-2.41"/>
<use href="#c14" y="0.69"/>
<use href="#c8" y="1.24"/>
<use href="#c26" y="1.33"/>
<use href="#c31" y="5.04"/>
<use href="#c3" y="-0.64"/>
<use href="#c6" y="1.23" opacity="0.6"/>
<use href="#c37" y="2.91" opacity="0.6"/>
<use href="#c3" y="-2.19"/>
<use href="#c25" y="-0.75"/>
<use href="#c31" y="3.26" opacity="0.6"/>
<use href="#c14" y="-1.67"/>
<use href="#c4" y="-0.11"/>
<use href="#c20" y="-0.63"/>
<use href="#c20" y="-0.88"/>
<use href="#c52" y="-8.55" opacity="0.45"/>
<use href="#c74" y="-3.36" opacity="0.45"/>
<use href="#c59" y="-2.88" opacity="0.45"/>
<use href="#c28" y="1.71"/>
<use href="#c4" y="-1.08"/>
<use href="#c20" y="0.36"/>
<use href="#c32" y="-4.14" opacity="0.45"/>
<use href="#c16" y="3.61" opacity="0.6"/>
<use href="#c4" y="-1.54"/>
<use href="#c5" y="4.35"/>
<use href="#c6" y="1.07" opacity="0.6"/>
<use href="#c19" y="-0.56"/>
</g>
<path d="M496.3 184.7 497.2 184.2 498.1 183.6 499.0 183.0 500.0 182.3 500.9 181.6 501.8 180.9 502.7 180.2 503.6 179.4 504.5 178.7 505.4 177.9 506.3 177.1 507.2 176.2 508.1 175.4 509.0 174.6 510.0 173.7 510.9 172.8 511.8 172.0 512.7 171.1 513.6 170.2 514.5 169.3 515.4 168.4 516.3 167.5 517.2 166.6 518.1 165.7 519.0 164.8 520.0 163.8 520.9 162.9 521.8 162.0 522.7 161.1 523.6 160.2 524.5 159.2 525.4 158.3 526.3 157.4 527.2 156.4 528.1 155.5 529.0 154.6 530.0 153.7 530.9 152.7 531.8 151.8 532.7 150.9 533.6 150.0 534.5 149.0 535.4 148.1 536.3 147.2 537.2 146.3 538.1 145.4 539.0 144.5 540.0 143.6 540.9 142.7 541.8 141.8 542.7 140.9 543.6 140.0 544.5 139.1 545.4 138.2 546.3 137.3 547.2 136.4 548.1 135.5 549.0 134.6 549.9 133.8 550.9 132.9 551.8 132.0 552.7 131.2 553.6 130.3 554.5 129.4 555.4 128.6 556.3 127.7 557.2 126.9 558.1 126.1 559.0 125.2 559.9 124.4 560.9 123.6 561.8 122.7 562.7 121.9 563.6 121.1 564.5 120.3 565.4 119.5 566.3 118.7 567.2 117.9 568.1 117.1 569.0 116.3 569.9 115.5 570.9 114.7 571.8 114.0 572.7 113.2 573.6 112.4 574.5 111.6 575.4 110.9 576.3 110.1 577.2 109.4 578.1 108.6 579.0 107.9 579.9 107.2 580.9 106.4 581.8 105.7 582.7 105.0 583.6 104.2 584.5 103.5 585.4 102.8 586.3 102.1 587.2 101.4 588.1 100.7 589.0 100.0 589.9 99.3 590.9 98.6 591.8 98.0 592.7 97.3 593.6 96.6 594.5 95.9 595.4 95.3 596.3 94.6 597.2 94.0 598.1 93.3 599.0 92.7 599.9 92.0 600.9 91.4 601.8 90.8 602.7 90.1 603.6 89.5 604.5 88.9 605.4 88.3 606.3 87.7 607.2 87.0 608.1 86.4 609.0 85.8 609.9 85.2 610.9 84.7 611.8 84.1 612.7 83.5 613.6 82.9 614.5 82.3 615.4 81.8 616.3 81.2 617.2 80.6 618.1 80.1 619.0 79.5 619.9 79.0 620.9 78.4 621.8 77.9 622.7 77.3 623.6 76.8 624.5 76.3 625.4 75.7 626.3 75.2 627.2 74.7 628.1 74.2 629.0 73.7 629.9 73.1 630.9 72.6 631.8 72.1 632.7 71.6 633.6 71.1 634.5 70.7 635.4 70.2 636.3 69.7 637.2 69.2 638.1 68.7 639.0 68.2 639.9 67.8 640.8 67.3 641.8 66.8 642.7 66.4 643.6 65.9 644.5 65.5 645.4 65.0 646.3 64.6 647.2 64.1 648.1 63.7 649.0 63.3 649.9 62.8 650.8 62.4 651.8 62.0 652.7 61.6 653.6 61.1 654.5 60.7 655.4 60.3 656.3 59.9 657.2 59.5 658.1 59.1 659.0 58.7 659.9 58.3 660.8 57.9 661.8 57.5 662.7 57.1 663.6 56.7 664.5 56.3 665.4 55.9 666.3 55.6 667.2 55.2 668.1 54.8 669.0 54.5 669.9 54.1 670.8 53.7 671.8 53.4 672.7 53.0 673.6 52.7 674.5 52.3 675.4 51.9 676.3 51.6" fill="none" stroke="#111" stroke-width="1.6" stroke-linecap="round"/>
<path d="M496.3 195.9 497.2 194.4 498.1 192.9 499.0 191.4 500.0 190.0 500.9 188.6 501.8 187.3 502.7 185.9 503.6 184.6 504.5 183.4 505.4 182.1 506.3 180.9 507.2 179.7 508.1 178.5 509.0 177.3 510.0 176.1 510.9 175.0 511.8 173.9 512.7 172.8 513.6 171.7 514.5 170.7 515.4 169.6 516.3 168.6 517.2 167.6 518.1 166.6 519.0 165.6 520.0 164.6 520.9 163.6 521.8 162.7 522.7 161.8 523.6 160.8 524.5 159.9 525.4 159.0 526.3 158.2 527.2 157.3 528.1 156.5 529.0 155.6 530.0 154.8 530.9 154.0 531.8 153.2 532.7 152.4 533.6 151.6 534.5 150.8 535.4 150.0 536.3 149.3 537.2 148.6 538.1 147.8 539.0 147.1 540.0 146.4 540.9 145.7 541.8 145.0 542.7 144.3 543.6 143.6 544.5 143.0 545.4 142.3 546.3 141.7 547.2 141.0 548.1 140.4 549.0 139.8 549.9 139.2 550.9 138.6 551.8 138.0 552.7 137.4 553.6 136.8 554.5 136.3 555.4 135.7 556.3 135.1 557.2 134.6 558.1 134.0 559.0 133.5 559.9 133.0 560.9 132.5 561.8 132.0 562.7 131.5 563.6 131.0 564.5 130.5 565.4 130.0 566.3 129.5 567.2 129.0 568.1 128.6 569.0 128.1 569.9 127.6 570.9 127.2 571.8 126.8 572.7 126.3 573.6 125.9 574.5 125.5 575.4 125.0 576.3 124.6 577.2 124.2 578.1 123.8 579.0 123.4 579.9 123.0 580.9 122.6 581.8 122.3 582.7 121.9 583.6 121.5 584.5 121.1 585.4 120.8 586.3 120.4 587.2 120.1 588.1 119.7" fill="none" stroke="#dd6c30" stroke-width="1.6"/>
<path d="M588.1 119.7 589.0 119.4 589.9 119.0 590.9 118.7 591.8 118.4 592.7 118.0 593.6 117.7 594.5 117.4 595.4 117.1 596.3 116.8 597.2 116.5 598.1 116.2 599.0 115.9 599.9 115.6 600.9 115.3 601.8 115.0 602.7 114.7 603.6 114.5 604.5 114.2 605.4 113.9 606.3 113.6 607.2 113.4 608.1 113.1 609.0 112.9 609.9 112.6 610.9 112.4 611.8 112.1 612.7 111.9 613.6 111.6 614.5 111.4 615.4 111.1 616.3 110.9 617.2 110.7 618.1 110.5 619.0 110.2 619.9 110.0 620.9 109.8 621.8 109.6 622.7 109.4 623.6 109.2 624.5 109.0 625.4 108.8 626.3 108.6 627.2 108.4 628.1 108.2 629.0 108.0 629.9 107.8 630.9 107.6 631.8 107.4 632.7 107.2 633.6 107.0 634.5 106.9 635.4 106.7 636.3 106.5 637.2 106.3 638.1 106.2 639.0 106.0 639.9 105.8 640.8 105.7 641.8 105.5 642.7 105.4 643.6 105.2 644.5 105.1 645.4 104.9 646.3 104.8 647.2 104.6 648.1 104.5 649.0 104.3 649.9 104.2 650.8 104.0 651.8 103.9 652.7 103.8 653.6 103.6 654.5 103.5 655.4 103.4 656.3 103.2 657.2 103.1 658.1 103.0 659.0 102.8 659.9 102.7 660.8 102.6 661.8 102.5 662.7 102.4 663.6 102.2 664.5 102.1 665.4 102.0 666.3 101.9 667.2 101.8 668.1 101.7 669.0 101.6 669.9 101.5 670.8 101.3 671.8 101.2 672.7 101.1 673.6 101.0 674.5 100.9 675.4 100.8 676.3 100.7" fill="none" stroke="#dd6c30" stroke-width="1.6" stroke-dasharray="4.2 3.25" stroke-dashoffset="4.2"/>
<g stroke="#8c8c8c" stroke-width="1" fill="none">
<path d="M494.5 15V199.4H684.9"/>
<path d="M491.7 199.4H494.5"/>
<path d="M491.7 155.4H494.5"/>
<path d="M491.7 111.4H494.5"/>
<path d="M491.7 67.4H494.5"/>
<path d="M491.7 23.4H494.5"/>
<path d="M494.5 199.4V202"/>
<path d="M540.0 199.4V202"/>
<path d="M585.4 199.4V202"/>
<path d="M630.9 199.4V202"/>
<path d="M676.3 199.4V202"/>
</g>
<g font-size="8.4" fill="#3a3a3a" text-anchor="end">
<text x="488.0" y="202.3">0</text>
<text x="488.0" y="158.3">50</text>
<text x="488.0" y="114.3">100</text>
<text x="488.0" y="70.3">150</text>
<text x="488.0" y="26.3">200</text>
</g>
<g font-size="8.4" fill="#3a3a3a" text-anchor="middle">
<text x="494.5" y="211.3">0</text>
<text x="540.0" y="211.3">25</text>
<text x="585.4" y="211.3">50</text>
<text x="630.9" y="211.3">75</text>
<text x="676.3" y="211.3">100</text>
</g>
<text transform="translate(469.1 142.3) rotate(-90)" font-size="8.9" fill="#3a3a3a" textLength="61.5" lengthAdjust="spacingAndGlyphs">AGC (MgC ha<tspan font-size="5.9" dy="-3.4">−1</tspan><tspan dy="3.4">)</tspan></text>
<text x="457.6" y="9.3" font-size="11.6" font-weight="bold" fill="#111">c</text>
<text x="470" y="9.1" font-size="8.8" fill="#3a3a3a">Borneo</text>
<text x="308" y="223.2" font-size="8.5" fill="#3a3a3a">Age (years)</text>
<path d="M200.9 235.6H219.7" stroke="#8aab6a" stroke-width="1.6"/>
<text x="223.7" y="238" font-size="8.8" fill="#3a3a3a">Pixel estimates</text>
<path d="M315.7 235.4H333.7" stroke="#111" stroke-width="1.6"/>
<text x="338.7" y="238" font-size="8.8" fill="#3a3a3a">Region means</text>
<path d="M426.7 235.6H445.4" stroke="#dd6c30" stroke-width="1.6"/>
<text x="449.7" y="238" font-size="8.8" fill="#3a3a3a">Heinrich et al.<tspan font-size="6.5" dy="-3.4">19,20</tspan></text>
</svg></body></html>
